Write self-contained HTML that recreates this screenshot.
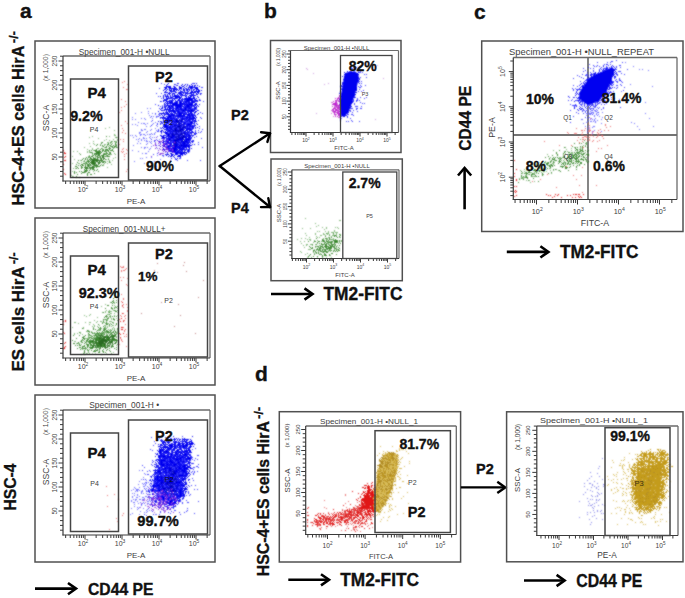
<!DOCTYPE html>
<html><head><meta charset="utf-8"><style>
html,body{margin:0;padding:0;background:#fff;width:685px;height:598px;overflow:hidden}
svg{display:block}
</style></head><body>
<svg width="685" height="598" viewBox="0 0 685 598" font-family='"Liberation Sans", sans-serif'>
<rect width="685" height="598" fill="#fff"/>
<defs><filter id="bl" x="0" y="0" width="685" height="598" filterUnits="userSpaceOnUse"><feConvolveMatrix order="3" kernelMatrix="1 2 1 2 8 2 1 2 1" divisor="20" edgeMode="none"/></filter></defs>
<line x1="588" y1="57.5" x2="588" y2="199.5" stroke="#444" stroke-width="1.3"/>
<line x1="513.3" y1="135" x2="677" y2="135" stroke="#444" stroke-width="1.3"/>
<g filter="url(#bl)"><path d="M387.6 453.1 L392.9 452.6 L397.2 454.9 L397.8 461.0 L395.5 475.0 L391.0 490.8 L385.8 503.0 L380.6 510.0 L377.0 511.8 L375.3 510.0 L375.3 492.6 L377.0 475.0 L380.6 461.0 L384.0 455.0Z" fill="#c6a024"/>
<path d="M640.0 470.0 L662.0 465.0 L660.0 495.0 L650.0 508.0 L637.0 503.0 L635.0 485.0Z" fill="#c6a024"/>
<path d="M606 64h1m-4 2h1m2 0h1m4 0h1m1 0h1m0 1h1m-9 1h1m0 0h1m2 0h1m0 0h1m-258 1h1m248 0h1m1 0h1m0 0h1m1 0h1m0 0h1m0 0h1m0 0h1m0 0h1m1 0h1m-16 1h1m2 0h1m1 0h1m1 0h1m6 0h1m0 0h1m-268 1h1m2 0h1m0 0h1m1 0h1m249 0h1m1 0h1m2 0h1m0 0h1m2 0h1m2 0h1m-272 1h1m3 0h1m0 0h1m0 0h1m2 0h1m4 0h1m236 0h1m5 0h1m0 0h1m3 0h1m3 0h1m0 0h1m0 0h1m0 0h1m-269 1h1m3 0h1m1 0h1m0 0h1m2 0h1m0 0h1m0 0h1m236 0h1m0 0h1m2 0h1m1 0h1m0 0h1m0 0h1m1 0h1m2 0h1m2 0h1m1 0h1m0 0h1m-270 1h1m2 0h1m0 0h1m0 0h1m0 0h1m1 0h1m2 0h1m0 0h1m1 0h1m232 0h1m2 0h1m1 0h1m0 0h1m0 0h1m0 0h1m0 0h1m2 0h1m0 0h1m0 0h1m0 0h1m0 0h1m0 0h1m0 0h1m0 0h1m1 0h1m0 0h1m-268 1h1m1 0h1m0 0h1m1 0h1m2 0h1m1 0h1m0 0h1m232 0h1m0 0h1m1 0h1m0 0h1m0 0h1m1 0h1m0 0h1m0 0h1m2 0h1m0 0h1m1 0h1m0 0h1m0 0h1m1 0h1m1 0h1m1 0h1m-272 1h1m1 0h1m0 0h1m6 0h1m0 0h1m0 0h1m0 0h1m0 0h1m0 0h1m233 0h1m2 0h1m0 0h1m1 0h1m0 0h1m1 0h1m1 0h1m0 0h1m0 0h1m0 0h1m0 0h1m0 0h1m0 0h1m0 0h1m0 0h1m0 0h1m0 0h1m1 0h1m0 0h1m-272 1h1m3 0h1m0 0h1m0 0h1m0 0h1m1 0h1m2 0h1m1 0h1m229 0h1m2 0h1m0 0h1m2 0h1m0 0h1m0 0h1m0 0h1m1 0h1m0 0h1m0 0h1m0 0h1m0 0h1m0 0h1m1 0h1m0 0h1m0 0h1m-266 1h1m1 0h1m0 0h1m2 0h1m1 0h1m0 0h1m2 0h1m234 0h1m0 0h1m0 0h1m2 0h1m0 0h1m0 0h1m0 0h1m0 0h1m1 0h1m1 0h1m0 0h1m0 0h1m0 0h1m2 0h1m-268 1h1m0 0h1m0 0h1m1 0h1m0 0h1m2 0h1m2 0h1m4 0h1m227 0h1m1 0h1m0 0h1m0 0h1m0 0h1m0 0h1m1 0h1m1 0h1m0 0h1m0 0h1m0 0h1m1 0h1m0 0h1m3 0h1m0 0h1m0 0h1m0 0h1m0 0h1m-267 1h1m1 0h1m0 0h1m0 0h1m5 0h1m0 0h1m0 0h1m0 0h1m229 0h1m4 0h1m0 0h1m0 0h1m0 0h1m0 0h1m0 0h1m1 0h1m0 0h1m1 0h1m1 0h1m1 0h1m0 0h1m1 0h1m0 0h1m8 0h1m-276 1h1m0 0h1m5 0h1m2 0h1m231 0h1m0 0h1m0 0h1m1 0h1m0 0h1m0 0h1m0 0h1m0 0h1m0 0h1m1 0h1m0 0h1m0 0h1m0 0h1m0 0h1m0 0h1m3 0h1m1 0h1m1 0h1m-270 1h1m1 0h1m1 0h1m0 0h1m0 0h1m3 0h1m232 0h1m2 0h1m0 0h1m0 0h1m1 0h1m1 0h1m0 0h1m1 0h1m2 0h1m0 0h1m0 0h1m2 0h1m0 0h1m0 0h1m0 0h1m1 0h1m0 0h1m0 0h1m-445 1h1m8 0h1m16 0h1m1 0h1m145 0h1m0 0h1m2 0h1m3 0h1m0 0h1m1 0h1m0 0h1m4 0h1m221 0h1m2 0h1m1 0h1m0 0h1m1 0h1m1 0h1m1 0h1m1 0h1m0 0h1m0 0h1m1 0h1m0 0h1m0 0h1m0 0h1m0 0h1m0 0h1m0 0h1m1 0h1m0 0h1m0 0h1m0 0h1m-444 1h1m6 0h1m7 0h1m2 0h1m1 0h1m3 0h1m152 0h1m1 0h1m0 0h1m0 0h1m0 0h1m0 0h1m1 0h1m1 0h1m0 0h1m0 0h1m227 0h1m1 0h1m0 0h1m0 0h1m0 0h1m1 0h1m2 0h1m1 0h1m0 0h1m0 0h1m1 0h1m0 0h1m0 0h1m0 0h1m0 0h1m0 0h1m1 0h1m2 0h1m-445 1h1m9 0h1m0 0h1m3 0h1m2 0h1m2 0h1m1 0h1m2 0h1m1 0h1m0 0h1m1 0h1m143 0h1m1 0h1m0 0h1m0 0h1m0 0h1m0 0h1m2 0h1m0 0h1m0 0h1m0 0h1m0 0h1m1 0h1m222 0h1m2 0h1m0 0h1m2 0h1m1 0h1m0 0h1m0 0h1m0 0h1m0 0h1m0 0h1m0 0h1m0 0h1m0 0h1m0 0h1m0 0h1m0 0h1m0 0h1m0 0h1m0 0h1m0 0h1m0 0h1m0 0h1m0 0h1m1 0h1m0 0h1m1 0h1m-446 1h1m0 0h1m0 0h1m0 0h1m0 0h1m3 0h1m4 0h1m2 0h1m0 0h1m2 0h1m2 0h1m0 0h1m0 0h1m0 0h1m1 0h1m4 0h1m141 0h1m3 0h1m1 0h1m0 0h1m0 0h1m0 0h1m2 0h1m0 0h1m0 0h1m226 0h1m0 0h1m0 0h1m0 0h1m0 0h1m0 0h1m0 0h1m0 0h1m0 0h1m0 0h1m0 0h1m0 0h1m0 0h1m0 0h1m0 0h1m0 0h1m1 0h1m0 0h1m0 0h1m0 0h1m1 0h1m1 0h1m0 0h1m-444 1h1m0 0h1m0 0h1m1 0h1m0 0h1m0 0h1m3 0h1m0 0h1m3 0h1m0 0h1m0 0h1m2 0h1m3 0h1m1 0h1m0 0h1m0 0h1m0 0h1m0 0h1m0 0h1m0 0h1m0 0h1m145 0h1m0 0h1m0 0h1m0 0h1m6 0h1m0 0h1m1 0h1m223 0h1m1 0h1m0 0h1m1 0h1m0 0h1m1 0h1m0 0h1m0 0h1m0 0h1m0 0h1m0 0h1m0 0h1m0 0h1m0 0h1m0 0h1m1 0h1m0 0h1m0 0h1m0 0h1m0 0h1m0 0h1m0 0h1m0 0h1m0 0h1m1 0h1m2 0h1m-448 1h1m0 0h1m2 0h1m0 0h1m0 0h1m0 0h1m0 0h1m0 0h1m0 0h1m0 0h1m2 0h1m0 0h1m0 0h1m1 0h1m1 0h1m0 0h1m1 0h1m1 0h1m0 0h1m3 0h1m0 0h1m0 0h1m144 0h1m5 0h1m1 0h1m0 0h1m0 0h1m3 0h1m227 0h1m1 0h1m0 0h1m0 0h1m0 0h1m0 0h1m0 0h1m0 0h1m0 0h1m1 0h1m0 0h1m0 0h1m0 0h1m0 0h1m0 0h1m1 0h1m3 0h1m0 0h1m1 0h1m0 0h1m-447 1h1m0 0h1m1 0h1m1 0h1m1 0h1m1 0h1m0 0h1m0 0h1m0 0h1m0 0h1m1 0h1m1 0h1m1 0h1m0 0h1m1 0h1m0 0h1m1 0h1m1 0h1m1 0h1m0 0h1m1 0h1m0 0h1m0 0h1m142 0h1m0 0h1m0 0h1m0 0h1m0 0h1m0 0h1m0 0h1m2 0h1m0 0h1m1 0h1m2 0h1m222 0h1m2 0h1m1 0h1m0 0h1m0 0h1m0 0h1m0 0h1m2 0h1m1 0h1m0 0h1m0 0h1m0 0h1m0 0h1m0 0h1m0 0h1m0 0h1m0 0h1m0 0h1m0 0h1m1 0h1m2 0h1m0 0h1m-447 1h1m2 0h1m2 0h1m0 0h1m0 0h1m1 0h1m0 0h1m1 0h1m1 0h1m1 0h1m2 0h1m0 0h1m1 0h1m0 0h1m1 0h1m1 0h1m1 0h1m2 0h1m1 0h1m0 0h1m1 0h1m141 0h1m0 0h1m0 0h1m5 0h1m0 0h1m1 0h1m0 0h1m0 0h1m220 0h1m5 0h1m0 0h1m1 0h1m0 0h1m0 0h1m0 0h1m0 0h1m0 0h1m1 0h1m0 0h1m0 0h1m0 0h1m0 0h1m0 0h1m0 0h1m0 0h1m0 0h1m0 0h1m0 0h1m0 0h1m0 0h1m0 0h1m-442 1h1m4 0h1m0 0h1m0 0h1m0 0h1m0 0h1m0 0h1m4 0h1m0 0h1m0 0h1m1 0h1m2 0h1m0 0h1m2 0h1m0 0h1m1 0h1m0 0h1m0 0h1m0 0h1m0 0h1m0 0h1m144 0h1m1 0h1m2 0h1m0 0h1m0 0h1m0 0h1m228 0h1m0 0h1m1 0h1m0 0h1m0 0h1m0 0h1m1 0h1m0 0h1m0 0h1m0 0h1m1 0h1m0 0h1m0 0h1m0 0h1m0 0h1m0 0h1m0 0h1m0 0h1m0 0h1m0 0h1m0 0h1m0 0h1m2 0h1m-445 1h1m0 0h1m0 0h1m0 0h1m1 0h1m1 0h1m3 0h1m0 0h1m1 0h1m0 0h1m0 0h1m0 0h1m0 0h1m0 0h1m1 0h1m1 0h1m2 0h1m0 0h1m0 0h1m0 0h1m0 0h1m0 0h1m1 0h1m0 0h1m141 0h1m1 0h1m0 0h1m1 0h1m0 0h1m0 0h1m0 0h1m2 0h1m1 0h1m1 0h1m0 0h1m219 0h1m3 0h1m0 0h1m0 0h1m0 0h1m0 0h1m0 0h1m0 0h1m0 0h1m0 0h1m1 0h1m0 0h1m0 0h1m0 0h1m0 0h1m0 0h1m0 0h1m0 0h1m0 0h1m0 0h1m1 0h1m0 0h1m0 0h1m0 0h1m0 0h1m0 0h1m0 0h1m2 0h1m-443 1h1m0 0h1m0 0h1m1 0h1m0 0h1m0 0h1m3 0h1m0 0h1m0 0h1m0 0h1m1 0h1m1 0h1m0 0h1m0 0h1m0 0h1m0 0h1m0 0h1m0 0h1m1 0h1m2 0h1m1 0h1m1 0h1m138 0h1m1 0h1m1 0h1m0 0h1m0 0h1m1 0h1m0 0h1m1 0h1m0 0h1m0 0h1m224 0h1m1 0h1m0 0h1m0 0h1m0 0h1m1 0h1m0 0h1m1 0h1m0 0h1m0 0h1m0 0h1m0 0h1m0 0h1m0 0h1m0 0h1m0 0h1m0 0h1m0 0h1m0 0h1m0 0h1m0 0h1m0 0h1m0 0h1m0 0h1m0 0h1m2 0h1m-443 1h1m1 0h1m1 0h1m2 0h1m1 0h1m2 0h1m1 0h1m1 0h1m0 0h1m2 0h1m1 0h1m3 0h1m0 0h1m0 0h1m2 0h1m0 0h1m2 0h1m140 0h1m0 0h1m0 0h1m2 0h1m1 0h1m0 0h1m0 0h1m1 0h1m0 0h1m0 0h1m0 0h1m220 0h1m1 0h1m1 0h1m1 0h1m0 0h1m0 0h1m0 0h1m0 0h1m0 0h1m1 0h1m0 0h1m0 0h1m0 0h1m0 0h1m0 0h1m0 0h1m0 0h1m0 0h1m0 0h1m0 0h1m3 0h1m1 0h1m0 0h1m-444 1h1m1 0h1m1 0h1m2 0h1m1 0h1m1 0h1m0 0h1m0 0h1m0 0h1m0 0h1m1 0h1m1 0h1m0 0h1m0 0h1m0 0h1m0 0h1m2 0h1m0 0h1m0 0h1m0 0h1m0 0h1m0 0h1m0 0h1m147 0h1m0 0h1m0 0h1m2 0h1m1 0h1m0 0h1m0 0h1m1 0h1m220 0h1m4 0h1m0 0h1m0 0h1m0 0h1m0 0h1m0 0h1m0 0h1m0 0h1m0 0h1m1 0h1m0 0h1m0 0h1m2 0h1m0 0h1m0 0h1m0 0h1m0 0h1m0 0h1m0 0h1m0 0h1m1 0h1m-445 1h1m2 0h1m1 0h1m0 0h1m0 0h1m0 0h1m1 0h1m2 0h1m0 0h1m0 0h1m0 0h1m0 0h1m0 0h1m0 0h1m1 0h1m3 0h1m2 0h1m1 0h1m0 0h1m1 0h1m3 0h1m142 0h1m2 0h1m2 0h1m0 0h1m2 0h1m3 0h1m213 0h1m11 0h1m0 0h1m0 0h1m1 0h1m0 0h1m0 0h1m0 0h1m0 0h1m0 0h1m0 0h1m0 0h1m0 0h1m0 0h1m0 0h1m0 0h1m0 0h1m0 0h1m0 0h1m0 0h1m0 0h1m1 0h1m-440 1h1m2 0h1m1 0h1m1 0h1m0 0h1m0 0h1m2 0h1m0 0h1m0 0h1m0 0h1m0 0h1m0 0h1m0 0h1m4 0h1m1 0h1m0 0h1m0 0h1m2 0h1m0 0h1m3 0h1m145 0h1m0 0h1m0 0h1m0 0h1m3 0h1m0 0h1m1 0h1m218 0h1m4 0h1m0 0h1m1 0h1m0 0h1m0 0h1m0 0h1m0 0h1m0 0h1m0 0h1m0 0h1m0 0h1m0 0h1m0 0h1m0 0h1m0 0h1m0 0h1m1 0h1m0 0h1m0 0h1m0 0h1m0 0h1m1 0h1m-440 1h1m2 0h1m0 0h1m0 0h1m0 0h1m0 0h1m2 0h1m0 0h1m0 0h1m0 0h1m0 0h1m1 0h1m0 0h1m1 0h1m1 0h1m0 0h1m0 0h1m0 0h1m0 0h1m0 0h1m0 0h1m0 0h1m0 0h1m0 0h1m0 0h1m1 0h1m142 0h1m3 0h1m0 0h1m0 0h1m0 0h1m0 0h1m0 0h1m0 0h1m0 0h1m226 0h1m2 0h1m0 0h1m0 0h1m0 0h1m0 0h1m0 0h1m0 0h1m0 0h1m0 0h1m0 0h1m0 0h1m1 0h1m0 0h1m0 0h1m0 0h1m0 0h1m1 0h1m0 0h1m0 0h1m1 0h1m2 0h1m-442 1h1m0 0h1m0 0h1m0 0h1m4 0h1m1 0h1m3 0h1m0 0h1m1 0h1m0 0h1m1 0h1m0 0h1m0 0h1m0 0h1m0 0h1m0 0h1m0 0h1m0 0h1m0 0h1m1 0h1m0 0h1m3 0h1m139 0h1m0 0h1m2 0h1m0 0h1m1 0h1m0 0h1m2 0h1m0 0h1m0 0h1m226 0h1m1 0h1m0 0h1m0 0h1m1 0h1m0 0h1m0 0h1m0 0h1m1 0h1m0 0h1m0 0h1m0 0h1m0 0h1m0 0h1m0 0h1m2 0h1m1 0h1m0 0h1m-440 1h1m0 0h1m0 0h1m0 0h1m2 0h1m0 0h1m0 0h1m0 0h1m0 0h1m1 0h1m1 0h1m0 0h1m0 0h1m0 0h1m0 0h1m0 0h1m1 0h1m0 0h1m0 0h1m0 0h1m0 0h1m0 0h1m0 0h1m0 0h1m0 0h1m0 0h1m0 0h1m0 0h1m0 0h1m0 0h1m1 0h1m139 0h1m1 0h1m0 0h1m0 0h1m0 0h1m0 0h1m0 0h1m1 0h1m0 0h1m0 0h1m0 0h1m1 0h1m217 0h1m5 0h1m0 0h1m0 0h1m3 0h1m1 0h1m0 0h1m0 0h1m0 0h1m0 0h1m0 0h1m0 0h1m1 0h1m0 0h1m0 0h1m0 0h1m0 0h1m0 0h1m2 0h1m1 0h1m0 0h1m-445 1h1m0 0h1m1 0h1m2 0h1m0 0h1m0 0h1m0 0h1m0 0h1m0 0h1m0 0h1m2 0h1m0 0h1m0 0h1m1 0h1m0 0h1m0 0h1m0 0h1m1 0h1m0 0h1m0 0h1m0 0h1m0 0h1m0 0h1m1 0h1m0 0h1m0 0h1m0 0h1m0 0h1m1 0h1m140 0h1m0 0h1m0 0h1m3 0h1m2 0h1m0 0h1m1 0h1m0 0h1m0 0h1m0 0h1m220 0h1m3 0h1m1 0h1m0 0h1m0 0h1m2 0h1m0 0h1m0 0h1m0 0h1m0 0h1m0 0h1m0 0h1m1 0h1m0 0h1m0 0h1m0 0h1m0 0h1m0 0h1m3 0h1m-438 1h1m1 0h1m1 0h1m0 0h1m0 0h1m0 0h1m1 0h1m0 0h1m0 0h1m0 0h1m1 0h1m0 0h1m0 0h1m1 0h1m0 0h1m0 0h1m0 0h1m0 0h1m0 0h1m0 0h1m0 0h1m0 0h1m0 0h1m0 0h1m0 0h1m146 0h1m0 0h1m0 0h1m0 0h1m0 0h1m1 0h1m3 0h1m0 0h1m226 0h1m5 0h1m1 0h1m0 0h1m0 0h1m0 0h1m1 0h1m0 0h1m0 0h1m2 0h1m1 0h1m4 0h1m-441 1h1m1 0h1m0 0h1m0 0h1m0 0h1m0 0h1m0 0h1m0 0h1m0 0h1m0 0h1m0 0h1m0 0h1m0 0h1m1 0h1m0 0h1m0 0h1m0 0h1m0 0h1m0 0h1m1 0h1m0 0h1m0 0h1m0 0h1m0 0h1m0 0h1m0 0h1m2 0h1m0 0h1m144 0h1m0 0h1m2 0h1m0 0h1m0 0h1m0 0h1m0 0h1m0 0h1m0 0h1m227 0h1m4 0h1m2 0h1m1 0h1m0 0h1m0 0h1m0 0h1m6 0h1m-436 1h1m0 0h1m1 0h1m2 0h1m1 0h1m0 0h1m0 0h1m0 0h1m0 0h1m0 0h1m0 0h1m0 0h1m0 0h1m0 0h1m0 0h1m0 0h1m0 0h1m0 0h1m0 0h1m0 0h1m0 0h1m0 0h1m0 0h1m0 0h1m0 0h1m1 0h1m0 0h1m0 0h1m2 0h1m140 0h1m1 0h1m0 0h1m0 0h1m1 0h1m234 0h1m2 0h1m3 0h1m3 0h1m4 0h1m-440 1h1m5 0h1m0 0h1m0 0h1m0 0h1m0 0h1m0 0h1m0 0h1m0 0h1m0 0h1m0 0h1m0 0h1m0 0h1m0 0h1m0 0h1m0 0h1m0 0h1m0 0h1m0 0h1m0 0h1m1 0h1m1 0h1m0 0h1m0 0h1m0 0h1m0 0h1m0 0h1m0 0h1m0 0h1m0 0h1m0 0h1m1 0h1m142 0h1m1 0h1m0 0h1m0 0h1m0 0h1m3 0h1m234 0h1m2 0h1m3 0h1m0 0h1m-431 1h1m1 0h1m1 0h1m1 0h1m0 0h1m0 0h1m0 0h1m0 0h1m0 0h1m1 0h1m0 0h1m0 0h1m0 0h1m0 0h1m0 0h1m0 0h1m0 0h1m0 0h1m0 0h1m0 0h1m0 0h1m0 0h1m0 0h1m0 0h1m0 0h1m0 0h1m0 0h1m0 0h1m0 0h1m1 0h1m1 0h1m140 0h1m1 0h1m1 0h1m0 0h1m2 0h1m1 0h1m1 0h1m224 0h1m13 0h1m2 0h1m1 0h1m-434 1h1m1 0h1m0 0h1m1 0h1m0 0h1m0 0h1m0 0h1m0 0h1m0 0h1m0 0h1m1 0h1m0 0h1m0 0h1m0 0h1m0 0h1m0 0h1m0 0h1m1 0h1m0 0h1m0 0h1m0 0h1m0 0h1m0 0h1m0 0h1m0 0h1m0 0h1m2 0h1m0 0h1m0 0h1m146 0h1m0 0h1m0 0h1m0 0h1m0 0h1m2 0h1m223 0h1m5 0h1m4 0h1m3 0h1m-429 1h1m0 0h1m2 0h1m1 0h1m1 0h1m0 0h1m0 0h1m0 0h1m0 0h1m0 0h1m0 0h1m0 0h1m0 0h1m0 0h1m0 0h1m0 0h1m0 0h1m0 0h1m0 0h1m0 0h1m0 0h1m0 0h1m0 0h1m0 0h1m0 0h1m0 0h1m0 0h1m0 0h1m0 0h1m0 0h1m0 0h1m0 0h1m142 0h1m0 0h1m1 0h1m2 0h1m3 0h1m224 0h1m4 0h1m2 0h1m7 0h1m2 0h1m-434 1h1m3 0h1m0 0h1m0 0h1m0 0h1m0 0h1m0 0h1m0 0h1m1 0h1m0 0h1m1 0h1m0 0h1m0 0h1m0 0h1m0 0h1m0 0h1m0 0h1m0 0h1m0 0h1m0 0h1m0 0h1m0 0h1m0 0h1m0 0h1m0 0h1m0 0h1m0 0h1m0 0h1m0 0h1m0 0h1m1 0h1m148 0h1m0 0h1m233 0h1m2 0h1m6 0h1m-430 1h1m0 0h1m0 0h1m0 0h1m1 0h1m1 0h1m1 0h1m0 0h1m0 0h1m0 0h1m0 0h1m0 0h1m0 0h1m0 0h1m0 0h1m0 0h1m0 0h1m0 0h1m0 0h1m0 0h1m0 0h1m0 0h1m0 0h1m0 0h1m0 0h1m0 0h1m0 0h1m0 0h1m0 0h1m0 0h1m0 0h1m2 0h1m143 0h1m1 0h1m1 0h1m232 0h1m7 0h1m0 0h1m-430 1h1m7 0h1m1 0h1m0 0h1m0 0h1m0 0h1m0 0h1m0 0h1m0 0h1m0 0h1m0 0h1m0 0h1m0 0h1m0 0h1m0 0h1m0 0h1m0 0h1m0 0h1m0 0h1m2 0h1m0 0h1m0 0h1m0 0h1m0 0h1m0 0h1m0 0h1m1 0h1m0 0h1m143 0h1m3 0h1m0 0h1m0 0h1m0 0h1m-185 1h1m1 0h1m0 0h1m0 0h1m1 0h1m1 0h1m1 0h1m0 0h1m0 0h1m1 0h1m0 0h1m0 0h1m0 0h1m0 0h1m0 0h1m0 0h1m0 0h1m0 0h1m0 0h1m0 0h1m0 0h1m1 0h1m0 0h1m2 0h1m0 0h1m147 0h1m1 0h1m0 0h1m0 0h1m0 0h1m242 0h1m-433 1h1m0 0h1m0 0h1m0 0h1m0 0h1m0 0h1m0 0h1m0 0h1m0 0h1m0 0h1m1 0h1m0 0h1m0 0h1m1 0h1m0 0h1m1 0h1m0 0h1m0 0h1m0 0h1m0 0h1m0 0h1m0 0h1m0 0h1m0 0h1m0 0h1m1 0h1m0 0h1m0 0h1m0 0h1m0 0h1m1 0h1m3 0h1m141 0h1m4 0h1m-185 1h1m2 0h1m0 0h1m0 0h1m0 0h1m0 0h1m0 0h1m0 0h1m0 0h1m0 0h1m0 0h1m0 0h1m1 0h1m0 0h1m0 0h1m0 0h1m0 0h1m0 0h1m1 0h1m0 0h1m0 0h1m0 0h1m0 0h1m0 0h1m0 0h1m0 0h1m0 0h1m0 0h1m0 0h1m0 0h1m2 0h1m144 0h1m1 0h1m0 0h1m-186 1h1m1 0h1m1 0h1m3 0h1m0 0h1m0 0h1m0 0h1m0 0h1m0 0h1m0 0h1m0 0h1m0 0h1m0 0h1m0 0h1m0 0h1m0 0h1m0 0h1m0 0h1m0 0h1m0 0h1m2 0h1m0 0h1m0 0h1m0 0h1m0 0h1m0 0h1m0 0h1m0 0h1m0 0h1m149 0h1m0 0h1m-184 1h1m2 0h1m1 0h1m0 0h1m0 0h1m0 0h1m0 0h1m0 0h1m0 0h1m0 0h1m0 0h1m0 0h1m0 0h1m0 0h1m0 0h1m0 0h1m0 0h1m0 0h1m0 0h1m0 0h1m0 0h1m0 0h1m0 0h1m0 0h1m0 0h1m0 0h1m0 0h1m0 0h1m1 0h1m143 0h1m1 0h1m1 0h1m0 0h1m2 0h1m-188 1h1m0 0h1m0 0h1m0 0h1m0 0h1m0 0h1m1 0h1m0 0h1m0 0h1m0 0h1m0 0h1m0 0h1m0 0h1m0 0h1m0 0h1m1 0h1m0 0h1m0 0h1m0 0h1m0 0h1m0 0h1m0 0h1m0 0h1m0 0h1m0 0h1m0 0h1m0 0h1m0 0h1m0 0h1m1 0h1m0 0h1m0 0h1m1 0h1m-35 1h1m1 0h1m0 0h1m0 0h1m0 0h1m0 0h1m0 0h1m0 0h1m0 0h1m0 0h1m0 0h1m0 0h1m0 0h1m0 0h1m0 0h1m0 0h1m1 0h1m0 0h1m0 0h1m0 0h1m0 0h1m0 0h1m0 0h1m0 0h1m0 0h1m0 0h1m0 0h1m0 0h1m0 0h1m0 0h1m0 0h1m0 0h1m-33 1h1m1 0h1m0 0h1m0 0h1m0 0h1m0 0h1m0 0h1m0 0h1m0 0h1m1 0h1m0 0h1m0 0h1m0 0h1m1 0h1m0 0h1m0 0h1m0 0h1m0 0h1m0 0h1m0 0h1m0 0h1m0 0h1m0 0h1m0 0h1m0 0h1m0 0h1m0 0h1m0 0h1m1 0h1m-33 1h1m1 0h1m1 0h1m0 0h1m0 0h1m0 0h1m0 0h1m0 0h1m0 0h1m0 0h1m0 0h1m0 0h1m0 0h1m0 0h1m0 0h1m0 0h1m0 0h1m0 0h1m1 0h1m0 0h1m1 0h1m0 0h1m0 0h1m0 0h1m1 0h1m1 0h1m0 0h1m2 0h1m-41 1h1m1 0h1m2 0h1m0 0h1m0 0h1m0 0h1m0 0h1m0 0h1m0 0h1m0 0h1m0 0h1m0 0h1m0 0h1m0 0h1m0 0h1m0 0h1m0 0h1m0 0h1m0 0h1m0 0h1m0 0h1m0 0h1m0 0h1m0 0h1m0 0h1m0 0h1m0 0h1m0 0h1m0 0h1m0 0h1m0 0h1m0 0h1m0 0h1m0 0h1m0 0h1m0 0h1m-36 1h1m1 0h1m0 0h1m0 0h1m0 0h1m0 0h1m0 0h1m0 0h1m1 0h1m0 0h1m0 0h1m0 0h1m0 0h1m0 0h1m0 0h1m0 0h1m1 0h1m0 0h1m0 0h1m0 0h1m0 0h1m0 0h1m0 0h1m0 0h1m0 0h1m0 0h1m0 0h1m0 0h1m0 0h1m1 0h1m-35 1h1m0 0h1m0 0h1m3 0h1m0 0h1m0 0h1m1 0h1m0 0h1m0 0h1m0 0h1m0 0h1m0 0h1m2 0h1m0 0h1m0 0h1m0 0h1m1 0h1m0 0h1m0 0h1m0 0h1m0 0h1m0 0h1m0 0h1m0 0h1m0 0h1m0 0h1m1 0h1m1 0h1m-34 1h1m0 0h1m0 0h1m0 0h1m1 0h1m0 0h1m0 0h1m0 0h1m0 0h1m0 0h1m0 0h1m0 0h1m0 0h1m0 0h1m0 0h1m0 0h1m0 0h1m0 0h1m0 0h1m0 0h1m0 0h1m0 0h1m0 0h1m0 0h1m0 0h1m0 0h1m0 0h1m0 0h1m2 0h1m2 0h1m-35 1h1m0 0h1m0 0h1m0 0h1m0 0h1m0 0h1m1 0h1m0 0h1m0 0h1m0 0h1m0 0h1m0 0h1m0 0h1m0 0h1m0 0h1m0 0h1m0 0h1m0 0h1m0 0h1m0 0h1m0 0h1m1 0h1m0 0h1m0 0h1m0 0h1m0 0h1m0 0h1m0 0h1m0 0h1m0 0h1m0 0h1m-33 1h1m0 0h1m0 0h1m0 0h1m0 0h1m0 0h1m0 0h1m0 0h1m0 0h1m0 0h1m0 0h1m0 0h1m0 0h1m0 0h1m0 0h1m0 0h1m0 0h1m0 0h1m0 0h1m0 0h1m0 0h1m0 0h1m0 0h1m0 0h1m0 0h1m0 0h1m0 0h1m0 0h1m0 0h1m0 0h1m0 0h1m-32 1h1m1 0h1m0 0h1m0 0h1m0 0h1m0 0h1m0 0h1m0 0h1m0 0h1m0 0h1m0 0h1m0 0h1m0 0h1m0 0h1m0 0h1m0 0h1m1 0h1m0 0h1m0 0h1m0 0h1m0 0h1m0 0h1m0 0h1m0 0h1m0 0h1m0 0h1m0 0h1m0 0h1m0 0h1m0 0h1m1 0h1m1 0h1m-38 1h1m0 0h1m1 0h1m2 0h1m0 0h1m0 0h1m0 0h1m0 0h1m0 0h1m0 0h1m0 0h1m0 0h1m0 0h1m0 0h1m0 0h1m0 0h1m0 0h1m0 0h1m0 0h1m0 0h1m0 0h1m0 0h1m0 0h1m0 0h1m0 0h1m0 0h1m0 0h1m0 0h1m0 0h1m0 0h1m0 0h1m-30 1h1m0 0h1m0 0h1m0 0h1m0 0h1m0 0h1m0 0h1m1 0h1m0 0h1m0 0h1m0 0h1m0 0h1m0 0h1m0 0h1m0 0h1m0 0h1m0 0h1m0 0h1m0 0h1m0 0h1m1 0h1m0 0h1m0 0h1m0 0h1m0 0h1m0 0h1m0 0h1m-32 1h1m0 0h1m3 0h1m0 0h1m0 0h1m0 0h1m0 0h1m0 0h1m0 0h1m0 0h1m0 0h1m0 0h1m0 0h1m0 0h1m0 0h1m0 0h1m0 0h1m0 0h1m0 0h1m2 0h1m0 0h1m0 0h1m1 0h1m0 0h1m0 0h1m3 0h1m-36 1h1m0 0h1m1 0h1m1 0h1m1 0h1m0 0h1m0 0h1m0 0h1m0 0h1m0 0h1m0 0h1m0 0h1m1 0h1m0 0h1m0 0h1m0 0h1m0 0h1m0 0h1m0 0h1m0 0h1m0 0h1m0 0h1m1 0h1m0 0h1m0 0h1m1 0h1m0 0h1m-32 1h1m1 0h1m0 0h1m0 0h1m0 0h1m0 0h1m0 0h1m0 0h1m0 0h1m0 0h1m0 0h1m0 0h1m0 0h1m0 0h1m0 0h1m0 0h1m0 0h1m0 0h1m0 0h1m0 0h1m0 0h1m0 0h1m0 0h1m0 0h1m0 0h1m0 0h1m0 0h1m0 0h1m0 0h1m0 0h1m0 0h1m0 0h1m1 0h1m-35 1h1m3 0h1m0 0h1m0 0h1m0 0h1m0 0h1m0 0h1m0 0h1m0 0h1m0 0h1m0 0h1m0 0h1m0 0h1m0 0h1m0 0h1m0 0h1m1 0h1m0 0h1m0 0h1m0 0h1m0 0h1m0 0h1m0 0h1m0 0h1m0 0h1m0 0h1m0 0h1m2 0h1m1 0h1m-31 1h1m0 0h1m0 0h1m0 0h1m0 0h1m0 0h1m0 0h1m0 0h1m0 0h1m0 0h1m0 0h1m0 0h1m0 0h1m0 0h1m1 0h1m0 0h1m1 0h1m0 0h1m0 0h1m0 0h1m0 0h1m0 0h1m4 0h1m0 0h1m-36 1h1m0 0h1m1 0h1m0 0h1m0 0h1m0 0h1m0 0h1m0 0h1m0 0h1m0 0h1m0 0h1m0 0h1m0 0h1m0 0h1m0 0h1m0 0h1m0 0h1m0 0h1m0 0h1m0 0h1m0 0h1m0 0h1m0 0h1m0 0h1m0 0h1m0 0h1m0 0h1m0 0h1m0 0h1m0 0h1m0 0h1m0 0h1m0 0h1m-33 1h1m0 0h1m0 0h1m2 0h1m0 0h1m0 0h1m0 0h1m0 0h1m0 0h1m0 0h1m0 0h1m0 0h1m0 0h1m1 0h1m1 0h1m0 0h1m0 0h1m0 0h1m0 0h1m1 0h1m0 0h1m0 0h1m0 0h1m0 0h1m0 0h1m-29 1h1m0 0h1m0 0h1m0 0h1m2 0h1m0 0h1m0 0h1m0 0h1m0 0h1m0 0h1m0 0h1m0 0h1m0 0h1m0 0h1m0 0h1m0 0h1m0 0h1m0 0h1m0 0h1m0 0h1m0 0h1m0 0h1m0 0h1m1 0h1m0 0h1m0 0h1m0 0h1m-31 1h1m0 0h1m0 0h1m0 0h1m1 0h1m0 0h1m0 0h1m0 0h1m0 0h1m0 0h1m0 0h1m0 0h1m0 0h1m1 0h1m0 0h1m0 0h1m0 0h1m1 0h1m0 0h1m0 0h1m1 0h1m0 0h1m0 0h1m0 0h1m0 0h1m0 0h1m-27 1h1m1 0h1m0 0h1m0 0h1m0 0h1m0 0h1m0 0h1m0 0h1m0 0h1m0 0h1m0 0h1m0 0h1m0 0h1m0 0h1m0 0h1m0 0h1m0 0h1m0 0h1m0 0h1m0 0h1m0 0h1m0 0h1m0 0h1m0 0h1m0 0h1m0 0h1m-28 1h1m2 0h1m0 0h1m0 0h1m0 0h1m0 0h1m0 0h1m0 0h1m0 0h1m0 0h1m0 0h1m0 0h1m0 0h1m0 0h1m0 0h1m0 0h1m0 0h1m0 0h1m1 0h1m0 0h1m0 0h1m0 0h1m0 0h1m0 0h1m0 0h1m1 0h1m0 0h1m-35 1h1m3 0h1m0 0h1m0 0h1m0 0h1m0 0h1m0 0h1m1 0h1m0 0h1m0 0h1m0 0h1m0 0h1m0 0h1m0 0h1m0 0h1m0 0h1m0 0h1m0 0h1m1 0h1m0 0h1m0 0h1m0 0h1m0 0h1m0 0h1m0 0h1m0 0h1m1 0h1m0 0h1m0 0h1m-32 1h1m0 0h1m1 0h1m0 0h1m0 0h1m0 0h1m1 0h1m0 0h1m0 0h1m0 0h1m0 0h1m0 0h1m0 0h1m0 0h1m0 0h1m0 0h1m0 0h1m0 0h1m0 0h1m0 0h1m0 0h1m0 0h1m0 0h1m0 0h1m0 0h1m0 0h1m2 0h1m-30 1h1m1 0h1m0 0h1m0 0h1m0 0h1m0 0h1m0 0h1m0 0h1m1 0h1m1 0h1m0 0h1m0 0h1m0 0h1m0 0h1m0 0h1m0 0h1m0 0h1m0 0h1m0 0h1m0 0h1m0 0h1m0 0h1m0 0h1m1 0h1m-28 1h1m1 0h1m0 0h1m0 0h1m1 0h1m0 0h1m0 0h1m1 0h1m0 0h1m0 0h1m0 0h1m0 0h1m0 0h1m0 0h1m0 0h1m0 0h1m0 0h1m0 0h1m0 0h1m0 0h1m0 0h1m0 0h1m0 0h1m0 0h1m4 0h1m-33 1h1m0 0h1m0 0h1m1 0h1m0 0h1m0 0h1m0 0h1m0 0h1m0 0h1m0 0h1m0 0h1m0 0h1m0 0h1m0 0h1m0 0h1m0 0h1m0 0h1m0 0h1m0 0h1m0 0h1m0 0h1m0 0h1m0 0h1m0 0h1m0 0h1m0 0h1m0 0h1m0 0h1m0 0h1m-32 1h1m2 0h1m0 0h1m0 0h1m0 0h1m0 0h1m0 0h1m0 0h1m0 0h1m0 0h1m0 0h1m0 0h1m0 0h1m0 0h1m0 0h1m0 0h1m0 0h1m0 0h1m0 0h1m0 0h1m0 0h1m0 0h1m0 0h1m0 0h1m0 0h1m0 0h1m0 0h1m0 0h1m-28 1h1m2 0h1m0 0h1m0 0h1m0 0h1m3 0h1m0 0h1m0 0h1m0 0h1m0 0h1m0 0h1m0 0h1m0 0h1m0 0h1m0 0h1m0 0h1m0 0h1m0 0h1m0 0h1m0 0h1m1 0h1m0 0h1m-27 1h1m2 0h1m0 0h1m0 0h1m0 0h1m0 0h1m0 0h1m0 0h1m0 0h1m0 0h1m0 0h1m0 0h1m0 0h1m0 0h1m0 0h1m0 0h1m0 0h1m0 0h1m0 0h1m0 0h1m1 0h1m2 0h1m1 0h1m-29 1h1m0 0h1m0 0h1m0 0h1m0 0h1m0 0h1m0 0h1m0 0h1m0 0h1m0 0h1m0 0h1m0 0h1m0 0h1m0 0h1m0 0h1m1 0h1m0 0h1m0 0h1m0 0h1m0 0h1m0 0h1m0 0h1m0 0h1m0 0h1m0 0h1m0 0h1m-26 1h1m4 0h1m0 0h1m0 0h1m0 0h1m0 0h1m0 0h1m0 0h1m0 0h1m1 0h1m0 0h1m0 0h1m0 0h1m0 0h1m1 0h1m0 0h1m1 0h1m0 0h1m-24 1h1m0 0h1m2 0h1m0 0h1m0 0h1m0 0h1m0 0h1m0 0h1m0 0h1m0 0h1m0 0h1m0 0h1m0 0h1m0 0h1m1 0h1m1 0h1m2 0h1m0 0h1m-24 1h1m1 0h1m4 0h1m0 0h1m0 0h1m0 0h1m0 0h1m0 0h1m0 0h1m0 0h1m0 0h1m0 0h1m0 0h1m0 0h1m0 0h1m0 0h1m0 0h1m1 0h1m-19 1h1m0 0h1m3 0h1m0 0h1m0 0h1m0 0h1m0 0h1m0 0h1m0 0h1m0 0h1m0 0h1m0 0h1m1 0h1m-22 1h1m2 0h1m2 0h1m0 0h1m2 0h1m0 0h1m0 0h1m2 0h1m0 0h1m0 0h1m2 0h1m-20 1h1m2 0h1m1 0h1m0 0h1m1 0h1m3 0h1m0 0h1m0 0h1m1 0h1m-15 1h1m1 0h1m0 0h1m1 0h1m3 0h1m0 0h1m0 0h1m0 0h1m-7 1h1m5 0h1m-10 1h1m5 0h1m-2 1h1m-4 277h1m18 0h1m-28 1h1m-7 1h1m7 0h1m2 0h1m0 0h1m2 0h1m1 0h1m7 0h1m-19 1h1m2 0h1m3 0h1m0 0h1m0 0h1m1 0h1m1 0h1m0 0h1m1 0h1m0 0h1m0 0h1m0 0h1m0 0h1m0 0h1m0 0h1m1 0h1m-31 1h1m0 0h1m0 0h1m1 0h1m6 0h1m2 0h1m2 0h1m1 0h1m2 0h1m1 0h1m1 0h1m0 0h1m3 0h1m-31 1h1m0 0h1m0 0h1m0 0h1m1 0h1m0 0h1m0 0h1m0 0h1m0 0h1m2 0h1m0 0h1m0 0h1m0 0h1m1 0h1m1 0h1m1 0h1m0 0h1m0 0h1m0 0h1m0 0h1m2 0h1m0 0h1m0 0h1m-30 1h1m0 0h1m0 0h1m0 0h1m1 0h1m0 0h1m0 0h1m3 0h1m0 0h1m0 0h1m0 0h1m0 0h1m0 0h1m0 0h1m2 0h1m2 0h1m0 0h1m0 0h1m0 0h1m0 0h1m1 0h1m0 0h1m-31 1h1m0 0h1m1 0h1m2 0h1m2 0h1m0 0h1m1 0h1m0 0h1m2 0h1m0 0h1m0 0h1m0 0h1m0 0h1m0 0h1m0 0h1m1 0h1m0 0h1m1 0h1m0 0h1m0 0h1m0 0h1m0 0h1m-36 1h1m1 0h1m0 0h1m1 0h1m0 0h1m1 0h1m0 0h1m1 0h1m0 0h1m0 0h1m0 0h1m0 0h1m0 0h1m0 0h1m1 0h1m0 0h1m0 0h1m0 0h1m1 0h1m0 0h1m1 0h1m0 0h1m0 0h1m0 0h1m0 0h1m0 0h1m0 0h1m0 0h1m-33 1h1m0 0h1m0 0h1m1 0h1m0 0h1m2 0h1m0 0h1m0 0h1m0 0h1m0 0h1m1 0h1m0 0h1m1 0h1m0 0h1m0 0h1m0 0h1m0 0h1m0 0h1m0 0h1m0 0h1m0 0h1m0 0h1m0 0h1m2 0h1m-33 1h1m0 0h1m0 0h1m2 0h1m0 0h1m0 0h1m0 0h1m0 0h1m1 0h1m0 0h1m0 0h1m0 0h1m0 0h1m0 0h1m0 0h1m0 0h1m0 0h1m1 0h1m0 0h1m0 0h1m0 0h1m0 0h1m0 0h1m0 0h1m0 0h1m0 0h1m1 0h1m0 0h1m0 0h1m1 0h1m-34 1h1m0 0h1m0 0h1m0 0h1m0 0h1m0 0h1m0 0h1m0 0h1m0 0h1m1 0h1m0 0h1m0 0h1m1 0h1m0 0h1m0 0h1m0 0h1m0 0h1m0 0h1m0 0h1m1 0h1m0 0h1m0 0h1m1 0h1m1 0h1m0 0h1m0 0h1m-32 1h1m1 0h1m1 0h1m1 0h1m1 0h1m0 0h1m0 0h1m0 0h1m0 0h1m1 0h1m0 0h1m0 0h1m0 0h1m2 0h1m0 0h1m0 0h1m1 0h1m0 0h1m0 0h1m0 0h1m0 0h1m0 0h1m0 0h1m-31 1h1m0 0h1m0 0h1m0 0h1m0 0h1m0 0h1m2 0h1m0 0h1m0 0h1m0 0h1m0 0h1m0 0h1m0 0h1m0 0h1m2 0h1m0 0h1m0 0h1m0 0h1m0 0h1m2 0h1m1 0h1m1 0h1m0 0h1m-33 1h1m1 0h1m0 0h1m0 0h1m0 0h1m0 0h1m1 0h1m0 0h1m0 0h1m0 0h1m0 0h1m1 0h1m0 0h1m0 0h1m0 0h1m1 0h1m0 0h1m0 0h1m2 0h1m0 0h1m1 0h1m0 0h1m0 0h1m0 0h1m0 0h1m0 0h1m0 0h1m-33 1h1m0 0h1m0 0h1m0 0h1m0 0h1m0 0h1m0 0h1m0 0h1m0 0h1m0 0h1m0 0h1m2 0h1m0 0h1m2 0h1m0 0h1m0 0h1m0 0h1m0 0h1m0 0h1m0 0h1m0 0h1m0 0h1m0 0h1m0 0h1m0 0h1m0 0h1m1 0h1m0 0h1m-32 1h1m0 0h1m0 0h1m1 0h1m0 0h1m0 0h1m0 0h1m0 0h1m0 0h1m0 0h1m1 0h1m0 0h1m0 0h1m0 0h1m0 0h1m0 0h1m1 0h1m0 0h1m0 0h1m0 0h1m0 0h1m0 0h1m0 0h1m0 0h1m0 0h1m0 0h1m0 0h1m0 0h1m0 0h1m0 0h1m-35 1h1m1 0h1m0 0h1m0 0h1m0 0h1m0 0h1m1 0h1m0 0h1m0 0h1m0 0h1m1 0h1m0 0h1m0 0h1m2 0h1m0 0h1m0 0h1m0 0h1m1 0h1m0 0h1m0 0h1m1 0h1m0 0h1m0 0h1m0 0h1m0 0h1m-33 1h1m0 0h1m2 0h1m0 0h1m0 0h1m0 0h1m0 0h1m2 0h1m0 0h1m0 0h1m0 0h1m0 0h1m0 0h1m0 0h1m0 0h1m0 0h1m0 0h1m0 0h1m0 0h1m0 0h1m0 0h1m1 0h1m0 0h1m0 0h1m0 0h1m0 0h1m0 0h1m0 0h1m0 0h1m-32 1h1m0 0h1m0 0h1m0 0h1m0 0h1m0 0h1m0 0h1m0 0h1m0 0h1m0 0h1m0 0h1m1 0h1m0 0h1m0 0h1m0 0h1m0 0h1m0 0h1m0 0h1m0 0h1m0 0h1m0 0h1m0 0h1m0 0h1m0 0h1m0 0h1m0 0h1m0 0h1m0 0h1m0 0h1m1 0h1m0 0h1m-36 1h1m2 0h1m0 0h1m0 0h1m0 0h1m0 0h1m0 0h1m0 0h1m0 0h1m0 0h1m0 0h1m0 0h1m0 0h1m0 0h1m0 0h1m0 0h1m0 0h1m0 0h1m0 0h1m0 0h1m0 0h1m0 0h1m0 0h1m0 0h1m0 0h1m0 0h1m0 0h1m0 0h1m0 0h1m0 0h1m0 0h1m0 0h1m1 0h1m-33 1h1m0 0h1m0 0h1m0 0h1m0 0h1m0 0h1m0 0h1m0 0h1m0 0h1m0 0h1m0 0h1m0 0h1m0 0h1m0 0h1m0 0h1m0 0h1m0 0h1m1 0h1m0 0h1m0 0h1m0 0h1m0 0h1m0 0h1m0 0h1m0 0h1m0 0h1m0 0h1m1 0h1m0 0h1m0 0h1m0 0h1m-32 1h1m0 0h1m1 0h1m0 0h1m0 0h1m0 0h1m0 0h1m0 0h1m0 0h1m0 0h1m0 0h1m0 0h1m0 0h1m0 0h1m0 0h1m0 0h1m0 0h1m0 0h1m0 0h1m0 0h1m0 0h1m0 0h1m0 0h1m0 0h1m0 0h1m0 0h1m0 0h1m0 0h1m0 0h1m0 0h1m0 0h1m0 0h1m-35 1h1m0 0h1m0 0h1m0 0h1m0 0h1m0 0h1m0 0h1m0 0h1m0 0h1m0 0h1m0 0h1m0 0h1m0 0h1m0 0h1m0 0h1m0 0h1m0 0h1m0 0h1m0 0h1m0 0h1m0 0h1m0 0h1m0 0h1m0 0h1m0 0h1m0 0h1m0 0h1m0 0h1m0 0h1m0 0h1m0 0h1m0 0h1m0 0h1m0 0h1m-36 1h1m0 0h1m1 0h1m0 0h1m0 0h1m0 0h1m0 0h1m0 0h1m0 0h1m0 0h1m0 0h1m0 0h1m0 0h1m0 0h1m0 0h1m0 0h1m0 0h1m0 0h1m0 0h1m0 0h1m0 0h1m0 0h1m0 0h1m0 0h1m0 0h1m0 0h1m0 0h1m0 0h1m0 0h1m0 0h1m0 0h1m0 0h1m1 0h1m0 0h1m-34 1h1m1 0h1m0 0h1m0 0h1m0 0h1m0 0h1m0 0h1m0 0h1m0 0h1m0 0h1m0 0h1m0 0h1m0 0h1m0 0h1m0 0h1m0 0h1m0 0h1m0 0h1m0 0h1m0 0h1m0 0h1m0 0h1m0 0h1m0 0h1m0 0h1m0 0h1m0 0h1m0 0h1m0 0h1m0 0h1m0 0h1m0 0h1m-35 1h1m2 0h1m0 0h1m0 0h1m0 0h1m0 0h1m0 0h1m0 0h1m0 0h1m0 0h1m0 0h1m0 0h1m0 0h1m0 0h1m0 0h1m0 0h1m0 0h1m0 0h1m0 0h1m0 0h1m0 0h1m0 0h1m0 0h1m0 0h1m0 0h1m0 0h1m0 0h1m0 0h1m0 0h1m2 0h1m0 0h1m0 0h1m-35 1h1m1 0h1m0 0h1m0 0h1m0 0h1m0 0h1m0 0h1m0 0h1m0 0h1m0 0h1m0 0h1m0 0h1m0 0h1m0 0h1m0 0h1m0 0h1m0 0h1m0 0h1m0 0h1m0 0h1m0 0h1m0 0h1m0 0h1m0 0h1m0 0h1m0 0h1m0 0h1m0 0h1m2 0h1m0 0h1m0 0h1m2 0h1m-39 1h1m1 0h1m2 0h1m0 0h1m0 0h1m0 0h1m0 0h1m0 0h1m0 0h1m0 0h1m0 0h1m0 0h1m0 0h1m0 0h1m0 0h1m0 0h1m0 0h1m0 0h1m0 0h1m0 0h1m0 0h1m0 0h1m0 0h1m0 0h1m0 0h1m0 0h1m0 0h1m0 0h1m0 0h1m0 0h1m0 0h1m1 0h1m-34 1h1m0 0h1m0 0h1m1 0h1m0 0h1m0 0h1m0 0h1m0 0h1m0 0h1m0 0h1m0 0h1m0 0h1m0 0h1m0 0h1m0 0h1m0 0h1m0 0h1m0 0h1m0 0h1m0 0h1m0 0h1m0 0h1m0 0h1m0 0h1m0 0h1m0 0h1m0 0h1m0 0h1m0 0h1m0 0h1m0 0h1m1 0h1m0 0h1m-37 1h1m1 0h1m0 0h1m0 0h1m1 0h1m0 0h1m0 0h1m0 0h1m0 0h1m0 0h1m0 0h1m0 0h1m0 0h1m0 0h1m0 0h1m0 0h1m0 0h1m0 0h1m0 0h1m0 0h1m0 0h1m0 0h1m0 0h1m0 0h1m0 0h1m0 0h1m0 0h1m0 0h1m0 0h1m0 0h1m1 0h1m0 0h1m0 0h1m-35 1h1m0 0h1m0 0h1m0 0h1m0 0h1m0 0h1m0 0h1m0 0h1m1 0h1m0 0h1m0 0h1m0 0h1m0 0h1m0 0h1m0 0h1m0 0h1m0 0h1m0 0h1m0 0h1m0 0h1m0 0h1m0 0h1m0 0h1m0 0h1m0 0h1m0 0h1m0 0h1m0 0h1m0 0h1m0 0h1m0 0h1m0 0h1m0 0h1m0 0h1m0 0h1m-33 1h1m0 0h1m0 0h1m0 0h1m0 0h1m0 0h1m0 0h1m0 0h1m0 0h1m0 0h1m0 0h1m0 0h1m0 0h1m0 0h1m0 0h1m0 0h1m0 0h1m0 0h1m0 0h1m0 0h1m0 0h1m0 0h1m0 0h1m0 0h1m0 0h1m0 0h1m0 0h1m0 0h1m0 0h1m0 0h1m2 0h1m0 0h1m-37 1h1m1 0h1m0 0h1m0 0h1m0 0h1m0 0h1m0 0h1m0 0h1m0 0h1m0 0h1m0 0h1m0 0h1m0 0h1m0 0h1m0 0h1m0 0h1m0 0h1m0 0h1m0 0h1m0 0h1m0 0h1m0 0h1m0 0h1m0 0h1m0 0h1m0 0h1m0 0h1m0 0h1m0 0h1m0 0h1m0 0h1m0 0h1m0 0h1m-36 1h1m0 0h1m0 0h1m0 0h1m0 0h1m0 0h1m0 0h1m0 0h1m0 0h1m0 0h1m0 0h1m0 0h1m0 0h1m0 0h1m0 0h1m0 0h1m0 0h1m0 0h1m0 0h1m0 0h1m0 0h1m0 0h1m0 0h1m0 0h1m0 0h1m0 0h1m0 0h1m0 0h1m0 0h1m0 0h1m0 0h1m0 0h1m0 0h1m0 0h1m2 0h1m-35 1h1m1 0h1m0 0h1m0 0h1m0 0h1m1 0h1m0 0h1m0 0h1m0 0h1m0 0h1m0 0h1m0 0h1m0 0h1m0 0h1m0 0h1m0 0h1m0 0h1m0 0h1m0 0h1m0 0h1m0 0h1m0 0h1m0 0h1m0 0h1m0 0h1m0 0h1m0 0h1m0 0h1m0 0h1m0 0h1m0 0h1m1 0h1m-36 1h1m0 0h1m0 0h1m0 0h1m0 0h1m0 0h1m0 0h1m0 0h1m0 0h1m0 0h1m0 0h1m0 0h1m0 0h1m0 0h1m0 0h1m0 0h1m0 0h1m0 0h1m0 0h1m0 0h1m0 0h1m0 0h1m0 0h1m0 0h1m0 0h1m0 0h1m0 0h1m0 0h1m0 0h1m0 0h1m0 0h1m0 0h1m0 0h1m1 0h1m-34 1h1m0 0h1m0 0h1m0 0h1m0 0h1m0 0h1m0 0h1m0 0h1m0 0h1m0 0h1m0 0h1m0 0h1m0 0h1m0 0h1m0 0h1m0 0h1m0 0h1m0 0h1m0 0h1m0 0h1m0 0h1m0 0h1m0 0h1m0 0h1m0 0h1m0 0h1m1 0h1m0 0h1m1 0h1m0 0h1m0 0h1m0 0h1m0 0h1m-37 1h1m1 0h1m0 0h1m0 0h1m0 0h1m0 0h1m0 0h1m0 0h1m0 0h1m0 0h1m1 0h1m0 0h1m0 0h1m0 0h1m0 0h1m0 0h1m0 0h1m1 0h1m0 0h1m0 0h1m0 0h1m0 0h1m0 0h1m0 0h1m0 0h1m0 0h1m0 0h1m0 0h1m0 0h1m0 0h1m0 0h1m0 0h1m-36 1h1m1 0h1m1 0h1m0 0h1m0 0h1m1 0h1m0 0h1m0 0h1m0 0h1m0 0h1m0 0h1m0 0h1m0 0h1m0 0h1m0 0h1m0 0h1m0 0h1m0 0h1m0 0h1m0 0h1m0 0h1m0 0h1m0 0h1m0 0h1m0 0h1m0 0h1m0 0h1m0 0h1m0 0h1m0 0h1m0 0h1m0 0h1m2 0h1m-39 1h1m1 0h1m0 0h1m0 0h1m0 0h1m0 0h1m0 0h1m0 0h1m0 0h1m0 0h1m0 0h1m0 0h1m0 0h1m0 0h1m0 0h1m0 0h1m0 0h1m0 0h1m0 0h1m0 0h1m0 0h1m0 0h1m0 0h1m0 0h1m0 0h1m0 0h1m0 0h1m0 0h1m0 0h1m0 0h1m0 0h1m0 0h1m0 0h1m0 0h1m0 0h1m1 0h1m-38 1h1m2 0h1m1 0h1m0 0h1m0 0h1m0 0h1m0 0h1m0 0h1m0 0h1m0 0h1m0 0h1m0 0h1m0 0h1m0 0h1m0 0h1m0 0h1m0 0h1m0 0h1m0 0h1m0 0h1m0 0h1m0 0h1m0 0h1m0 0h1m0 0h1m0 0h1m0 0h1m0 0h1m0 0h1m1 0h1m0 0h1m1 0h1m-34 1h1m0 0h1m0 0h1m0 0h1m0 0h1m0 0h1m0 0h1m0 0h1m0 0h1m0 0h1m0 0h1m0 0h1m1 0h1m0 0h1m0 0h1m0 0h1m0 0h1m0 0h1m0 0h1m0 0h1m0 0h1m0 0h1m0 0h1m0 0h1m1 0h1m0 0h1m0 0h1m0 0h1m0 0h1m0 0h1m0 0h1m-35 1h1m1 0h1m0 0h1m0 0h1m0 0h1m0 0h1m0 0h1m0 0h1m0 0h1m0 0h1m0 0h1m0 0h1m0 0h1m0 0h1m0 0h1m0 0h1m0 0h1m0 0h1m0 0h1m0 0h1m0 0h1m0 0h1m0 0h1m0 0h1m0 0h1m0 0h1m0 0h1m0 0h1m0 0h1m0 0h1m0 0h1m0 0h1m0 0h1m3 0h1m-41 1h1m0 0h1m2 0h1m0 0h1m0 0h1m0 0h1m0 0h1m0 0h1m0 0h1m0 0h1m0 0h1m0 0h1m0 0h1m0 0h1m1 0h1m0 0h1m0 0h1m0 0h1m0 0h1m0 0h1m0 0h1m0 0h1m0 0h1m0 0h1m0 0h1m0 0h1m0 0h1m0 0h1m0 0h1m0 0h1m0 0h1m0 0h1m1 0h1m2 0h1m-38 1h1m2 0h1m0 0h1m0 0h1m0 0h1m0 0h1m0 0h1m0 0h1m0 0h1m0 0h1m0 0h1m0 0h1m0 0h1m0 0h1m0 0h1m0 0h1m0 0h1m0 0h1m0 0h1m0 0h1m0 0h1m0 0h1m0 0h1m0 0h1m0 0h1m0 0h1m0 0h1m0 0h1m0 0h1m1 0h1m1 0h1m-32 1h1m0 0h1m0 0h1m0 0h1m0 0h1m0 0h1m0 0h1m0 0h1m0 0h1m0 0h1m0 0h1m0 0h1m0 0h1m0 0h1m0 0h1m0 0h1m0 0h1m0 0h1m0 0h1m0 0h1m0 0h1m0 0h1m0 0h1m0 0h1m0 0h1m0 0h1m0 0h1m0 0h1m0 0h1m1 0h1m0 0h1m-36 1h1m0 0h1m1 0h1m0 0h1m0 0h1m0 0h1m0 0h1m0 0h1m0 0h1m0 0h1m0 0h1m0 0h1m0 0h1m0 0h1m0 0h1m0 0h1m0 0h1m0 0h1m0 0h1m0 0h1m0 0h1m0 0h1m0 0h1m0 0h1m0 0h1m0 0h1m0 0h1m0 0h1m0 0h1m0 0h1m0 0h1m0 0h1m0 0h1m1 0h1m0 0h1m-36 1h1m1 0h1m0 0h1m0 0h1m0 0h1m0 0h1m0 0h1m0 0h1m0 0h1m0 0h1m0 0h1m0 0h1m0 0h1m0 0h1m0 0h1m0 0h1m0 0h1m0 0h1m0 0h1m0 0h1m0 0h1m0 0h1m0 0h1m0 0h1m0 0h1m0 0h1m0 0h1m0 0h1m0 0h1m0 0h1m0 0h1m0 0h1m0 0h1m0 0h1m0 0h1m-35 1h1m0 0h1m0 0h1m0 0h1m0 0h1m0 0h1m0 0h1m0 0h1m0 0h1m0 0h1m0 0h1m0 0h1m0 0h1m0 0h1m0 0h1m0 0h1m0 0h1m0 0h1m0 0h1m0 0h1m0 0h1m0 0h1m0 0h1m0 0h1m0 0h1m0 0h1m0 0h1m0 0h1m0 0h1m0 0h1m0 0h1m0 0h1m0 0h1m3 0h1m-38 1h1m0 0h1m0 0h1m0 0h1m0 0h1m0 0h1m0 0h1m0 0h1m0 0h1m0 0h1m0 0h1m0 0h1m0 0h1m0 0h1m0 0h1m0 0h1m0 0h1m0 0h1m0 0h1m0 0h1m0 0h1m0 0h1m0 0h1m0 0h1m0 0h1m0 0h1m0 0h1m0 0h1m0 0h1m0 0h1m0 0h1m0 0h1m0 0h1m0 0h1m1 0h1m-36 1h1m1 0h1m0 0h1m0 0h1m0 0h1m0 0h1m0 0h1m0 0h1m0 0h1m0 0h1m0 0h1m0 0h1m0 0h1m0 0h1m0 0h1m0 0h1m0 0h1m0 0h1m0 0h1m0 0h1m0 0h1m0 0h1m0 0h1m0 0h1m0 0h1m0 0h1m0 0h1m0 0h1m0 0h1m0 0h1m0 0h1m2 0h1m1 0h1m-36 1h1m0 0h1m1 0h1m0 0h1m0 0h1m0 0h1m0 0h1m0 0h1m0 0h1m0 0h1m0 0h1m0 0h1m0 0h1m0 0h1m0 0h1m0 0h1m0 0h1m0 0h1m0 0h1m0 0h1m0 0h1m0 0h1m0 0h1m0 0h1m0 0h1m0 0h1m0 0h1m0 0h1m0 0h1m0 0h1m0 0h1m0 0h1m0 0h1m0 0h1m-37 1h1m0 0h1m0 0h1m0 0h1m0 0h1m0 0h1m0 0h1m0 0h1m0 0h1m0 0h1m0 0h1m0 0h1m0 0h1m0 0h1m0 0h1m0 0h1m0 0h1m0 0h1m0 0h1m0 0h1m0 0h1m0 0h1m0 0h1m0 0h1m0 0h1m1 0h1m0 0h1m0 0h1m0 0h1m0 0h1m0 0h1m0 0h1m1 0h1m0 0h1m0 0h1m-39 1h1m2 0h1m0 0h1m0 0h1m0 0h1m0 0h1m0 0h1m0 0h1m0 0h1m0 0h1m0 0h1m0 0h1m0 0h1m0 0h1m0 0h1m0 0h1m0 0h1m0 0h1m0 0h1m0 0h1m0 0h1m0 0h1m0 0h1m0 0h1m0 0h1m0 0h1m0 0h1m0 0h1m0 0h1m0 0h1m0 0h1m0 0h1m0 0h1m0 0h1m0 0h1m-37 1h1m0 0h1m1 0h1m0 0h1m0 0h1m0 0h1m0 0h1m0 0h1m0 0h1m0 0h1m0 0h1m0 0h1m0 0h1m0 0h1m0 0h1m0 0h1m0 0h1m0 0h1m1 0h1m0 0h1m0 0h1m0 0h1m0 0h1m0 0h1m0 0h1m0 0h1m0 0h1m0 0h1m0 0h1m0 0h1m0 0h1m0 0h1m0 0h1m0 0h1m1 0h1m0 0h1m-38 1h1m4 0h1m0 0h1m1 0h1m0 0h1m0 0h1m0 0h1m0 0h1m0 0h1m0 0h1m0 0h1m0 0h1m0 0h1m0 0h1m0 0h1m0 0h1m1 0h1m0 0h1m1 0h1m0 0h1m0 0h1m1 0h1m0 0h1m0 0h1m0 0h1m1 0h1m1 0h1m-34 1h1m2 0h1m0 0h1m0 0h1m0 0h1m0 0h1m0 0h1m0 0h1m0 0h1m0 0h1m0 0h1m0 0h1m0 0h1m0 0h1m0 0h1m0 0h1m0 0h1m0 0h1m0 0h1m0 0h1m0 0h1m0 0h1m0 0h1m0 0h1m0 0h1m0 0h1m0 0h1m0 0h1m0 0h1m0 0h1m1 0h1m-37 1h1m0 0h1m1 0h1m0 0h1m0 0h1m1 0h1m0 0h1m0 0h1m0 0h1m0 0h1m0 0h1m1 0h1m0 0h1m0 0h1m0 0h1m0 0h1m0 0h1m0 0h1m0 0h1m0 0h1m0 0h1m0 0h1m0 0h1m0 0h1m0 0h1m0 0h1m0 0h1m0 0h1m0 0h1m0 0h1m0 0h1m0 0h1m0 0h1m-30 1h1m1 0h1m0 0h1m0 0h1m0 0h1m0 0h1m0 0h1m0 0h1m0 0h1m0 0h1m0 0h1m0 0h1m0 0h1m0 0h1m0 0h1m1 0h1m0 0h1m0 0h1m0 0h1m0 0h1m0 0h1m0 0h1m0 0h1m0 0h1m0 0h1m0 0h1m0 0h1m0 0h1m-37 1h1m5 0h1m1 0h1m0 0h1m0 0h1m0 0h1m0 0h1m0 0h1m0 0h1m0 0h1m0 0h1m0 0h1m0 0h1m0 0h1m0 0h1m0 0h1m0 0h1m0 0h1m0 0h1m0 0h1m0 0h1m1 0h1m0 0h1m0 0h1m0 0h1m0 0h1m0 0h1m1 0h1m0 0h1m-35 1h1m1 0h1m0 0h1m1 0h1m0 0h1m0 0h1m0 0h1m0 0h1m0 0h1m0 0h1m0 0h1m0 0h1m0 0h1m0 0h1m0 0h1m0 0h1m0 0h1m0 0h1m0 0h1m0 0h1m0 0h1m0 0h1m0 0h1m0 0h1m0 0h1m0 0h1m0 0h1m0 0h1m0 0h1m2 0h1m-33 1h1m0 0h1m1 0h1m1 0h1m0 0h1m0 0h1m0 0h1m0 0h1m0 0h1m0 0h1m0 0h1m0 0h1m1 0h1m0 0h1m0 0h1m0 0h1m0 0h1m0 0h1m0 0h1m0 0h1m0 0h1m0 0h1m0 0h1m0 0h1m0 0h1m0 0h1m2 0h1m0 0h1m-33 1h1m0 0h1m0 0h1m1 0h1m0 0h1m0 0h1m0 0h1m0 0h1m0 0h1m0 0h1m0 0h1m0 0h1m0 0h1m0 0h1m0 0h1m0 0h1m0 0h1m0 0h1m0 0h1m0 0h1m0 0h1m0 0h1m0 0h1m0 0h1m0 0h1m0 0h1m1 0h1m-29 1h1m2 0h1m0 0h1m0 0h1m1 0h1m0 0h1m0 0h1m1 0h1m0 0h1m0 0h1m0 0h1m0 0h1m0 0h1m0 0h1m0 0h1m0 0h1m0 0h1m0 0h1m0 0h1m0 0h1m0 0h1m0 0h1m0 0h1m0 0h1m0 0h1m-26 1h1m0 0h1m0 0h1m2 0h1m0 0h1m0 0h1m0 0h1m0 0h1m0 0h1m0 0h1m0 0h1m0 0h1m0 0h1m0 0h1m0 0h1m0 0h1m0 0h1m1 0h1m0 0h1m0 0h1m1 0h1m0 0h1m-29 1h1m0 0h1m0 0h1m1 0h1m0 0h1m1 0h1m0 0h1m0 0h1m1 0h1m0 0h1m1 0h1m0 0h1m1 0h1m0 0h1m0 0h1m0 0h1m0 0h1m0 0h1m0 0h1m0 0h1m2 0h1m-25 1h1m3 0h1m0 0h1m0 0h1m1 0h1m0 0h1m0 0h1m0 0h1m0 0h1m0 0h1m0 0h1m0 0h1m0 0h1m0 0h1m0 0h1m0 0h1m0 0h1m0 0h1m0 0h1m1 0h1m-28 1h1m3 0h1m1 0h1m0 0h1m0 0h1m2 0h1m1 0h1m0 0h1m0 0h1m2 0h1m0 0h1m0 0h1m0 0h1m0 0h1m3 0h1m-26 1h1m1 0h1m1 0h1m1 0h1m8 0h1m0 0h1m0 0h1m1 0h1m0 0h1m0 0h1m1 0h1m-24 1h1m7 0h1m4 0h1m0 0h1m6 0h1m0 0h1m0 0h1m-18 1h1m1 0h1m1 0h1m0 0h1m3 0h1m0 0h1m2 0h1m0 0h1m0 0h1m-10 1h1m2 0h1m0 0h1m-3 1h1m0 0h1m2 0h1" stroke="#0000f0" stroke-width="1" transform="translate(0,0.5)" fill="none"/>
<path d="M176 113h1m-3 2h1m3 0h1m-5 2h1m9 0h1m-9 1h1m0 0h1m2 0h1m0 1h1m1 0h1m-8 1h1m0 0h1m0 0h1m0 0h1m1 0h1m-6 1h1m1 0h1m0 0h1m1 0h1m1 0h1m-10 1h1m2 0h1m0 0h1m0 0h1m2 0h1m-11 1h1m2 0h1m0 0h1m1 0h1m-11 1h1m3 0h1m4 0h1m0 0h1m0 0h1m0 0h1m0 0h1m1 0h1m-10 1h1m0 0h1m0 0h1m2 0h1m0 0h1m1 0h1m-10 1h1m3 0h1m0 0h1m0 0h1m2 0h1m0 0h1m0 0h1m0 0h1m-12 1h1m1 0h1m1 0h1m0 0h1m0 0h1m0 0h1m0 0h1m0 0h1m4 0h1m-15 1h1m0 0h1m0 0h1m0 0h1m1 0h1m0 0h1m1 0h1m2 0h1m-15 1h1m1 0h1m0 0h1m0 0h1m0 0h1m1 0h1m0 0h1m1 0h1m1 0h1m-9 1h1m1 0h1m0 0h1m0 0h1m0 0h1m1 0h1m0 0h1m-11 1h1m0 0h1m0 0h1m0 0h1m1 0h1m0 0h1m0 0h1m0 0h1m5 0h1m-19 1h1m1 0h1m1 0h1m0 0h1m1 0h1m0 0h1m0 0h1m1 0h1m0 0h1m1 0h1m-16 1h1m3 0h1m0 0h1m2 0h1m2 0h1m0 0h1m0 0h1m1 0h1m0 0h1m-16 1h1m1 0h1m1 0h1m0 0h1m0 0h1m0 0h1m0 0h1m0 0h1m1 0h1m0 0h1m0 0h1m-11 1h1m1 0h1m0 0h1m0 0h1m1 0h1m0 0h1m1 0h1m0 0h1m1 0h1m5 0h1m-22 1h1m0 0h1m0 0h1m4 0h1m0 0h1m0 0h1m1 0h1m0 0h1m1 0h1m0 0h1m-14 1h1m3 0h1m0 0h1m0 0h1m0 0h1m0 0h1m0 0h1m0 0h1m0 0h1m0 0h1m0 0h1m3 0h1m-15 1h1m0 0h1m0 0h1m0 0h1m0 0h1m1 0h1m1 0h1m-12 1h1m2 0h1m0 0h1m0 0h1m1 0h1m4 0h1m-13 1h1m3 0h1m0 0h1m1 0h1m3 0h1m1 0h1m-15 1h1m0 0h1m3 0h1m2 0h1m2 0h1m1 0h1m-18 1h1m8 0h1m0 0h1m0 0h1m1 0h1m-7 1h1m0 0h1m0 0h1m0 0h1m3 0h1m0 0h1m2 0h1m-7 1h1m-12 1h1m1 0h1m2 0h1m0 0h1m0 0h1m1 0h1m2 0h1m1 0h1m2 0h1m-13 1h1m1 0h1m-8 2h1m6 1h1m2 0h1m-2 2h1m7 0h1m-1 1h1m-14 1h1m6 0h1m-12 1h1m7 5h1m1 304h1m-4 3h1m-6 1h1m1 0h1m-1 1h1m4 0h1m-5 1h1m-8 1h1m4 0h1m2 0h1m1 0h1m-9 1h1m0 0h1m2 0h1m0 0h1m0 0h1m-8 1h1m2 0h1m3 0h1m0 0h1m-15 1h1m8 0h1m1 0h1m0 0h1m0 0h1m0 0h1m0 0h1m-15 1h1m10 0h1m0 0h1m-6 1h1m2 0h1m4 0h1m0 0h1m0 0h1m-18 1h1m4 0h1m1 0h1m2 0h1m4 0h1m-14 1h1m5 0h1m0 0h1m3 0h1m0 0h1m1 0h1m-16 1h1m6 0h1m0 0h1m0 0h1m0 0h1m0 0h1m0 0h1m0 0h1m-13 1h1m0 0h1m0 0h1m1 0h1m0 0h1m0 0h1m1 0h1m1 0h1m0 0h1m0 0h1m0 0h1m-11 1h1m0 0h1m2 0h1m0 0h1m0 0h1m0 0h1m0 0h1m0 0h1m0 0h1m-11 1h1m0 0h1m0 0h1m1 0h1m0 0h1m2 0h1m0 0h1m0 0h1m-16 1h1m1 0h1m1 0h1m0 0h1m0 0h1m1 0h1m0 0h1m0 0h1m1 0h1m2 0h1m2 0h1m-19 1h1m1 0h1m0 0h1m2 0h1m0 0h1m0 0h1m1 0h1m0 0h1m1 0h1m-12 1h1m2 0h1m0 0h1m0 0h1m0 0h1m0 0h1m0 0h1m1 0h1m0 0h1m4 0h1m-21 1h1m8 0h1m0 0h1m0 0h1m0 0h1m0 0h1m0 0h1m0 0h1m4 0h1m-21 1h1m2 0h1m0 0h1m1 0h1m2 0h1m1 0h1m0 0h1m0 0h1m0 0h1m0 0h1m0 0h1m1 0h1m-16 1h1m3 0h1m2 0h1m1 0h1m0 0h1m1 0h1m0 0h1m0 0h1m-14 1h1m0 0h1m0 0h1m1 0h1m0 0h1m0 0h1m1 0h1m1 0h1m2 0h1m-13 1h1m1 0h1m0 0h1m0 0h1m0 0h1m0 0h1m0 0h1m1 0h1m0 0h1m0 0h1m-15 1h1m4 0h1m0 0h1m0 0h1m0 0h1m0 0h1m1 0h1m2 0h1m2 0h1m-16 1h1m1 0h1m3 0h1m0 0h1m0 0h1m0 0h1m0 0h1m0 0h1m0 0h1m-10 1h1m1 0h1m3 0h1m-11 1h1m1 0h1m0 0h1m4 0h1m1 0h1m4 0h1m-14 1h1m1 0h1m2 0h1m0 0h1m0 0h1m1 0h1m1 0h1m-10 1h1m0 0h1m0 0h1m1 0h1m0 0h1m2 0h1m-5 1h1m-1 1h1m-6 1h1m0 0h1m3 0h1m0 0h1m5 0h1m-9 1h1m1 0h1m2 0h1m-8 3h1m3 0h1" stroke="#0000c0" stroke-width="1" transform="translate(0,0.5)" fill="none"/>
<path d="M616 60h1m-6 1h1m0 0h1m-16 1h1m9 0h1m2 0h1m11 0h1m-34 2h1m14 0h1m2 0h1m2 0h1m-18 1h1m3 0h1m5 0h1m4 0h1m3 0h1m6 0h1m0 0h1m-267 1h1m4 0h1m234 0h1m1 0h1m2 0h1m6 0h1m9 0h1m-264 1h1m0 0h1m1 0h1m1 0h1m229 0h1m12 0h1m4 0h1m0 0h1m1 0h1m1 0h1m2 0h1m1 0h1m3 0h1m-270 1h1m0 0h1m5 0h1m224 0h1m6 0h1m2 0h1m6 0h1m2 0h1m0 0h1m0 0h1m5 0h1m3 0h1m-264 1h1m4 0h1m241 0h1m1 0h1m3 0h1m3 0h1m2 0h1m2 0h1m0 0h1m10 0h1m-272 1h1m3 0h1m224 0h1m7 0h1m8 0h1m0 0h1m1 0h1m4 0h1m0 0h1m0 0h1m-264 1h1m3 0h1m0 0h1m3 0h1m1 0h1m222 0h1m9 0h1m5 0h1m3 0h1m0 0h1m2 0h1m1 0h1m0 0h1m0 0h1m1 0h1m4 0h1m0 0h1m0 0h1m-262 1h1m0 0h1m1 0h1m224 0h1m2 0h1m7 0h1m1 0h1m2 0h1m0 0h1m0 0h1m2 0h1m2 0h1m0 0h1m0 0h1m0 0h1m1 0h1m-269 1h1m1 0h1m1 0h1m238 0h1m1 0h1m3 0h1m0 0h1m1 0h1m2 0h1m0 0h1m2 0h1m0 0h1m1 0h1m4 0h1m0 0h1m4 0h1m-272 1h1m0 0h1m4 0h1m7 0h1m1 0h1m215 0h1m3 0h1m0 0h1m2 0h1m1 0h1m0 0h1m1 0h1m1 0h1m0 0h1m1 0h1m0 0h1m5 0h1m1 0h1m4 0h1m1 0h1m0 0h1m6 0h1m-274 1h1m3 0h1m0 0h1m0 0h1m219 0h1m7 0h1m0 0h1m1 0h1m2 0h1m2 0h1m2 0h1m0 0h1m0 0h1m1 0h1m3 0h1m2 0h1m0 0h1m7 0h1m-273 1h1m9 0h1m0 0h1m222 0h1m7 0h1m5 0h1m2 0h1m3 0h1m0 0h1m0 0h1m3 0h1m-259 1h1m3 0h1m0 0h1m0 0h1m5 0h1m5 0h1m214 0h1m9 0h1m6 0h1m1 0h1m0 0h1m1 0h1m2 0h1m1 0h1m0 0h1m4 0h1m0 0h1m-268 1h1m4 0h1m2 0h1m1 0h1m0 0h1m213 0h1m9 0h1m3 0h1m1 0h1m1 0h1m1 0h1m0 0h1m0 0h1m2 0h1m1 0h1m0 0h1m0 0h1m0 0h1m1 0h1m3 0h1m1 0h1m2 0h1m4 0h1m-277 1h1m2 0h1m0 0h1m2 0h1m0 0h1m234 0h1m1 0h1m0 0h1m1 0h1m1 0h1m1 0h1m1 0h1m0 0h1m1 0h1m0 0h1m0 0h1m0 0h1m0 0h1m1 0h1m1 0h1m2 0h1m4 0h1m2 0h1m-265 1h1m0 0h1m228 0h1m0 0h1m0 0h1m0 0h1m0 0h1m1 0h1m0 0h1m3 0h1m0 0h1m0 0h1m2 0h1m2 0h1m0 0h1m1 0h1m0 0h1m1 0h1m4 0h1m3 0h1m-275 1h1m2 0h1m1 0h1m0 0h1m0 0h1m1 0h1m3 0h1m0 0h1m1 0h1m218 0h1m3 0h1m6 0h1m4 0h1m1 0h1m0 0h1m0 0h1m1 0h1m0 0h1m1 0h1m0 0h1m0 0h1m2 0h1m1 0h1m0 0h1m2 0h1m0 0h1m3 0h1m-280 1h1m0 0h1m2 0h1m0 0h1m0 0h1m3 0h1m0 0h1m4 0h1m224 0h1m1 0h1m2 0h1m1 0h1m1 0h1m0 0h1m0 0h1m1 0h1m1 0h1m0 0h1m0 0h1m0 0h1m0 0h1m0 0h1m3 0h1m1 0h1m0 0h1m2 0h1m3 0h1m4 0h1m-462 1h1m16 0h1m13 0h1m0 0h1m149 0h1m0 0h1m9 0h1m6 0h1m221 0h1m0 0h1m1 0h1m2 0h1m0 0h1m2 0h1m0 0h1m1 0h1m1 0h1m0 0h1m0 0h1m0 0h1m2 0h1m0 0h1m0 0h1m1 0h1m2 0h1m0 0h1m-449 1h1m10 0h1m166 0h1m3 0h1m1 0h1m3 0h1m227 0h1m6 0h1m0 0h1m0 0h1m1 0h1m1 0h1m0 0h1m0 0h1m0 0h1m3 0h1m1 0h1m0 0h1m0 0h1m0 0h1m1 0h1m3 0h1m1 0h1m6 0h1m-445 1h1m10 0h1m157 0h1m6 0h1m0 0h1m6 0h1m4 0h1m207 0h1m5 0h1m3 0h1m4 0h1m1 0h1m0 0h1m1 0h1m0 0h1m0 0h1m0 0h1m0 0h1m0 0h1m1 0h1m0 0h1m0 0h1m3 0h1m4 0h1m0 0h1m3 0h1m0 0h1m3 0h1m-449 1h1m166 0h1m1 0h1m7 0h1m3 0h1m3 0h1m2 0h1m215 0h1m3 0h1m1 0h1m0 0h1m0 0h1m0 0h1m0 0h1m0 0h1m0 0h1m0 0h1m1 0h1m0 0h1m0 0h1m0 0h1m0 0h1m0 0h1m0 0h1m0 0h1m1 0h1m0 0h1m0 0h1m0 0h1m1 0h1m0 0h1m0 0h1m0 0h1m-421 1h1m11 0h1m0 0h1m141 0h1m1 0h1m4 0h1m0 0h1m1 0h1m4 0h1m0 0h1m226 0h1m0 0h1m3 0h1m1 0h1m0 0h1m0 0h1m0 0h1m1 0h1m2 0h1m0 0h1m0 0h1m2 0h1m2 0h1m3 0h1m2 0h1m6 0h1m-466 1h1m15 0h1m9 0h1m6 0h1m148 0h1m0 0h1m0 0h1m2 0h1m3 0h1m2 0h1m218 0h1m6 0h1m3 0h1m0 0h1m0 0h1m0 0h1m0 0h1m3 0h1m0 0h1m1 0h1m0 0h1m0 0h1m1 0h1m0 0h1m1 0h1m1 0h1m0 0h1m0 0h1m4 0h1m0 0h1m4 0h1m-452 1h1m15 0h1m6 0h1m164 0h1m0 0h1m4 0h1m213 0h1m2 0h1m0 0h1m0 0h1m1 0h1m0 0h1m1 0h1m4 0h1m3 0h1m0 0h1m0 0h1m1 0h1m0 0h1m0 0h1m0 0h1m0 0h1m0 0h1m0 0h1m1 0h1m0 0h1m0 0h1m2 0h1m-430 1h1m162 0h1m0 0h1m1 0h1m7 0h1m8 0h1m209 0h1m7 0h1m2 0h1m0 0h1m1 0h1m1 0h1m0 0h1m0 0h1m4 0h1m0 0h1m2 0h1m0 0h1m0 0h1m0 0h1m19 0h1m-449 1h1m6 0h1m4 0h1m152 0h1m1 0h1m6 0h1m2 0h1m5 0h1m2 0h1m214 0h1m4 0h1m0 0h1m0 0h1m1 0h1m1 0h1m2 0h1m4 0h1m0 0h1m0 0h1m2 0h1m1 0h1m0 0h1m1 0h1m0 0h1m1 0h1m1 0h1m2 0h1m-443 1h1m6 0h1m2 0h1m2 0h1m1 0h1m157 0h1m5 0h1m0 0h1m1 0h1m0 0h1m227 0h1m4 0h1m0 0h1m0 0h1m2 0h1m0 0h1m0 0h1m0 0h1m2 0h1m0 0h1m3 0h1m3 0h1m1 0h1m1 0h1m-456 1h1m4 0h1m39 0h1m144 0h1m2 0h1m0 0h1m1 0h1m0 0h1m221 0h1m4 0h1m3 0h1m0 0h1m1 0h1m0 0h1m0 0h1m0 0h1m0 0h1m1 0h1m1 0h1m0 0h1m0 0h1m0 0h1m1 0h1m1 0h1m1 0h1m0 0h1m0 0h1m0 0h1m0 0h1m0 0h1m2 0h1m-449 1h1m14 0h1m0 0h1m6 0h1m4 0h1m149 0h1m0 0h1m232 0h1m1 0h1m4 0h1m1 0h1m1 0h1m0 0h1m1 0h1m2 0h1m1 0h1m1 0h1m0 0h1m7 0h1m0 0h1m5 0h1m-437 1h1m3 0h1m3 0h1m154 0h1m4 0h1m1 0h1m1 0h1m0 0h1m232 0h1m4 0h1m0 0h1m0 0h1m1 0h1m2 0h1m0 0h1m0 0h1m0 0h1m1 0h1m0 0h1m2 0h1m0 0h1m-448 1h1m13 0h1m13 0h1m154 0h1m2 0h1m5 0h1m3 0h1m228 0h1m3 0h1m2 0h1m0 0h1m0 0h1m0 0h1m0 0h1m0 0h1m1 0h1m0 0h1m0 0h1m0 0h1m0 0h1m0 0h1m1 0h1m-424 1h1m160 0h1m5 0h1m0 0h1m3 0h1m1 0h1m4 0h1m5 0h1m202 0h1m4 0h1m1 0h1m2 0h1m0 0h1m4 0h1m0 0h1m7 0h1m0 0h1m0 0h1m1 0h1m12 0h1m-451 1h1m9 0h1m0 0h1m4 0h1m166 0h1m3 0h1m0 0h1m0 0h1m6 0h1m6 0h1m213 0h1m0 0h1m0 0h1m0 0h1m3 0h1m2 0h1m1 0h1m0 0h1m1 0h1m0 0h1m1 0h1m0 0h1m0 0h1m1 0h1m1 0h1m11 0h1m-450 1h1m17 0h1m164 0h1m4 0h1m3 0h1m214 0h1m9 0h1m1 0h1m0 0h1m0 0h1m0 0h1m0 0h1m2 0h1m2 0h1m2 0h1m0 0h1m12 0h1m7 0h1m-447 1h1m3 0h1m2 0h1m0 0h1m2 0h1m0 0h1m7 0h1m0 0h1m5 0h1m142 0h1m9 0h1m2 0h1m0 0h1m1 0h1m208 0h1m2 0h1m3 0h1m0 0h1m4 0h1m0 0h1m2 0h1m2 0h1m8 0h1m1 0h1m4 0h1m0 0h1m-445 1h1m8 0h1m4 0h1m6 0h1m0 0h1m12 0h1m6 0h1m136 0h1m1 0h1m2 0h1m5 0h1m1 0h1m2 0h1m221 0h1m2 0h1m9 0h1m1 0h1m0 0h1m8 0h1m0 0h1m10 0h1m-432 1h1m2 0h1m2 0h1m152 0h1m3 0h1m0 0h1m11 0h1m219 0h1m1 0h1m1 0h1m0 0h1m0 0h1m1 0h1m0 0h1m1 0h1m2 0h1m0 0h1m3 0h1m0 0h1m1 0h1m1 0h1m1 0h1m-422 1h1m1 0h1m154 0h1m5 0h1m0 0h1m1 0h1m2 0h1m7 0h1m1 0h1m217 0h1m6 0h1m5 0h1m2 0h1m7 0h1m-452 1h1m9 0h1m4 0h1m169 0h1m0 0h1m0 0h1m5 0h1m5 0h1m215 0h1m4 0h1m4 0h1m0 0h1m2 0h1m2 0h1m0 0h1m0 0h1m0 0h1m4 0h1m5 0h1m2 0h1m-423 1h1m2 0h1m8 0h1m146 0h1m6 0h1m223 0h1m0 0h1m0 0h1m0 0h1m0 0h1m4 0h1m5 0h1m0 0h1m0 0h1m5 0h1m0 0h1m-437 1h1m4 0h1m4 0h1m2 0h1m10 0h1m5 0h1m1 0h1m0 0h1m148 0h1m1 0h1m1 0h1m1 0h1m1 0h1m4 0h1m0 0h1m0 0h1m3 0h1m212 0h1m7 0h1m10 0h1m-427 1h1m3 0h1m3 0h1m7 0h1m164 0h1m1 0h1m252 0h1m16 0h1m-462 1h1m12 0h1m1 0h1m4 0h1m2 0h1m0 0h1m3 0h1m3 0h1m0 0h1m0 0h1m2 0h1m143 0h1m5 0h1m1 0h1m1 0h1m0 0h1m0 0h1m3 0h1m0 0h1m2 0h1m0 0h1m219 0h1m4 0h1m4 0h1m6 0h1m4 0h1m-427 1h1m9 0h1m1 0h1m3 0h1m1 0h1m0 0h1m146 0h1m1 0h1m0 0h1m0 0h1m8 0h1m220 0h1m3 0h1m19 0h1m-439 1h1m5 0h1m5 0h1m3 0h1m0 0h1m17 0h1m141 0h1m6 0h1m0 0h1m0 0h1m0 0h1m2 0h1m216 0h1m15 0h1m5 0h1m-417 1h1m3 0h1m0 0h1m3 0h1m156 0h1m1 0h1m3 0h1m1 0h1m6 0h1m224 0h1m2 0h1m-415 1h1m11 0h1m0 0h1m1 0h1m0 0h1m12 0h1m140 0h1m5 0h1m4 0h1m223 0h1m21 0h1m-444 1h1m18 0h1m2 0h1m7 0h1m16 0h1m141 0h1m2 0h1m230 0h1m4 0h1m5 0h1m-424 1h1m3 0h1m5 0h1m0 0h1m12 0h1m2 0h1m0 0h1m146 0h1m5 0h1m0 0h1m2 0h1m0 0h1m239 0h1m-434 1h1m15 0h1m165 0h1m1 0h1m2 0h1m6 0h1m-203 1h1m4 0h1m1 0h1m8 0h1m4 0h1m1 0h1m13 0h1m2 0h1m148 0h1m0 0h1m231 0h1m-418 1h1m8 0h1m6 0h1m1 0h1m0 0h1m1 0h1m1 0h1m1 0h1m1 0h1m0 0h1m0 0h1m5 0h1m8 0h1m146 0h1m237 0h1m2 0h1m-429 1h1m2 0h1m5 0h1m5 0h1m1 0h1m0 0h1m1 0h1m7 0h1m12 0h1m138 0h1m0 0h1m8 0h1m-178 1h1m6 0h1m4 0h1m1 0h1m393 0h1m-430 1h1m13 0h1m3 0h1m1 0h1m1 0h1m9 0h1m1 0h1m3 0h1m2 0h1m4 0h1m141 0h1m10 0h1m-191 1h1m9 0h1m7 0h1m3 0h1m0 0h1m0 0h1m2 0h1m4 0h1m152 0h1m1 0h1m3 0h1m6 0h1m-197 1h1m4 0h1m0 0h1m1 0h1m1 0h1m6 0h1m1 0h1m3 0h1m0 0h1m0 0h1m0 0h1m380 0h1m-414 1h1m14 0h1m1 0h1m0 0h1m10 0h1m6 0h1m-37 1h1m2 0h1m7 0h1m3 0h1m4 0h1m2 0h1m4 0h1m8 0h1m-44 1h1m11 0h1m9 0h1m8 0h1m1 0h1m6 0h1m1 0h1m-26 1h1m2 0h1m4 0h1m5 0h1m5 0h1m5 0h1m4 0h1m-27 1h1m0 0h1m6 0h1m4 0h1m1 0h1m1 0h1m0 0h1m-24 1h1m3 0h1m0 0h1m3 0h1m0 0h1m5 0h1m6 0h1m3 0h1m3 0h1m-42 1h1m10 0h1m3 0h1m4 0h1m5 0h1m7 0h1m9 0h1m-45 1h1m8 0h1m3 0h1m23 0h1m2 0h1m-42 1h1m0 0h1m23 0h1m0 0h1m4 0h1m2 0h1m3 0h1m5 0h1m-33 1h1m1 0h1m1 0h1m0 0h1m2 0h1m1 0h1m0 0h1m1 0h1m6 0h1m8 0h1m1 0h1m-40 1h1m12 0h1m3 0h1m0 0h1m6 0h1m1 0h1m0 0h1m0 0h1m4 0h1m-26 1h1m20 0h1m-31 1h1m8 0h1m4 0h1m0 0h1m0 0h1m3 0h1m3 0h1m1 0h1m3 0h1m-12 1h1m11 0h1m3 0h1m-31 1h1m2 0h1m7 0h1m12 0h1m3 0h1m-34 1h1m12 0h1m0 0h1m15 0h1m9 0h1m-51 1h1m15 0h1m3 0h1m0 0h1m11 0h1m-31 1h1m2 0h1m32 0h1m1 0h1m-39 1h1m16 0h1m0 0h1m6 0h1m0 0h1m7 0h1m4 0h1m-25 1h1m1 0h1m5 0h1m12 0h1m7 0h1m-39 1h1m6 0h1m10 0h1m0 0h1m1 0h1m4 0h1m3 0h1m-36 1h1m17 0h1m5 0h1m8 0h1m3 0h1m5 0h1m-43 1h1m10 0h1m3 0h1m6 0h1m-7 1h1m-4 1h1m11 0h1m20 0h1m-26 1h1m6 0h1m-16 1h1m0 0h1m14 0h1m1 0h1m-11 1h1m2 0h1m3 0h1m2 0h1m1 0h1m-25 1h1m0 0h1m1 0h1m0 0h1m6 0h1m2 0h1m1 0h1m7 0h1m-33 2h1m5 0h1m3 0h1m10 0h1m-26 1h1m12 0h1m6 0h1m10 0h1m-23 1h1m0 0h1m5 0h1m5 3h1m3 0h1m0 0h1m-6 1h1m-6 1h1m6 0h1m9 0h1m12 0h1m-47 1h1m27 275h1m-32 1h1m16 0h1m9 1h1m3 0h1m-22 1h1m6 1h1m8 0h1m9 0h1m-34 1h1m7 0h1m6 0h1m4 0h1m3 0h1m2 0h1m-9 1h1m3 0h1m-23 1h1m16 0h1m-8 1h1m14 0h1m13 0h1m-42 1h1m11 0h1m10 0h1m-17 1h1m15 0h1m4 0h1m-13 1h1m6 0h1m4 0h1m3 0h1m2 0h1m-10 1h1m1 0h1m13 0h1m-46 1h1m15 0h1m4 0h1m0 0h1m11 0h1m7 0h1m-41 1h1m15 0h1m2 0h1m-10 1h1m18 0h1m-11 1h1m5 0h1m4 0h1m2 0h1m-31 1h1m8 0h1m2 0h1m1 0h1m17 0h1m-26 1h1m6 0h1m3 0h1m4 0h1m11 0h1m-18 1h1m2 0h1m1 0h1m3 0h1m4 0h1m9 0h1m0 0h1m-33 1h1m5 0h1m7 0h1m3 0h1m5 0h1m0 0h1m-31 1h1m16 0h1m12 0h1m0 0h1m-30 1h1m4 0h1m2 0h1m10 0h1m1 0h1m6 0h1m3 0h1m-40 1h1m2 0h1m6 0h1m1 0h1m3 0h1m9 0h1m1 0h1m7 0h1m4 0h1m-46 1h1m2 0h1m10 0h1m1 0h1m4 0h1m0 0h1m4 0h1m2 0h1m1 0h1m0 0h1m1 0h1m2 0h1m3 0h1m-42 1h1m20 0h1m1 0h1m8 0h1m3 0h1m-38 1h1m6 0h1m3 0h1m0 0h1m0 0h1m2 0h1m6 0h1m0 0h1m3 0h1m0 0h1m4 0h1m-18 1h1m11 0h1m1 0h1m0 0h1m6 0h1m1 0h1m-43 1h1m3 0h1m0 0h1m8 0h1m6 0h1m4 0h1m4 0h1m4 0h1m10 0h1m-57 1h1m9 0h1m25 0h1m10 0h1m-33 1h1m2 0h1m4 0h1m2 0h1m1 0h1m0 0h1m4 0h1m4 0h1m14 0h1m0 0h1m-54 1h1m12 0h1m4 0h1m9 0h1m0 0h1m0 0h1m18 0h1m0 0h1m3 0h1m-39 1h1m0 0h1m10 0h1m1 0h1m2 0h1m4 0h1m9 0h1m-35 1h1m1 0h1m6 0h1m6 0h1m18 0h1m-52 1h1m6 0h1m12 0h1m1 0h1m2 0h1m4 0h1m7 0h1m5 0h1m-40 1h1m14 0h1m4 0h1m10 0h1m13 0h1m1 0h1m2 0h1m-28 1h1m1 0h1m7 0h1m0 0h1m9 0h1m2 0h1m-41 1h1m3 0h1m3 0h1m0 0h1m0 0h1m2 0h1m0 0h1m8 0h1m1 0h1m0 0h1m0 0h1m2 0h1m8 0h1m-47 1h1m0 0h1m5 0h1m2 0h1m3 0h1m0 0h1m4 0h1m1 0h1m7 0h1m6 0h1m5 0h1m2 0h1m-32 1h1m12 0h1m1 0h1m9 0h1m-38 1h1m3 0h1m8 0h1m2 0h1m0 0h1m2 0h1m0 0h1m-17 1h1m9 0h1m8 0h1m1 0h1m1 0h1m1 0h1m0 0h1m3 0h1m-27 1h1m3 0h1m1 0h1m0 0h1m6 0h1m3 0h1m8 0h1m5 0h1m-50 1h1m1 0h1m4 0h1m15 0h1m0 0h1m12 0h1m0 0h1m6 0h1m-40 1h1m2 0h1m2 0h1m8 0h1m0 0h1m1 0h1m4 0h1m2 0h1m1 0h1m1 0h1m5 0h1m7 0h1m-38 1h1m8 0h1m8 0h1m-29 1h1m8 0h1m3 0h1m14 0h1m11 0h1m2 0h1m-32 1h1m5 0h1m16 0h1m-27 1h1m7 0h1m5 0h1m1 0h1m4 0h1m2 0h1m3 0h1m-34 1h1m9 0h1m3 0h1m2 0h1m5 0h1m0 0h1m16 0h1m3 0h1m-45 1h1m12 0h1m0 0h1m2 0h1m5 0h1m4 0h1m1 0h1m7 0h1m-39 1h1m3 0h1m1 0h1m3 0h1m12 0h1m0 0h1m2 0h1m0 0h1m1 0h1m5 0h1m-44 1h1m4 0h1m10 0h1m5 0h1m5 0h1m6 0h1m-32 1h1m7 0h1m0 0h1m9 0h1m1 0h1m5 0h1m11 0h1m6 0h1m2 0h1m-44 1h1m10 0h1m3 0h1m7 0h1m0 0h1m3 0h1m-37 1h1m8 0h1m8 0h1m3 0h1m19 0h1m-35 1h1m4 0h1m1 0h1m6 0h1m0 0h1m5 0h1m6 0h1m5 0h1m-31 1h1m4 0h1m2 0h1m1 0h1m6 0h1m2 0h1m6 0h1m2 0h1m-32 1h1m12 0h1m1 0h1m5 0h1m3 0h1m7 0h1m-33 1h1m0 0h1m3 0h1m4 0h1m0 0h1m1 0h1m0 0h1m2 0h1m10 0h1m2 0h1m-31 1h1m8 0h1m0 0h1m1 0h1m10 0h1m0 0h1m-33 1h1m19 0h1m0 0h1m5 0h1m-7 1h1m3 0h1m2 0h1m-28 1h1m2 0h1m1 0h1m2 0h1m8 0h1m10 0h1m1 0h1m-34 1h1m12 0h1m4 0h1m5 0h1m3 0h1m2 0h1m5 0h1m-35 1h1m11 0h1m15 0h1m17 0h1m-44 1h1m26 0h1m4 0h1m0 0h1m-38 1h1m6 0h1m19 0h1m3 0h1m-42 1h1m35 0h1m-14 1h1m2 0h1m2 0h1m-13 1h1m15 0h1m-3 1h1m-25 1h1m14 0h1m9 0h1m13 0h1m-25 2h1m1 0h1m8 0h1m0 0h1m11 0h1m-36 1h1m7 0h1m10 0h1m14 0h1m-33 1h1m5 0h1m7 0h1m10 0h1m4 0h1m-15 1h1m23 0h1m-51 1h1m8 0h1m5 0h1m20 0h1m-35 1h1" stroke="#3a3aff" stroke-width="1" transform="translate(0,0.5)" fill="none"/>
<path d="M625 62h1m7 4h1m5 3h1m2 0h1m5 1h1m-47 1h1m0 5h1m2 2h1m-12 1h1m-3 2h1m36 3h1m-36 1h1m56 1h1m-54 1h1m-25 1h1m45 3h1m-30 2h1m-7 1h1m0 1h1m4 0h1m32 1h1m-43 1h1m10 0h1m1 0h1m-18 1h1m15 0h1m0 0h1m-25 1h1m18 0h1m0 0h1m0 0h1m-14 1h1m19 0h1m-5 1h1m-3 1h1m1 0h1m6 0h1m41 0h1m-49 1h1m1 0h1m-18 1h1m8 0h1m1 0h1m-432 1h1m2 0h1m422 0h1m3 0h1m0 0h1m-15 1h1m2 0h1m1 0h1m1 0h1m0 0h1m6 0h1m-1 1h1m0 0h1m1 0h1m1 0h1m-453 1h1m2 0h1m437 0h1m0 0h1m0 0h1m1 0h1m-5 1h1m4 0h1m2 0h1m-15 1h1m0 0h1m0 0h1m2 0h1m3 0h1m2 0h1m0 0h1m1 0h1m-450 1h1m439 0h1m1 0h1m4 0h1m0 0h1m-456 1h1m443 0h1m2 0h1m2 0h1m0 0h1m0 0h1m3 0h1m4 0h1m-468 1h1m12 0h1m3 0h1m12 0h1m420 0h1m0 0h1m2 0h1m0 0h1m1 0h1m2 0h1m48 0h1m-491 1h1m2 0h1m0 0h1m427 0h1m1 0h1m0 0h1m5 0h1m1 0h1m-450 1h1m10 0h1m425 0h1m7 0h1m2 0h1m-445 1h1m3 0h1m436 0h1m4 0h1m-468 1h1m17 0h1m5 0h1m432 0h1m12 0h1m-462 1h1m2 0h1m7 0h1m434 0h1m3 0h1m3 0h1m53 0h1m-518 1h1m2 0h1m9 0h1m435 0h1m0 0h1m7 0h1m1 0h1m1 0h1m6 0h1m-14 1h1m5 0h1m2 0h1m-447 1h1m435 0h1m2 0h1m0 0h1m1 0h1m1 0h1m-458 1h1m16 0h1m6 0h1m423 0h1m8 0h1m35 0h1m-491 1h1m1 0h1m0 0h1m2 0h1m5 0h1m7 0h1m421 0h1m17 0h1m32 0h1m-503 1h1m2 0h1m9 0h1m6 0h1m-16 1h1m18 0h1m-11 1h1m3 0h1m6 0h1m427 0h1m2 0h1m4 0h1m0 0h1m42 0h1m15 0h1m-494 1h1m431 0h1m-438 1h1m4 0h1m426 0h1m1 0h1m-449 1h1m2 0h1m0 0h1m5 0h1m487 0h1m-499 1h1m0 0h1m7 0h1m5 0h1m430 0h1m6 0h1m-448 1h1m444 0h1m8 0h1m-463 1h1m0 0h1m5 0h1m8 0h1m7 0h1m4 0h1m418 0h1m-449 1h1m11 0h1m2 0h1m437 0h1m-453 1h1m0 0h1m1 0h1m0 0h1m2 0h1m1 0h1m0 0h1m1 0h1m1 0h1m-25 1h1m1 0h1m2 0h1m4 0h1m4 0h1m20 0h1m-31 1h1m13 0h1m6 0h1m-25 1h1m9 0h1m5 0h1m2 0h1m1 0h1m-16 1h1m3 0h1m0 0h1m1 0h1m3 0h1m-15 1h1m1 0h1m2 0h1m14 0h1m2 0h1m4 0h1m-24 1h1m2 0h1m1 0h1m18 0h1m-28 1h1m7 0h1m0 0h1m1 0h1m1 0h1m-2 1h1m4 0h1m4 0h1m4 0h1m-29 1h1m2 0h1m6 0h1m3 0h1m3 0h1m-10 1h1m16 0h1m-31 1h1m24 0h1m7 0h1m-16 1h1m-11 1h1m2 0h1m0 0h1m1 0h1m-4 1h1m5 0h1m6 0h1m-9 1h1m-18 1h1m5 1h1m9 0h1m16 1h1m-24 1h1m2 0h1m0 0h1m10 2h1m5 1h1m-18 1h1m4 0h1m-12 1h1m1 0h1m17 1h1m-27 2h1m13 0h1m-5 2h1m6 0h1m14 1h1m-11 2h1m-18 304h1m10 1h1m-7 2h1m0 1h1m10 0h1m-4 2h1m-11 1h1m-3 2h1m4 1h1m-8 1h1m13 0h1m-9 1h1m2 0h1m4 0h1m-12 1h1m1 0h1m1 0h1m6 0h1m-16 1h1m4 0h1m1 0h1m3 0h1m1 0h1m-7 1h1m-3 1h1m0 0h1m2 0h1m2 0h1m-17 1h1m4 0h1m8 0h1m2 0h1m-17 1h1m10 0h1m2 0h1m1 0h1m-19 1h1m2 0h1m0 0h1m0 0h1m6 0h1m10 0h1m-26 1h1m4 0h1m0 0h1m1 0h1m2 0h1m3 0h1m2 0h1m0 0h1m-16 1h1m1 0h1m3 0h1m0 0h1m4 0h1m-7 1h1m-10 1h1m1 0h1m6 0h1m1 0h1m2 0h1m8 0h1m3 0h1m-23 1h1m10 0h1m1 0h1m5 0h1m2 0h1m-26 1h1m2 0h1m-6 1h1m6 0h1m5 0h1m0 0h1m9 0h1m-25 1h1m3 0h1m0 0h1m4 0h1m0 0h1m3 0h1m1 0h1m1 0h1m0 0h1m3 0h1m-13 1h1m-12 1h1m1 0h1m0 0h1m2 0h1m0 0h1m1 0h1m0 0h1m0 0h1m4 0h1m2 0h1m-22 1h1m3 0h1m7 0h1m5 0h1m2 0h1m1 0h1m-24 1h1m5 0h1m9 0h1m0 0h1m1 0h1m8 0h1m-27 1h1m0 0h1m5 0h1m2 0h1m-6 1h1m3 0h1m1 0h1m2 0h1m0 0h1m-15 1h1m12 0h1m1 0h1m-9 1h1m3 0h1m12 0h1m-25 1h1m2 1h1m1 0h1m9 0h1m-19 1h1m6 0h1m4 0h1m-7 1h1m9 0h1m-2 1h1m2 0h1m1 0h1m-12 1h1m6 0h1m-4 1h1m1 0h1m-15 1h1m-3 1h1m8 0h1m15 0h1m0 0h1" stroke="#7070ff" stroke-width="1" transform="translate(0,0.5)" fill="none"/>
<path d="M156 137h1m6 2h1m-9 1h1m6 0h1m4 0h1m-10 1h1m1 0h1m0 0h1m-3 1h1m6 0h1m7 0h1m-20 1h1m2 0h1m5 0h1m-10 1h1m4 0h1m2 0h1m0 0h1m2 0h1m1 0h1m-17 1h1m1 0h1m3 0h1m3 0h1m1 1h1m0 0h1m6 0h1m-18 1h1m5 0h1m2 0h1m4 0h1m-16 1h1m3 0h1m6 0h1m0 0h1m-8 1h1m1 0h1m2 0h1m1 0h1m2 0h1m1 0h1m-15 1h1m3 0h1m5 0h1m3 0h1m-10 1h1m1 0h1m0 0h1m1 0h1m-11 1h1m14 0h1m-14 1h1m0 0h1m0 0h1m0 0h1m-5 1h1m0 0h1m-10 2h1" stroke="#8030e0" stroke-width="1" transform="translate(0,0.5)" fill="none"/>
<path d="M124 81h1m-3 1h1m4 2h1m-5 3h1m2 2h1m0 0h1m-7 10h1m3 2h1m0 3h1m-3 2h1m-4 1h1m-1 3h1m-3 2h1m470 6h1m-466 3h1m1 2h1m460 0h1m16 1h1m-485 1h1m467 0h1m15 0h1m4 1h1m-22 1h1m16 0h1m-485 1h1m453 0h1m8 0h1m3 1h1m10 0h1m-478 1h1m457 0h1m0 0h1m1 0h1m4 0h1m0 0h1m7 0h1m5 0h1m3 0h1m-21 1h1m0 0h1m3 0h1m-472 1h1m444 0h1m14 0h1m9 0h1m4 0h1m2 0h1m-476 1h1m442 0h1m5 0h1m0 0h1m0 0h1m21 0h1m-18 1h1m0 0h1m4 0h1m3 0h1m5 0h1m1 0h1m-11 1h1m1 0h1m6 0h1m2 0h1m0 0h1m-19 1h1m0 0h1m0 0h1m6 0h1m3 0h1m4 0h1m-25 1h1m3 0h1m0 0h1m2 0h1m1 0h1m0 0h1m6 0h1m6 1h1m-484 1h1m2 0h1m458 0h1m0 0h1m1 0h1m3 0h1m-13 1h1m9 0h1m1 0h1m3 0h1m5 0h1m-477 1h1m420 0h1m37 0h1m9 0h1m4 0h1m-19 1h1m-461 2h1m466 0h1m-28 1h1m11 0h1m35 0h1m-25 2h1m-461 1h1m474 0h1m2 0h1m-480 1h1m3 0h1m0 1h1m-7 1h1m1 0h1m472 0h1m-475 1h1m3 1h1m-3 1h1m-1 2h1m-1 3h1m443 4h1m-6 3h1m2 0h1m15 1h1m12 1h1m-469 1h1m440 1h1m-443 1h1m420 3h1m25 1h1m7 0h1m-42 4h1m35 0h1m-45 2h1m46 4h1m16 0h1m-41 2h1m25 5h1m-463 74h1m2 0h1m-3 1h1m0 0h1m0 0h1m2 1h1m-2 1h1m-5 1h1m1 0h1m0 0h1m-4 1h1m-2 6h1m2 0h1m3 1h1m-7 2h1m4 4h1m0 1h1m-7 9h1m1 4h1m-1 1h1m-3 2h1m1 3h1m2 0h1m-5 2h1m0 1h1m3 0h1m-1 3h1m-1 1h1m-5 2h1m-4 2h1m4 0h1m-5 1h1m2 0h1m0 2h1m-3 2h1m0 0h1m0 4h1m-3 3h1m1 2h1m-2 1h1m-1 1h1m1 3h1m-3 2h1m1 0h1m-7 2h1m0 1h1m-1 1h1m0 1h1m-4 3h1m6 2h1m-21 140h1m266 7h1m-260 1h1m230 0h1m24 0h1m-264 1h1m237 0h1m25 0h1m-4 1h1m4 0h1m0 0h1m-10 1h1m2 0h1m1 0h1m0 0h1m0 0h1m0 0h1m-5 1h1m0 0h1m1 0h1m0 0h1m0 0h1m-257 1h1m248 0h1m3 0h1m1 0h1m0 0h1m-51 1h1m42 0h1m0 0h1m1 0h1m0 0h1m1 0h1m-26 1h1m19 0h1m1 0h1m0 0h1m0 0h1m0 0h1m0 0h1m-18 1h1m4 0h1m2 0h1m0 0h1m1 0h1m0 0h1m1 0h1m0 0h1m0 0h1m-29 1h1m16 0h1m2 0h1m0 0h1m0 0h1m0 0h1m0 0h1m0 0h1m2 0h1m-15 1h1m2 0h1m1 0h1m4 0h1m0 0h1m1 0h1m-18 1h1m4 0h1m0 0h1m0 0h1m0 0h1m1 0h1m1 0h1m1 0h1m0 0h1m1 0h1m0 0h1m-267 1h1m248 0h1m0 0h1m0 0h1m5 0h1m2 0h1m0 0h1m0 0h1m1 0h1m-48 1h1m21 0h1m7 0h1m2 0h1m0 0h1m1 0h1m1 0h1m0 0h1m0 0h1m0 0h1m0 0h1m1 0h1m0 0h1m-44 1h1m22 0h1m3 0h1m0 0h1m0 0h1m0 0h1m0 0h1m0 0h1m2 0h1m0 0h1m0 0h1m1 0h1m0 0h1m-25 1h1m6 0h1m4 0h1m2 0h1m0 0h1m0 0h1m0 0h1m0 0h1m0 0h1m2 0h1m1 0h1m-24 1h1m0 0h1m0 0h1m0 0h1m5 0h1m2 0h1m0 0h1m0 0h1m0 0h1m0 0h1m0 0h1m0 0h1m1 0h1m4 0h1m-25 1h1m6 0h1m0 0h1m2 0h1m0 0h1m0 0h1m0 0h1m1 0h1m-34 1h1m11 0h1m1 0h1m1 0h1m3 0h1m1 0h1m1 0h1m0 0h1m0 0h1m1 0h1m0 0h1m3 0h1m1 0h1m0 0h1m-242 1h1m207 0h1m1 0h1m2 0h1m3 0h1m2 0h1m0 0h1m1 0h1m0 0h1m1 0h1m0 0h1m0 0h1m1 0h1m0 0h1m0 0h1m2 0h1m0 0h1m0 0h1m1 0h1m2 0h1m-41 1h1m3 0h1m5 0h1m2 0h1m5 0h1m0 0h1m0 0h1m2 0h1m1 0h1m0 0h1m3 0h1m0 0h1m1 0h1m2 0h1m2 0h1m6 0h1m-251 1h1m195 0h1m2 0h1m1 0h1m14 0h1m0 0h1m3 0h1m0 0h1m1 0h1m0 0h1m0 0h1m1 0h1m1 0h1m0 0h1m0 0h1m0 0h1m0 0h1m0 0h1m0 0h1m3 0h1m1 0h1m2 0h1m3 0h1m0 0h1m-49 1h1m1 0h1m3 0h1m3 0h1m3 0h1m3 0h1m0 0h1m0 0h1m0 0h1m1 0h1m0 0h1m1 0h1m0 0h1m5 0h1m0 0h1m3 0h1m2 0h1m0 0h1m0 0h1m-50 1h1m6 0h1m0 0h1m0 0h1m2 0h1m0 0h1m3 0h1m4 0h1m0 0h1m1 0h1m0 0h1m0 0h1m0 0h1m0 0h1m1 0h1m0 0h1m0 0h1m2 0h1m1 0h1m2 0h1m0 0h1m7 0h1m2 0h1m-256 1h1m197 0h1m9 0h1m1 0h1m1 0h1m1 0h1m1 0h1m4 0h1m2 0h1m1 0h1m0 0h1m4 0h1m0 0h1m0 0h1m0 0h1m1 0h1m0 0h1m8 0h1m5 0h1m-50 1h1m2 0h1m2 0h1m0 0h1m0 0h1m2 0h1m0 0h1m0 0h1m0 0h1m1 0h1m0 0h1m0 0h1m2 0h1m0 0h1m2 0h1m1 0h1m0 0h1m0 0h1m2 0h1m0 0h1m4 0h1m5 0h1m3 0h1m-55 1h1m1 0h1m0 0h1m0 0h1m1 0h1m0 0h1m4 0h1m4 0h1m1 0h1m0 0h1m2 0h1m0 0h1m0 0h1m2 0h1m0 0h1m0 0h1m1 0h1m0 0h1m0 0h1m3 0h1m4 0h1m1 0h1m0 0h1m1 0h1m3 0h1m-250 1h1m197 0h1m0 0h1m0 0h1m0 0h1m0 0h1m2 0h1m2 0h1m0 0h1m1 0h1m0 0h1m1 0h1m7 0h1m7 0h1m2 0h1m1 0h1m2 0h1m2 0h1m-49 1h1m6 0h1m2 0h1m2 0h1m0 0h1m4 0h1m0 0h1m3 0h1m6 0h1m2 0h1m1 0h1m7 0h1m0 0h1m3 0h1m1 0h1m-44 1h1m0 0h1m6 0h1m10 0h1m1 0h1m10 0h1m1 0h1m1 0h1m0 0h1m2 0h1m1 0h1m2 0h1m0 0h1m0 0h1m1 0h1m4 0h1m-58 1h1m1 0h1m0 0h1m1 0h1m8 0h1m4 0h1m10 0h1m0 0h1m4 0h1m18 0h1m-53 1h1m0 0h1m10 0h1m6 0h1m15 0h1m5 0h1m8 0h1m-43 1h1m4 0h1m3 0h1m11 0h1m10 0h1m2 0h1m5 0h1m-47 1h1m31 0h1m0 0h1m1 0h1m2 0h1m12 0h1m-54 1h1m0 0h1m5 0h1m19 0h1m6 0h1m-245 1h1m243 0h1m2 0h1m-16 1h1m9 0h1m2 0h1m2 0h1m2 1h1" stroke="#e87070" stroke-width="1" transform="translate(0,0.5)" fill="none"/>
<path d="M63 150h1m0 2h1m-1 1h1m0 0h1m-1 3h1m-2 1h1m-1 3h1m0 0h1m448 0h1m-452 4h1m-1 5h1m452 0h1m-453 4h1m449 0h1m-450 1h1m448 2h1m1 3h1m-1 1h1m-3 6h1m1 0h1m-2 4h1m-2 1h1m1 0h1m-2 1h1m30 2h1m8 0h1m2 0h1m14 0h1m1 0h1m0 0h1m1 0h1m0 0h1m3 0h1m-68 1h1m31 0h1m1 0h1m6 0h1m9 0h1m2 0h1m-57 1h1m39 0h1m23 0h1m1 0h1m-29 1h1m8 0h1m10 0h1m2 0h1m3 0h1m1 0h1m-460 105h1m-1 3h1m-1 8h1m-2 5h1m-3 1h1m-55 1h1m-3 1h1m1 0h1m54 0h1m2 0h1m-61 3h1m57 3h1m0 0h1m-2 2h1m0 0h1m-60 3h1m0 1h1m54 0h1m3 0h1m-4 1h1m-1 3h1m-56 5h1m-2 1h1m0 3h1m-2 1h1m-2 1h1m0 0h1m307 134h1m-6 1h1m3 0h1m-8 2h1m0 0h1m0 0h1m1 0h1m2 0h1m0 0h1m1 0h1m-8 1h1m0 0h1m0 0h1m1 0h1m-10 1h1m0 0h1m1 0h1m1 0h1m0 0h1m0 0h1m1 0h1m2 0h1m-11 1h1m0 0h1m1 0h1m0 0h1m0 0h1m3 0h1m-6 1h1m0 0h1m0 0h1m0 0h1m2 0h1m0 0h1m-9 1h1m0 0h1m0 0h1m0 0h1m1 0h1m1 0h1m-23 1h1m10 0h1m1 0h1m1 0h1m0 0h1m0 0h1m1 0h1m0 0h1m0 0h1m0 0h1m-12 1h1m0 0h1m2 0h1m0 0h1m0 0h1m0 0h1m0 0h1m0 0h1m0 0h1m-16 1h1m3 0h1m2 0h1m0 0h1m0 0h1m0 0h1m0 0h1m0 0h1m0 0h1m0 0h1m0 0h1m1 0h1m-15 1h1m2 0h1m1 0h1m0 0h1m0 0h1m1 0h1m0 0h1m0 0h1m0 0h1m0 0h1m-12 1h1m0 0h1m0 0h1m0 0h1m0 0h1m0 0h1m0 0h1m0 0h1m0 0h1m0 0h1m0 0h1m0 0h1m0 0h1m-16 1h1m3 0h1m0 0h1m0 0h1m0 0h1m0 0h1m0 0h1m1 0h1m0 0h1m0 0h1m0 0h1m0 0h1m-16 1h1m3 0h1m0 0h1m0 0h1m0 0h1m0 0h1m0 0h1m0 0h1m0 0h1m0 0h1m0 0h1m0 0h1m0 0h1m-18 1h1m3 0h1m0 0h1m0 0h1m0 0h1m0 0h1m0 0h1m0 0h1m0 0h1m0 0h1m0 0h1m0 0h1m0 0h1m0 0h1m0 0h1m-20 1h1m4 0h1m0 0h1m0 0h1m0 0h1m0 0h1m0 0h1m0 0h1m0 0h1m0 0h1m0 0h1m0 0h1m0 0h1m0 0h1m0 0h1m0 0h1m-19 1h1m3 0h1m0 0h1m0 0h1m0 0h1m0 0h1m0 0h1m0 0h1m0 0h1m0 0h1m0 0h1m0 0h1m0 0h1m0 0h1m0 0h1m0 0h1m-17 1h1m1 0h1m1 0h1m0 0h1m0 0h1m0 0h1m0 0h1m0 0h1m0 0h1m0 0h1m0 0h1m0 0h1m0 0h1m0 0h1m0 0h1m-15 1h1m0 0h1m1 0h1m0 0h1m0 0h1m0 0h1m0 0h1m0 0h1m0 0h1m0 0h1m0 0h1m0 0h1m1 0h1m-15 1h1m0 0h1m0 0h1m0 0h1m0 0h1m0 0h1m0 0h1m0 0h1m0 0h1m0 0h1m0 0h1m0 0h1m0 0h1m0 0h1m0 0h1m-26 1h1m8 0h1m1 0h1m0 0h1m0 0h1m1 0h1m0 0h1m0 0h1m0 0h1m0 0h1m0 0h1m0 0h1m0 0h1m0 0h1m-31 1h1m15 0h1m0 0h1m1 0h1m0 0h1m0 0h1m0 0h1m0 0h1m0 0h1m0 0h1m0 0h1m0 0h1m0 0h1m0 0h1m0 0h1m0 0h1m0 0h1m-19 1h1m3 0h1m0 0h1m0 0h1m0 0h1m0 0h1m0 0h1m0 0h1m0 0h1m0 0h1m1 0h1m0 0h1m0 0h1m-66 1h1m44 0h1m5 0h1m0 0h1m0 0h1m0 0h1m0 0h1m0 0h1m0 0h1m0 0h1m0 0h1m0 0h1m0 0h1m0 0h1m0 0h1m0 0h1m0 0h1m-67 1h1m46 0h1m1 0h1m1 0h1m0 0h1m0 0h1m0 0h1m0 0h1m0 0h1m0 0h1m0 0h1m0 0h1m0 0h1m0 0h1m0 0h1m0 0h1m0 0h1m0 0h1m0 0h1m0 0h1m0 0h1m-43 1h1m13 0h1m1 0h1m1 0h1m0 0h1m0 0h1m1 0h1m1 0h1m1 0h1m1 0h1m0 0h1m1 0h1m1 0h1m0 0h1m1 0h1m1 0h1m0 0h1m0 0h1m-32 1h1m3 0h1m0 0h1m1 0h1m1 0h1m2 0h1m0 0h1m0 0h1m0 0h1m1 0h1m0 0h1m0 0h1m1 0h1m0 0h1m2 0h1m0 0h1m0 0h1m0 0h1m1 0h1m0 0h1m0 0h1m-31 1h1m0 0h1m1 0h1m0 0h1m0 0h1m0 0h1m0 0h1m2 0h1m2 0h1m0 0h1m1 0h1m0 0h1m0 0h1m2 0h1m1 0h1m0 0h1m0 0h1m0 0h1m0 0h1m0 0h1m0 0h1m0 0h1m0 0h1m-69 1h1m26 0h1m2 0h1m1 0h1m0 0h1m1 0h1m2 0h1m3 0h1m0 0h1m0 0h1m2 0h1m1 0h1m0 0h1m0 0h1m0 0h1m0 0h1m3 0h1m0 0h1m1 0h1m0 0h1m1 0h1m2 0h1m-56 1h1m1 0h1m2 0h1m4 0h1m9 0h1m2 0h1m3 0h1m2 0h1m0 0h1m1 0h1m1 0h1m0 0h1m2 0h1m0 0h1m1 0h1m0 0h1m3 0h1m0 0h1m1 0h1m0 0h1m1 0h1m-55 1h1m2 0h1m8 0h1m2 0h1m1 0h1m1 0h1m1 0h1m1 0h1m0 0h1m0 0h1m0 0h1m1 0h1m0 0h1m0 0h1m0 0h1m0 0h1m0 0h1m0 0h1m1 0h1m1 0h1m0 0h1m0 0h1m1 0h1m0 0h1m0 0h1m2 0h1m0 0h1m0 0h1m0 0h1m0 0h1m0 0h1m0 0h1m1 0h1m0 0h1m-67 1h1m0 0h1m6 0h1m0 0h1m5 0h1m2 0h1m7 0h1m1 0h1m0 0h1m1 0h1m6 0h1m0 0h1m1 0h1m1 0h1m0 0h1m0 0h1m0 0h1m0 0h1m1 0h1m0 0h1m0 0h1m2 0h1m0 0h1m3 0h1m0 0h1m1 0h1m0 0h1m-53 1h1m2 0h1m0 0h1m0 0h1m0 0h1m2 0h1m0 0h1m1 0h1m1 0h1m1 0h1m0 0h1m0 0h1m1 0h1m1 0h1m0 0h1m2 0h1m0 0h1m0 0h1m0 0h1m0 0h1m0 0h1m1 0h1m3 0h1m1 0h1m0 0h1m3 0h1m0 0h1m6 0h1m2 0h1m-56 1h1m0 0h1m0 0h1m2 0h1m0 0h1m4 0h1m1 0h1m1 0h1m0 0h1m3 0h1m0 0h1m0 0h1m0 0h1m0 0h1m0 0h1m1 0h1m1 0h1m1 0h1m0 0h1m0 0h1m1 0h1m0 0h1m0 0h1m0 0h1m3 0h1m1 0h1m0 0h1m0 0h1m1 0h1m1 0h1m1 0h1m-57 1h1m4 0h1m0 0h1m0 0h1m1 0h1m1 0h1m0 0h1m0 0h1m0 0h1m0 0h1m2 0h1m0 0h1m7 0h1m0 0h1m1 0h1m3 0h1m0 0h1m1 0h1m1 0h1m0 0h1m2 0h1m2 0h1m1 0h1m0 0h1m3 0h1m-61 1h1m7 0h1m0 0h1m3 0h1m1 0h1m0 0h1m1 0h1m0 0h1m1 0h1m0 0h1m0 0h1m1 0h1m1 0h1m2 0h1m1 0h1m0 0h1m0 0h1m0 0h1m3 0h1m0 0h1m1 0h1m1 0h1m1 0h1m4 0h1m0 0h1m2 0h1m1 0h1m1 0h1m3 0h1m0 0h1m-65 1h1m6 0h1m1 0h1m0 0h1m1 0h1m3 0h1m1 0h1m0 0h1m1 0h1m1 0h1m0 0h1m0 0h1m1 0h1m1 0h1m1 0h1m2 0h1m2 0h1m0 0h1m0 0h1m0 0h1m3 0h1m0 0h1m2 0h1m0 0h1m2 0h1m1 0h1m4 0h1m-53 1h1m1 0h1m2 0h1m0 0h1m0 0h1m0 0h1m1 0h1m1 0h1m1 0h1m1 0h1m2 0h1m5 0h1m0 0h1m3 0h1m0 0h1m1 0h1m6 0h1m1 0h1m1 0h1m1 0h1m4 0h1m0 0h1m-60 1h1m3 0h1m0 0h1m2 0h1m0 0h1m0 0h1m0 0h1m1 0h1m0 0h1m1 0h1m0 0h1m1 0h1m0 0h1m2 0h1m1 0h1m3 0h1m0 0h1m0 0h1m1 0h1m0 0h1m2 0h1m0 0h1m1 0h1m0 0h1m4 0h1m4 0h1m3 0h1m1 0h1m6 0h1m-59 1h1m3 0h1m5 0h1m2 0h1m0 0h1m1 0h1m0 0h1m0 0h1m0 0h1m0 0h1m12 0h1m8 0h1m1 0h1m0 0h1m2 0h1m0 0h1m8 0h1m0 0h1m-58 1h1m0 0h1m0 0h1m1 0h1m0 0h1m2 0h1m0 0h1m3 0h1m1 0h1m1 0h1m0 0h1m0 0h1m4 0h1m0 0h1m7 0h1m11 0h1m4 0h1m-59 1h1m4 0h1m4 0h1m2 0h1m11 0h1m8 0h1m17 0h1m-53 1h1m9 0h1m8 0h1m0 0h1m27 0h1m0 0h1m4 0h1m0 0h1m-10 1h1m1 0h1m-8 1h1m15 0h1m4 0h1m-50 1h1m33 0h1m-10 1h1m9 1h1" stroke="#e01818" stroke-width="1" transform="translate(0,0.5)" fill="none"/>
<path d="M106 136h1m9 1h1m-8 3h1m474 0h1m-474 1h1m2 0h1m-13 1h1m7 0h1m5 0h1m469 0h1m-486 1h1m6 0h1m1 0h1m1 0h1m2 0h1m458 0h1m4 0h1m1 0h1m4 0h1m-490 1h1m2 0h1m6 0h1m0 0h1m2 0h1m3 0h1m0 0h1m469 0h1m-491 1h1m3 0h1m1 0h1m6 0h1m0 0h1m2 0h1m2 0h1m466 0h1m1 0h1m-483 1h1m2 0h1m4 0h1m0 0h1m1 0h1m0 0h1m0 0h1m455 0h1m7 0h1m1 0h1m2 0h1m-481 1h1m0 0h1m2 0h1m2 0h1m1 0h1m1 0h1m0 0h1m446 0h1m10 0h1m1 0h1m4 0h1m4 0h1m-487 1h1m7 0h1m0 0h1m464 0h1m6 0h1m-487 1h1m3 0h1m1 0h1m0 0h1m1 0h1m1 0h1m1 0h1m2 0h1m463 0h1m0 0h1m1 0h1m0 0h1m1 0h1m-494 1h1m1 0h1m1 0h1m0 0h1m0 0h1m0 0h1m1 0h1m0 0h1m2 0h1m0 0h1m1 0h1m0 0h1m0 0h1m0 0h1m1 0h1m0 0h1m0 0h1m446 0h1m15 0h1m1 0h1m2 0h1m0 0h1m0 0h1m2 0h1m2 0h1m-494 1h1m0 0h1m0 0h1m0 0h1m0 0h1m2 0h1m1 0h1m0 0h1m0 0h1m6 0h1m451 0h1m13 0h1m0 0h1m1 0h1m0 0h1m3 0h1m-498 1h1m0 0h1m4 0h1m0 0h1m1 0h1m0 0h1m0 0h1m4 0h1m2 0h1m0 0h1m445 0h1m7 0h1m3 0h1m0 0h1m1 0h1m2 0h1m1 0h1m0 0h1m0 0h1m0 0h1m1 0h1m-490 1h1m1 0h1m0 0h1m1 0h1m0 0h1m0 0h1m0 0h1m2 0h1m0 0h1m0 0h1m0 0h1m0 0h1m1 0h1m0 0h1m445 0h1m6 0h1m7 0h1m3 0h1m1 0h1m0 0h1m0 0h1m3 0h1m0 0h1m-505 1h1m11 0h1m1 0h1m2 0h1m0 0h1m0 0h1m3 0h1m0 0h1m0 0h1m0 0h1m1 0h1m0 0h1m447 0h1m10 0h1m0 0h1m0 0h1m1 0h1m1 0h1m0 0h1m0 0h1m1 0h1m2 0h1m0 0h1m0 0h1m2 0h1m0 0h1m0 0h1m-497 1h1m0 0h1m1 0h1m1 0h1m0 0h1m2 0h1m0 0h1m0 0h1m2 0h1m0 0h1m444 0h1m4 0h1m11 0h1m1 0h1m0 0h1m0 0h1m0 0h1m1 0h1m2 0h1m2 0h1m2 0h1m2 0h1m-500 1h1m2 0h1m2 0h1m0 0h1m0 0h1m2 0h1m1 0h1m0 0h1m0 0h1m0 0h1m0 0h1m1 0h1m0 0h1m438 0h1m15 0h1m3 0h1m0 0h1m2 0h1m0 0h1m1 0h1m0 0h1m1 0h1m0 0h1m1 0h1m1 0h1m-498 1h1m1 0h1m1 0h1m2 0h1m3 0h1m0 0h1m3 0h1m0 0h1m441 0h1m7 0h1m1 0h1m1 0h1m5 0h1m0 0h1m2 0h1m0 0h1m0 0h1m1 0h1m0 0h1m0 0h1m0 0h1m1 0h1m0 0h1m0 0h1m4 0h1m0 0h1m1 0h1m-504 1h1m1 0h1m1 0h1m3 0h1m1 0h1m0 0h1m0 0h1m4 0h1m2 0h1m4 0h1m440 0h1m2 0h1m1 0h1m3 0h1m2 0h1m4 0h1m3 0h1m1 0h1m1 0h1m0 0h1m0 0h1m0 0h1m3 0h1m-500 1h1m4 0h1m2 0h1m1 0h1m0 0h1m0 0h1m0 0h1m0 0h1m4 0h1m3 0h1m2 0h1m443 0h1m0 0h1m0 0h1m4 0h1m0 0h1m5 0h1m3 0h1m0 0h1m3 0h1m0 0h1m1 0h1m1 0h1m0 0h1m0 0h1m0 0h1m1 0h1m0 0h1m-509 1h1m2 0h1m6 0h1m1 0h1m0 0h1m0 0h1m0 0h1m1 0h1m0 0h1m1 0h1m2 0h1m449 0h1m2 0h1m0 0h1m0 0h1m2 0h1m1 0h1m1 0h1m3 0h1m1 0h1m1 0h1m1 0h1m2 0h1m1 0h1m4 0h1m2 0h1m-503 1h1m2 0h1m0 0h1m0 0h1m3 0h1m0 0h1m0 0h1m1 0h1m1 0h1m1 0h1m1 0h1m0 0h1m4 0h1m419 0h1m15 0h1m4 0h1m2 0h1m5 0h1m0 0h1m6 0h1m0 0h1m0 0h1m0 0h1m0 0h1m3 0h1m0 0h1m0 0h1m0 0h1m0 0h1m6 0h1m1 0h1m-512 1h1m8 0h1m1 0h1m1 0h1m0 0h1m0 0h1m0 0h1m0 0h1m0 0h1m1 0h1m1 0h1m0 0h1m1 0h1m0 0h1m1 0h1m3 0h1m432 0h1m1 0h1m3 0h1m1 0h1m2 0h1m0 0h1m4 0h1m1 0h1m2 0h1m0 0h1m2 0h1m2 0h1m1 0h1m4 0h1m1 0h1m0 0h1m5 0h1m-505 1h1m0 0h1m1 0h1m0 0h1m3 0h1m0 0h1m453 0h1m0 0h1m0 0h1m9 0h1m3 0h1m0 0h1m1 0h1m1 0h1m0 0h1m1 0h1m1 0h1m0 0h1m1 0h1m1 0h1m2 0h1m0 0h1m-506 1h1m4 0h1m0 0h1m2 0h1m1 0h1m0 0h1m0 0h1m0 0h1m1 0h1m0 0h1m1 0h1m0 0h1m1 0h1m437 0h1m3 0h1m2 0h1m2 0h1m0 0h1m3 0h1m9 0h1m1 0h1m1 0h1m1 0h1m1 0h1m0 0h1m8 0h1m4 0h1m-507 1h1m1 0h1m1 0h1m0 0h1m1 0h1m1 0h1m5 0h1m0 0h1m0 0h1m1 0h1m4 0h1m425 0h1m9 0h1m1 0h1m2 0h1m4 0h1m0 0h1m1 0h1m0 0h1m1 0h1m9 0h1m8 0h1m3 0h1m1 0h1m-505 1h1m0 0h1m11 0h1m0 0h1m2 0h1m0 0h1m0 0h1m1 0h1m0 0h1m0 0h1m0 0h1m436 0h1m1 0h1m5 0h1m4 0h1m0 0h1m1 0h1m7 0h1m0 0h1m0 0h1m0 0h1m1 0h1m4 0h1m5 0h1m-500 1h1m3 0h1m0 0h1m1 0h1m0 0h1m0 0h1m2 0h1m0 0h1m0 0h1m0 0h1m0 0h1m0 0h1m1 0h1m441 0h1m0 0h1m10 0h1m11 0h1m2 0h1m0 0h1m0 0h1m1 0h1m6 0h1m-501 1h1m1 0h1m2 0h1m4 0h1m0 0h1m0 0h1m3 0h1m0 0h1m445 0h1m2 0h1m0 0h1m3 0h1m17 0h1m0 0h1m-481 1h1m3 0h1m1 0h1m0 0h1m3 0h1m436 0h1m0 0h1m2 0h1m4 0h1m0 0h1m8 0h1m1 0h1m20 0h1m-492 1h1m0 0h1m0 0h1m1 0h1m4 0h1m1 0h1m431 0h1m4 0h1m0 0h1m0 0h1m2 0h1m0 0h1m0 0h1m0 0h1m0 0h1m16 0h1m8 0h1m-495 1h1m4 0h1m1 0h1m2 0h1m0 0h1m12 0h1m422 0h1m7 0h1m5 0h1m0 0h1m0 0h1m1 0h1m3 0h1m0 0h1m15 0h1m-487 1h1m1 0h1m5 0h1m1 0h1m4 0h1m436 0h1m1 0h1m0 0h1m6 0h1m4 0h1m9 0h1m-478 1h1m6 0h1m5 0h1m6 0h1m426 0h1m2 0h1m1 0h1m0 0h1m4 0h1m3 0h1m1 0h1m3 0h1m5 0h1m-472 1h1m9 0h1m2 0h1m0 0h1m434 0h1m2 0h1m1 0h1m0 0h1m1 0h1m7 0h1m-456 1h1m433 0h1m9 0h1m3 0h1m6 0h1m-471 1h1m3 0h1m444 0h1m1 0h1m2 0h1m4 0h1m4 0h1m1 0h1m-463 1h1m2 0h1m445 0h1m0 0h1m0 0h1m-9 1h1m1 0h1m5 0h1m5 0h1m-15 1h1m3 0h1m4 1h1m9 1h1m-21 1h1m-184 50h1m-10 1h1m6 0h1m5 1h1m-15 1h1m3 0h1m4 0h1m0 0h1m4 0h1m-16 1h1m5 0h1m2 0h1m1 0h1m2 0h1m-12 1h1m0 0h1m1 0h1m5 0h1m-22 1h1m8 0h1m0 0h1m2 0h1m3 0h1m-12 1h1m3 0h1m2 0h1m1 0h1m1 0h1m1 0h1m-14 1h1m0 0h1m2 0h1m1 0h1m4 0h1m0 0h1m0 0h1m0 0h1m0 0h1m1 0h1m1 0h1m-34 1h1m5 0h1m0 0h1m2 0h1m0 0h1m2 0h1m0 0h1m0 0h1m1 0h1m0 0h1m0 0h1m2 0h1m0 0h1m1 0h1m0 0h1m0 0h1m0 0h1m1 0h1m1 0h1m-25 1h1m6 0h1m0 0h1m1 0h1m0 0h1m0 0h1m0 0h1m0 0h1m2 0h1m0 0h1m0 0h1m0 0h1m-19 1h1m1 0h1m2 0h1m1 0h1m0 0h1m0 0h1m1 0h1m0 0h1m2 0h1m5 0h1m-29 1h1m2 0h1m0 0h1m4 0h1m0 0h1m0 0h1m1 0h1m0 0h1m1 0h1m0 0h1m1 0h1m0 0h1m0 0h1m1 0h1m-24 1h1m6 0h1m2 0h1m2 0h1m0 0h1m2 0h1m0 0h1m0 0h1m0 0h1m4 0h1m1 0h1m-31 1h1m5 0h1m1 0h1m0 0h1m1 0h1m0 0h1m0 0h1m1 0h1m0 0h1m0 0h1m0 0h1m0 0h1m1 0h1m0 0h1m0 0h1m0 0h1m0 0h1m1 0h1m-27 1h1m1 0h1m6 0h1m0 0h1m1 0h1m0 0h1m1 0h1m0 0h1m1 0h1m0 0h1m0 0h1m0 0h1m2 0h1m1 0h1m1 0h1m-28 1h1m0 0h1m4 0h1m1 0h1m0 0h1m0 0h1m4 0h1m0 0h1m0 0h1m0 0h1m0 0h1m0 0h1m2 0h1m0 0h1m3 0h1m-31 1h1m0 0h1m3 0h1m1 0h1m0 0h1m0 0h1m0 0h1m0 0h1m1 0h1m0 0h1m0 0h1m0 0h1m0 0h1m0 0h1m1 0h1m4 0h1m1 0h1m1 0h1m-26 1h1m0 0h1m3 0h1m0 0h1m0 0h1m1 0h1m2 0h1m3 0h1m0 0h1m0 0h1m2 0h1m1 0h1m1 0h1m0 0h1m-27 1h1m1 0h1m4 0h1m0 0h1m1 0h1m0 0h1m0 0h1m0 0h1m0 0h1m0 0h1m1 0h1m2 0h1m1 0h1m1 0h1m-22 1h1m1 0h1m4 0h1m2 0h1m0 0h1m-12 1h1m1 0h1m5 0h1m6 0h1m0 0h1m-23 1h1m3 0h1m4 0h1m1 0h1m2 0h1m0 0h1m3 0h1m6 0h1m-28 1h1m12 0h1m1 0h1m0 0h1m0 0h1m2 0h1m-22 1h1m4 0h1m3 0h1m4 0h1m-12 1h1m10 0h1m1 1h1m-211 35h1m-1 2h1m0 1h1m-3 2h1m-1 2h1m2 0h1m-5 1h1m-2 1h1m1 0h1m0 0h1m1 0h1m-5 1h1m-6 2h1m0 0h1m3 0h1m4 1h1m-7 1h1m2 0h1m1 0h1m-12 1h1m5 0h1m0 0h1m1 0h1m-6 2h1m3 0h1m0 0h1m0 0h1m1 0h1m-8 1h1m4 0h1m0 0h1m-14 1h1m5 0h1m0 1h1m0 0h1m-3 1h1m-4 1h1m-2 1h1m0 0h1m3 0h1m1 0h1m1 0h1m1 0h1m-13 1h1m3 0h1m-2 1h1m0 0h1m4 0h1m-11 1h1m1 0h1m7 0h1m0 0h1m-9 1h1m10 0h1m-15 1h1m6 0h1m-5 1h1m5 0h1m-11 1h1m3 0h1m9 0h1m-19 1h1m7 0h1m0 0h1m1 0h1m1 0h1m4 0h1m-13 1h1m4 0h1m2 0h1m-10 1h1m1 0h1m1 0h1m1 0h1m1 0h1m-14 1h1m1 0h1m3 0h1m2 0h1m5 0h1m-32 1h1m10 0h1m6 0h1m3 0h1m1 0h1m5 0h1m1 0h1m2 0h1m-25 1h1m1 0h1m4 0h1m2 0h1m0 0h1m0 0h1m4 0h1m1 0h1m4 0h1m-31 1h1m9 0h1m1 0h1m0 0h1m2 0h1m0 0h1m1 0h1m0 0h1m1 0h1m1 0h1m2 0h1m-27 1h1m0 0h1m1 0h1m10 0h1m1 0h1m1 0h1m0 0h1m0 0h1m1 0h1m2 0h1m1 0h1m1 0h1m0 0h1m-40 1h1m9 0h1m1 0h1m0 0h1m4 0h1m1 0h1m1 0h1m1 0h1m0 0h1m0 0h1m0 0h1m0 0h1m0 0h1m0 0h1m0 0h1m0 0h1m0 0h1m0 0h1m1 0h1m0 0h1m-29 1h1m3 0h1m0 0h1m0 0h1m0 0h1m0 0h1m0 0h1m0 0h1m0 0h1m0 0h1m0 0h1m0 0h1m0 0h1m0 0h1m3 0h1m2 0h1m2 0h1m1 0h1m0 0h1m-29 1h1m5 0h1m2 0h1m0 0h1m0 0h1m0 0h1m4 0h1m0 0h1m1 0h1m0 0h1m1 0h1m1 0h1m0 0h1m-43 1h1m5 0h1m5 0h1m4 0h1m2 0h1m0 0h1m0 0h1m0 0h1m0 0h1m0 0h1m0 0h1m0 0h1m1 0h1m0 0h1m2 0h1m0 0h1m1 0h1m1 0h1m0 0h1m0 0h1m0 0h1m0 0h1m-32 1h1m7 0h1m1 0h1m1 0h1m0 0h1m0 0h1m0 0h1m0 0h1m0 0h1m0 0h1m0 0h1m0 0h1m0 0h1m0 0h1m0 0h1m2 0h1m0 0h1m0 0h1m1 0h1m0 0h1m2 0h1m-37 1h1m0 0h1m4 0h1m0 0h1m0 0h1m0 0h1m2 0h1m0 0h1m0 0h1m0 0h1m0 0h1m1 0h1m0 0h1m0 0h1m0 0h1m0 0h1m0 0h1m0 0h1m0 0h1m0 0h1m0 0h1m0 0h1m0 0h1m1 0h1m2 0h1m-41 1h1m6 0h1m0 0h1m1 0h1m0 0h1m3 0h1m0 0h1m0 0h1m0 0h1m0 0h1m0 0h1m0 0h1m0 0h1m0 0h1m0 0h1m0 0h1m0 0h1m0 0h1m0 0h1m2 0h1m0 0h1m0 0h1m3 0h1m0 0h1m-33 1h1m1 0h1m2 0h1m0 0h1m1 0h1m2 0h1m0 0h1m0 0h1m0 0h1m0 0h1m0 0h1m1 0h1m0 0h1m0 0h1m0 0h1m0 0h1m0 0h1m0 0h1m0 0h1m1 0h1m0 0h1m0 0h1m0 0h1m0 0h1m1 0h1m0 0h1m-45 1h1m8 0h1m4 0h1m0 0h1m1 0h1m0 0h1m0 0h1m0 0h1m0 0h1m1 0h1m0 0h1m0 0h1m0 0h1m0 0h1m0 0h1m0 0h1m0 0h1m0 0h1m0 0h1m0 0h1m0 0h1m0 0h1m0 0h1m0 0h1m1 0h1m0 0h1m0 0h1m0 0h1m0 0h1m1 0h1m-37 1h1m2 0h1m1 0h1m0 0h1m0 0h1m0 0h1m0 0h1m0 0h1m1 0h1m0 0h1m0 0h1m0 0h1m1 0h1m0 0h1m0 0h1m0 0h1m1 0h1m0 0h1m0 0h1m0 0h1m2 0h1m0 0h1m0 0h1m0 0h1m3 0h1m-39 1h1m3 0h1m2 0h1m0 0h1m1 0h1m0 0h1m0 0h1m0 0h1m0 0h1m0 0h1m0 0h1m2 0h1m0 0h1m0 0h1m1 0h1m0 0h1m0 0h1m0 0h1m0 0h1m0 0h1m1 0h1m0 0h1m1 0h1m0 0h1m2 0h1m0 0h1m1 0h1m-46 1h1m0 0h1m2 0h1m6 0h1m4 0h1m0 0h1m1 0h1m0 0h1m0 0h1m0 0h1m1 0h1m0 0h1m0 0h1m0 0h1m0 0h1m0 0h1m0 0h1m0 0h1m0 0h1m1 0h1m0 0h1m0 0h1m4 0h1m-36 1h1m1 0h1m4 0h1m0 0h1m0 0h1m1 0h1m0 0h1m1 0h1m0 0h1m1 0h1m0 0h1m0 0h1m0 0h1m0 0h1m0 0h1m0 0h1m0 0h1m0 0h1m0 0h1m1 0h1m1 0h1m0 0h1m1 0h1m0 0h1m3 0h1m-43 1h1m1 0h1m1 0h1m0 0h1m3 0h1m2 0h1m0 0h1m1 0h1m0 0h1m0 0h1m0 0h1m0 0h1m0 0h1m0 0h1m0 0h1m0 0h1m0 0h1m1 0h1m0 0h1m0 0h1m0 0h1m0 0h1m1 0h1m0 0h1m0 0h1m1 0h1m0 0h1m-31 1h1m0 0h1m0 0h1m2 0h1m0 0h1m3 0h1m0 0h1m1 0h1m0 0h1m0 0h1m0 0h1m0 0h1m0 0h1m1 0h1m0 0h1m0 0h1m4 0h1m2 0h1m0 0h1m-35 1h1m0 0h1m1 0h1m2 0h1m1 0h1m1 0h1m0 0h1m0 0h1m1 0h1m0 0h1m0 0h1m0 0h1m0 0h1m0 0h1m0 0h1m2 0h1m1 0h1m1 0h1m0 0h1m3 0h1m4 0h1m-40 1h1m4 0h1m0 0h1m0 0h1m0 0h1m0 0h1m3 0h1m0 0h1m0 0h1m3 0h1m2 0h1m0 0h1m8 0h1m4 0h1m-35 1h1m4 0h1m1 0h1m9 0h1m1 0h1m3 0h1m12 0h1m-33 1h1m2 0h1m0 0h1m2 0h1m2 0h1m0 0h1m1 0h1m1 0h1m2 0h1m3 0h1m2 0h1m-26 1h1m8 0h1m0 0h1m0 0h1m3 0h1m3 0h1m6 0h1m-27 1h1m13 0h1m0 0h1m3 0h1m1 0h1m-23 1h1m2 0h1m0 0h1m1 0h1m21 0h1m-31 1h1m2 0h1m16 0h1" stroke="#3d8a30" stroke-width="1" transform="translate(0,0.5)" fill="none"/>
<path d="M102 149h1m3 0h1m-14 1h1m6 1h1m7 0h1m-11 1h1m-3 1h1m1 0h1m-4 1h1m0 0h1m6 0h1m5 0h1m-18 1h1m2 0h1m2 0h1m0 0h1m3 0h1m-13 1h1m0 0h1m4 0h1m7 0h1m1 0h1m-10 1h1m1 0h1m1 0h1m0 0h1m-17 1h1m2 0h1m4 0h1m1 0h1m3 0h1m2 0h1m-20 1h1m3 0h1m0 0h1m0 0h1m0 0h1m4 0h1m0 0h1m2 0h1m1 0h1m-13 1h1m0 0h1m0 0h1m0 0h1m0 0h1m0 0h1m0 0h1m0 0h1m0 0h1m0 0h1m1 0h1m-15 1h1m2 0h1m0 0h1m0 0h1m2 0h1m0 0h1m1 0h1m-15 1h1m4 0h1m1 0h1m0 0h1m4 0h1m4 0h1m-19 1h1m3 0h1m1 0h1m0 0h1m0 0h1m0 0h1m0 0h1m2 0h1m0 0h1m-11 1h1m4 0h1m0 0h1m-14 1h1m5 0h1m1 0h1m3 0h1m0 0h1m0 0h1m3 0h1m-20 1h1m3 0h1m2 0h1m0 0h1m2 0h1m0 0h1m1 0h1m-9 1h1m1 0h1m1 0h1m0 0h1m-8 1h1m1 0h1m0 0h1m1 0h1m0 0h1m-8 1h1m1 2h1m-4 1h1m4 0h1" stroke="#2f7424" stroke-width="1" transform="translate(0,0.5)" fill="none"/>
<path d="M109 127h1m-5 1h1m-16 2h1m23 0h1m-1 4h1m-1 1h1m0 0h1m-24 1h1m16 0h1m-21 1h1m25 0h1m1 0h1m-20 1h1m7 1h1m6 0h1m3 0h1m462 0h1m-477 1h1m4 0h1m7 0h1m-25 1h1m18 0h1m2 0h1m0 0h1m-16 1h1m5 0h1m0 0h1m2 0h1m3 0h1m467 0h1m-495 1h1m3 0h1m16 0h1m1 0h1m472 0h1m-492 1h1m5 0h1m3 0h1m0 0h1m10 0h1m-13 1h1m2 0h1m1 0h1m5 0h1m467 0h1m1 0h1m-496 1h1m11 0h1m5 0h1m1 0h1m5 0h1m-33 1h1m19 0h1m8 0h1m451 0h1m8 0h1m5 0h1m-489 1h1m4 0h1m0 0h1m3 0h1m5 0h1m4 0h1m457 0h1m8 0h1m-494 1h1m4 0h1m9 0h1m463 0h1m12 0h1m-487 1h1m4 0h1m7 0h1m446 0h1m17 0h1m-499 1h1m3 0h1m9 0h1m1 0h1m16 0h1m457 0h1m2 0h1m9 0h1m-491 1h1m1 0h1m2 0h1m7 0h1m470 0h1m0 0h1m6 0h1m1 0h1m3 0h1m-507 1h1m23 0h1m1 0h1m3 0h1m4 0h1m450 0h1m4 0h1m0 0h1m0 0h1m5 0h1m1 0h1m0 0h1m5 0h1m-496 1h1m2 0h1m1 0h1m8 0h1m3 0h1m0 0h1m3 0h1m431 0h1m15 0h1m1 0h1m-477 1h1m2 0h1m4 0h1m8 0h1m456 0h1m7 0h1m5 0h1m4 0h1m2 0h1m-514 1h1m15 0h1m6 0h1m0 0h1m2 0h1m4 0h1m1 0h1m456 0h1m6 0h1m1 0h1m-484 1h1m5 0h1m3 0h1m15 0h1m434 0h1m8 0h1m0 0h1m1 0h1m14 0h1m-491 1h1m20 0h1m4 0h1m445 0h1m0 0h1m6 0h1m1 0h1m15 0h1m-512 1h1m15 0h1m7 0h1m1 0h1m5 0h1m442 0h1m9 0h1m4 0h1m3 0h1m0 0h1m-490 1h1m3 0h1m2 0h1m3 0h1m17 0h1m2 0h1m441 0h1m6 0h1m1 0h1m-481 1h1m2 0h1m8 0h1m6 0h1m2 0h1m1 0h1m437 0h1m5 0h1m6 0h1m5 0h1m3 0h1m-488 1h1m3 0h1m11 0h1m12 0h1m428 0h1m2 0h1m2 0h1m1 0h1m6 0h1m6 0h1m1 0h1m0 0h1m11 0h1m-505 1h1m5 0h1m0 0h1m5 0h1m1 0h1m16 0h1m2 0h1m423 0h1m4 0h1m7 0h1m7 0h1m0 0h1m16 0h1m-482 1h1m5 0h1m5 0h1m1 0h1m7 0h1m420 0h1m8 0h1m8 0h1m2 0h1m-465 1h1m1 0h1m1 0h1m9 0h1m428 0h1m3 0h1m10 0h1m0 0h1m1 0h1m-464 1h1m1 0h1m4 0h1m0 0h1m433 0h1m6 0h1m4 0h1m-435 1h1m423 0h1m0 0h1m7 0h1m5 0h1m-474 1h1m1 0h1m12 0h1m0 0h1m1 0h1m441 0h1m8 0h1m1 0h1m4 0h1m0 0h1m-457 1h1m429 0h1m1 0h1m11 0h1m7 0h1m9 0h1m-473 1h1m435 0h1m5 0h1m2 0h1m20 0h1m2 0h1m4 0h1m-487 1h1m20 0h1m430 0h1m3 0h1m7 0h1m0 0h1m8 0h1m-462 1h1m436 0h1m2 0h1m4 0h1m0 0h1m2 0h1m6 0h1m-20 1h1m2 0h1m7 0h1m0 0h1m1 0h1m14 0h1m-24 1h1m4 0h1m9 0h1m-473 1h1m453 0h1m0 0h1m-454 1h1m451 0h1m6 0h1m0 0h1m0 0h1m0 0h1m-15 1h1m0 0h1m0 0h1m0 0h1m-6 1h1m2 0h1m0 0h1m2 2h1m2 0h1m4 1h1m-5 1h1m-226 36h1m33 2h1m0 0h1m-26 3h1m2 2h1m-3 1h1m5 1h1m3 0h1m8 0h1m1 0h1m-36 1h1m7 0h1m15 0h1m11 0h1m-15 1h1m9 1h1m-18 1h1m1 0h1m5 0h1m2 0h1m5 0h1m-7 1h1m2 0h1m0 0h1m0 0h1m1 0h1m0 0h1m0 0h1m-33 1h1m9 0h1m7 0h1m3 0h1m0 0h1m7 0h1m-22 1h1m7 0h1m0 0h1m2 0h1m1 0h1m3 0h1m2 0h1m3 0h1m-35 1h1m13 0h1m0 0h1m3 0h1m6 0h1m0 0h1m2 0h1m-21 1h1m14 0h1m-23 1h1m7 0h1m1 0h1m8 0h1m10 0h1m0 0h1m-40 1h1m3 0h1m17 0h1m3 0h1m5 0h1m-37 1h1m9 0h1m1 0h1m0 0h1m12 0h1m2 0h1m0 0h1m2 0h1m1 0h1m0 0h1m-24 1h1m3 0h1m2 0h1m6 0h1m-25 1h1m3 0h1m16 0h1m0 0h1m5 0h1m0 0h1m0 0h1m-18 1h1m10 0h1m2 0h1m4 0h1m6 0h1m-39 1h1m15 0h1m9 0h1m0 0h1m1 0h1m7 0h1m-33 1h1m0 0h1m2 0h1m0 0h1m3 0h1m8 0h1m4 0h1m4 0h1m-32 1h1m2 0h1m5 0h1m6 0h1m0 0h1m1 0h1m8 0h1m2 0h1m0 0h1m1 0h1m-22 1h1m-13 1h1m10 0h1m2 0h1m0 0h1m13 0h1m2 0h1m-16 1h1m1 0h1m12 0h1m-29 1h1m0 0h1m0 0h1m3 0h1m3 0h1m1 0h1m2 0h1m2 0h1m3 0h1m3 0h1m2 0h1m-22 1h1m2 0h1m4 0h1m3 0h1m1 0h1m2 0h1m-34 1h1m17 0h1m3 0h1m4 0h1m0 0h1m1 0h1m-30 1h1m11 0h1m1 0h1m6 0h1m-16 1h1m6 0h1m5 0h1m-16 1h1m14 0h1m9 1h1m-24 2h1m0 0h1m8 0h1m8 0h1m4 0h1m-2 1h1m-225 38h1m7 1h1m-2 4h1m-4 1h1m3 0h1m-1 1h1m-10 1h1m8 1h1m-14 1h1m13 0h1m-2 1h1m0 0h1m1 1h1m-6 1h1m-7 1h1m2 0h1m3 0h1m1 0h1m-11 1h1m2 0h1m0 0h1m0 0h1m0 0h1m-10 1h1m2 0h1m2 0h1m8 0h1m-8 1h1m0 0h1m2 0h1m-25 1h1m16 0h1m0 0h1m-25 1h1m4 0h1m20 0h1m3 0h1m2 0h1m-32 1h1m20 0h1m1 0h1m-13 1h1m8 0h1m1 0h1m1 0h1m0 1h1m4 0h1m-13 1h1m1 0h1m0 0h1m3 0h1m-18 1h1m8 0h1m3 0h1m6 0h1m-18 1h1m2 0h1m0 0h1m4 0h1m2 0h1m0 0h1m0 0h1m-38 1h1m0 0h1m9 0h1m3 0h1m0 0h1m5 0h1m5 0h1m0 0h1m0 0h1m8 0h1m-36 1h1m26 0h1m1 0h1m0 0h1m1 0h1m2 0h1m-25 1h1m3 0h1m0 1h1m4 0h1m4 0h1m0 0h1m6 0h1m0 0h1m1 0h1m-24 1h1m1 0h1m2 0h1m7 0h1m1 0h1m1 0h1m1 0h1m-40 1h1m10 0h1m9 0h1m10 0h1m0 0h1m1 0h1m5 0h1m-31 1h1m15 0h1m1 0h1m1 0h1m1 0h1m0 0h1m5 0h1m1 0h1m3 0h1m-21 1h1m0 0h1m3 0h1m4 0h1m1 0h1m1 0h1m1 0h1m-27 1h1m9 0h1m0 0h1m0 0h1m6 0h1m1 0h1m0 0h1m6 0h1m-32 1h1m0 0h1m3 0h1m4 0h1m7 0h1m0 0h1m11 0h1m-38 1h1m8 0h1m2 0h1m1 0h1m6 0h1m0 0h1m1 0h1m0 0h1m0 0h1m3 0h1m0 0h1m4 0h1m0 0h1m-44 1h1m2 0h1m2 0h1m12 0h1m1 0h1m3 0h1m3 0h1m0 0h1m1 0h1m1 0h1m1 0h1m5 0h1m0 0h1m-44 1h1m7 0h1m5 0h1m7 0h1m0 0h1m1 0h1m0 0h1m1 0h1m0 0h1m0 0h1m1 0h1m0 0h1m1 0h1m1 0h1m2 0h1m1 0h1m-29 1h1m0 0h1m1 0h1m1 0h1m3 0h1m2 0h1m2 0h1m-21 1h1m4 0h1m2 0h1m2 0h1m3 0h1m0 0h1m0 0h1m0 0h1m0 0h1m2 0h1m7 0h1m0 0h1m0 0h1m0 0h1m-29 1h1m2 0h1m1 0h1m0 0h1m0 0h1m6 0h1m2 0h1m4 0h1m0 0h1m0 0h1m-28 1h1m0 0h1m0 0h1m0 0h1m0 0h1m3 0h1m9 0h1m5 0h1m1 0h1m-22 1h1m3 0h1m4 0h1m2 0h1m0 0h1m4 0h1m-27 1h1m0 0h1m17 0h1m0 0h1m0 0h1m6 0h1m-37 1h1m0 0h1m4 0h1m3 0h1m2 0h1m11 0h1m4 0h1m9 0h1m-34 1h1m4 0h1m1 0h1m5 0h1m3 0h1m3 0h1m0 0h1m0 0h1m-29 1h1m1 0h1m0 0h1m6 0h1m5 0h1m7 0h1m8 0h1m-29 1h1m12 0h1m5 0h1m6 0h1m1 0h1m3 0h1m-16 1h1m7 0h1m4 0h1m4 0h1m-29 1h1m1 0h1m2 0h1m2 0h1m11 0h1m-15 1h1m4 0h1m-19 1h1m4 0h1m9 0h1m-15 1h1m2 0h1m3 0h1m5 0h1m-9 1h1m7 0h1m0 0h1m2 0h1m-12 1h1m13 0h1m-15 1h1m24 0h1m-30 1h1m2 0h1m4 0h1m2 0h1m10 0h1" stroke="#80b878" stroke-width="1" transform="translate(0,0.5)" fill="none"/>
<path d="M115 331h1m-5 2h1m2 0h1m3 0h1m-15 1h1m-6 1h1m0 0h1m0 0h1m11 0h1m-14 1h1m1 0h1m1 0h1m0 0h1m2 0h1m1 0h1m0 0h1m1 0h1m0 0h1m-17 1h1m0 0h1m1 0h1m2 0h1m0 0h1m1 0h1m0 0h1m0 0h1m0 0h1m1 0h1m-14 1h1m0 0h1m1 0h1m0 0h1m0 0h1m1 0h1m2 0h1m2 0h1m-18 1h1m3 0h1m1 0h1m0 0h1m0 0h1m0 0h1m0 0h1m1 0h1m0 0h1m1 0h1m1 0h1m1 0h1m-22 1h1m2 0h1m1 0h1m1 0h1m0 0h1m0 0h1m0 0h1m0 0h1m0 0h1m0 0h1m1 0h1m0 0h1m6 0h1m1 0h1m-27 1h1m5 0h1m0 0h1m0 0h1m0 0h1m0 0h1m0 0h1m0 0h1m0 0h1m0 0h1m0 0h1m1 0h1m1 0h1m0 0h1m-18 1h1m0 0h1m1 0h1m0 0h1m0 0h1m0 0h1m0 0h1m0 0h1m1 0h1m0 0h1m1 0h1m1 0h1m0 0h1m-18 1h1m1 0h1m1 0h1m0 0h1m0 0h1m0 0h1m0 0h1m0 0h1m0 0h1m2 0h1m0 0h1m1 0h1m1 0h1m2 0h1m-20 1h1m2 0h1m0 0h1m0 0h1m2 0h1m0 0h1m1 0h1m-15 1h1m0 0h1m2 0h1m0 0h1m1 0h1m0 0h1m2 0h1m4 0h1m-17 1h1m3 0h1m2 0h1m0 0h1m1 0h1m1 0h1m1 0h1m1 0h1m1 0h1m-20 1h1m2 0h1m4 0h1m4 0h1m1 0h1m-3 1h1m1 1h1m8 0h1m-21 1h1m-13 2h1" stroke="#2a6a20" stroke-width="1" transform="translate(0,0.5)" fill="none"/>
<path d="M184 262h1m-28 1h1m25 2h1m-30 5h1m31 1h1m-30 1h1m45 8h1m-6 17h1m-38 5h1m16 2h1m-38 9h1m38 2h1m-7 11h1m20 7h1" stroke="#c08080" stroke-width="1" transform="translate(0,0.5)" fill="none"/>
<path d="M149 488h1m21 1h1m-10 1h1m-10 1h1m8 0h1m5 0h1m3 1h1m-20 1h1m4 0h1m5 0h1m-18 1h1m13 0h1m0 0h1m6 0h1m-14 1h1m1 0h1m1 0h1m3 0h1m1 0h1m2 0h1m3 0h1m-25 1h1m3 0h1m12 0h1m-19 1h1m8 0h1m1 0h1m0 0h1m6 0h1m4 0h1m1 0h1m0 0h1m-27 1h1m2 0h1m0 0h1m1 0h1m2 0h1m0 0h1m0 0h1m0 0h1m4 0h1m3 0h1m3 0h1m-28 1h1m3 0h1m0 0h1m0 0h1m4 0h1m1 0h1m4 0h1m4 0h1m-18 1h1m21 0h1m-15 1h1m2 0h1m3 0h1m-17 1h1m5 0h1m6 0h1m6 0h1m5 0h1m-20 1h1m2 0h1m1 0h1m1 0h1m4 0h1m-22 1h1m1 0h1m1 0h1m6 0h1m12 0h1m-22 1h1m2 0h1m3 0h1m0 0h1m8 0h1m-24 1h1m0 0h1m8 0h1m9 0h1m-19 1h1m5 0h1m3 0h1m-1 1h1m8 0h1m1 0h1m-19 1h1m5 0h1m2 0h1m7 0h1m-17 1h1m10 2h1m8 0h1" stroke="#8a30e0" stroke-width="1" transform="translate(0,0.5)" fill="none"/>
<path d="M155 488h1m5 3h1m-5 1h1m1 0h1m-6 2h1m5 0h1m-9 3h1m12 0h1m-11 1h1m16 0h1m-29 1h1m10 0h1m0 0h1m19 0h1m-35 1h1m1 0h1m1 0h1m6 0h1m7 0h1m3 0h1m0 0h1m-8 1h1m1 0h1m0 0h1m5 0h1m-24 1h1m5 0h1m1 0h1m3 0h1m3 0h1m-21 1h1m23 0h1m-19 1h1m9 0h1m2 0h1m2 0h1m-14 1h1m4 0h1m2 0h1m0 0h1m12 0h1m-26 1h1m13 0h1m2 0h1m-25 1h1m13 0h1m7 0h1m6 0h1m-19 1h1m4 0h1m4 0h1m2 0h1m-12 1h1m8 0h1m0 0h1m2 0h1m-14 1h1m10 0h1m0 0h1m-2 1h1m0 0h1m-12 1h1" stroke="#b070e0" stroke-width="1" transform="translate(0,0.5)" fill="none"/>
<path d="M339 95h1m-1 1h1m-2 1h1m0 0h1m-5 1h1m1 0h1m0 0h1m0 0h1m0 0h1m-4 1h1m-3 1h1m0 0h1m0 0h1m0 0h1m0 0h1m-7 1h1m2 0h1m1 0h1m0 0h1m0 0h1m-6 1h1m0 0h1m3 0h1m-8 1h1m0 0h1m0 0h1m0 0h1m0 0h1m-6 1h1m0 0h1m0 0h1m0 0h1m0 0h1m0 0h1m1 0h1m0 0h1m-7 1h1m0 0h1m0 0h1m0 0h1m0 0h1m0 0h1m-8 1h1m1 0h1m0 0h1m0 0h1m0 0h1m0 0h1m0 0h1m-6 1h1m0 0h1m1 0h1m0 0h1m0 0h1m0 0h1m-8 1h1m0 0h1m0 0h1m1 0h1m0 0h1m0 0h1m0 0h1m-9 1h1m0 0h1m1 0h1m0 0h1m0 0h1m1 0h1m0 0h1m-10 1h1m0 0h1m0 0h1m1 0h1m0 0h1m0 0h1m0 0h1m2 0h1m-9 1h1m0 0h1m0 0h1m1 0h1m0 0h1m0 0h1m-7 1h1m0 0h1m0 0h1m0 0h1m0 0h1m0 0h1m1 0h1m-10 1h1m2 0h1m2 0h1m0 0h1m0 0h1m-6 1h1m0 0h1m2 0h1m0 0h1m-5 1h1m2 0h1m0 0h1m-5 1h1m1 0h1m1 0h1m-1 1h1" stroke="#c020d0" stroke-width="1" transform="translate(0,0.5)" fill="none"/>
<path d="M337 100h1m0 0h1m0 0h1m-5 1h1m-5 1h1m0 0h1m4 1h1m-1 1h1m-4 1h1m-1 1h1m0 0h1m1 0h1m1 0h1m-5 1h1m0 0h1m2 1h1m-3 1h1m0 0h1m-8 1h1m0 0h1m7 0h1m-9 1h1m4 0h1m-5 1h1m1 0h1m-5 1h1m4 1h1m-2 1h1m-3 1h1m5 0h1m-2 1h1" stroke="#d070d8" stroke-width="1" transform="translate(0,0.5)" fill="none"/>
<path d="M377 65h1m-72 3h1m0 1h1m5 4h1m69 5h1m-56 5h1m-5 1h1m14 13h1m-24 16h1m58 6h1" stroke="#d0a0e0" stroke-width="1" transform="translate(0,0.5)" fill="none"/>
<path d="M388 452h1m0 0h1m1 0h1m1 0h1m-6 1h1m0 0h1m0 0h1m1 0h1m0 0h1m0 0h1m-9 1h1m0 0h1m3 0h1m1 0h1m0 0h1m0 0h1m1 0h1m-16 1h1m0 0h1m2 0h1m1 0h1m0 0h1m0 0h1m0 0h1m0 0h1m2 0h1m-13 1h1m0 0h1m0 0h1m0 0h1m0 0h1m1 0h1m2 0h1m0 0h1m3 0h1m-17 1h1m0 0h1m0 0h1m0 0h1m0 0h1m0 0h1m0 0h1m0 0h1m3 0h1m0 0h1m1 0h1m-14 1h1m0 0h1m0 0h1m0 0h1m0 0h1m0 0h1m0 0h1m0 0h1m1 0h1m0 0h1m0 0h1m0 0h1m0 0h1m0 0h1m-18 1h1m1 0h1m0 0h1m2 0h1m0 0h1m0 0h1m1 0h1m1 0h1m1 0h1m0 0h1m0 0h1m0 0h1m1 0h1m-20 1h1m0 0h1m0 0h1m1 0h1m0 0h1m0 0h1m3 0h1m0 0h1m0 0h1m0 0h1m1 0h1m-15 1h1m0 0h1m0 0h1m0 0h1m1 0h1m0 0h1m0 0h1m1 0h1m1 0h1m0 0h1m3 0h1m-16 1h1m0 0h1m2 0h1m1 0h1m0 0h1m0 0h1m0 0h1m4 0h1m0 0h1m1 0h1m-19 1h1m0 0h1m0 0h1m0 0h1m0 0h1m0 0h1m1 0h1m0 0h1m1 0h1m0 0h1m267 0h1m1 0h1m-283 1h1m0 0h1m1 0h1m0 0h1m0 0h1m0 0h1m0 0h1m0 0h1m1 0h1m0 0h1m0 0h1m1 0h1m0 0h1m2 0h1m262 0h1m1 0h1m-286 1h1m0 0h1m0 0h1m0 0h1m0 0h1m1 0h1m0 0h1m0 0h1m1 0h1m0 0h1m1 0h1m2 0h1m0 0h1m256 0h1m2 0h1m4 0h1m-281 1h1m0 0h1m0 0h1m0 0h1m2 0h1m0 0h1m0 0h1m0 0h1m2 0h1m0 0h1m0 0h1m1 0h1m251 0h1m2 0h1m1 0h1m1 0h1m1 0h1m2 0h1m2 0h1m-282 1h1m0 0h1m4 0h1m1 0h1m1 0h1m1 0h1m2 0h1m246 0h1m0 0h1m6 0h1m0 0h1m0 0h1m0 0h1m0 0h1m0 0h1m0 0h1m0 0h1m0 0h1m1 0h1m0 0h1m1 0h1m-287 1h1m0 0h1m0 0h1m1 0h1m0 0h1m0 0h1m2 0h1m0 0h1m1 0h1m0 0h1m0 0h1m1 0h1m1 0h1m242 0h1m3 0h1m0 0h1m3 0h1m1 0h1m0 0h1m0 0h1m0 0h1m1 0h1m0 0h1m0 0h1m0 0h1m0 0h1m0 0h1m-281 1h1m0 0h1m2 0h1m0 0h1m0 0h1m1 0h1m1 0h1m0 0h1m0 0h1m3 0h1m242 0h1m0 0h1m0 0h1m1 0h1m0 0h1m1 0h1m1 0h1m0 0h1m0 0h1m1 0h1m1 0h1m0 0h1m0 0h1m1 0h1m0 0h1m0 0h1m1 0h1m-284 1h1m2 0h1m0 0h1m5 0h1m0 0h1m2 0h1m0 0h1m243 0h1m2 0h1m0 0h1m1 0h1m0 0h1m1 0h1m0 0h1m1 0h1m0 0h1m0 0h1m0 0h1m0 0h1m0 0h1m0 0h1m0 0h1m0 0h1m-282 1h1m1 0h1m0 0h1m1 0h1m2 0h1m2 0h1m0 0h1m1 0h1m1 0h1m1 0h1m0 0h1m243 0h1m1 0h1m0 0h1m0 0h1m0 0h1m0 0h1m0 0h1m0 0h1m0 0h1m0 0h1m0 0h1m0 0h1m0 0h1m0 0h1m1 0h1m3 0h1m1 0h1m-287 1h1m3 0h1m0 0h1m0 0h1m0 0h1m0 0h1m1 0h1m0 0h1m1 0h1m0 0h1m1 0h1m0 0h1m0 0h1m242 0h1m5 0h1m0 0h1m2 0h1m0 0h1m0 0h1m0 0h1m1 0h1m0 0h1m0 0h1m1 0h1m0 0h1m0 0h1m0 0h1m0 0h1m-281 1h1m1 0h1m1 0h1m0 0h1m2 0h1m0 0h1m0 0h1m0 0h1m1 0h1m0 0h1m1 0h1m241 0h1m6 0h1m0 0h1m0 0h1m0 0h1m0 0h1m0 0h1m0 0h1m0 0h1m1 0h1m2 0h1m0 0h1m1 0h1m-283 1h1m1 0h1m0 0h1m0 0h1m1 0h1m2 0h1m1 0h1m0 0h1m0 0h1m0 0h1m0 0h1m0 0h1m0 0h1m241 0h1m0 0h1m0 0h1m0 0h1m0 0h1m4 0h1m1 0h1m1 0h1m0 0h1m0 0h1m0 0h1m0 0h1m1 0h1m0 0h1m0 0h1m2 0h1m-286 1h1m0 0h1m3 0h1m1 0h1m0 0h1m0 0h1m0 0h1m0 0h1m0 0h1m0 0h1m0 0h1m1 0h1m1 0h1m243 0h1m0 0h1m1 0h1m0 0h1m2 0h1m0 0h1m0 0h1m0 0h1m0 0h1m0 0h1m2 0h1m0 0h1m0 0h1m0 0h1m0 0h1m1 0h1m0 0h1m0 0h1m0 0h1m-285 1h1m0 0h1m1 0h1m0 0h1m2 0h1m0 0h1m3 0h1m1 0h1m1 0h1m241 0h1m1 0h1m1 0h1m0 0h1m0 0h1m0 0h1m0 0h1m3 0h1m1 0h1m1 0h1m0 0h1m0 0h1m2 0h1m0 0h1m0 0h1m0 0h1m-285 1h1m0 0h1m1 0h1m0 0h1m0 0h1m0 0h1m1 0h1m0 0h1m2 0h1m0 0h1m0 0h1m1 0h1m245 0h1m0 0h1m0 0h1m0 0h1m1 0h1m2 0h1m0 0h1m0 0h1m2 0h1m0 0h1m0 0h1m0 0h1m0 0h1m0 0h1m1 0h1m0 0h1m3 0h1m-286 1h1m0 0h1m3 0h1m4 0h1m2 0h1m1 0h1m243 0h1m3 0h1m0 0h1m0 0h1m5 0h1m0 0h1m1 0h1m0 0h1m0 0h1m0 0h1m0 0h1m2 0h1m1 0h1m-285 1h1m0 0h1m0 0h1m2 0h1m2 0h1m1 0h1m0 0h1m0 0h1m1 0h1m0 0h1m0 0h1m1 0h1m241 0h1m0 0h1m0 0h1m0 0h1m0 0h1m0 0h1m0 0h1m0 0h1m0 0h1m0 0h1m1 0h1m0 0h1m1 0h1m1 0h1m0 0h1m0 0h1m1 0h1m5 0h1m-287 1h1m2 0h1m0 0h1m0 0h1m0 0h1m1 0h1m1 0h1m0 0h1m0 0h1m0 0h1m0 0h1m0 0h1m242 0h1m1 0h1m1 0h1m0 0h1m1 0h1m0 0h1m1 0h1m0 0h1m0 0h1m0 0h1m0 0h1m0 0h1m0 0h1m0 0h1m1 0h1m0 0h1m0 0h1m0 0h1m1 0h1m-283 1h1m0 0h1m0 0h1m0 0h1m0 0h1m0 0h1m0 0h1m0 0h1m1 0h1m1 0h1m0 0h1m0 0h1m0 0h1m2 0h1m240 0h1m0 0h1m1 0h1m1 0h1m1 0h1m0 0h1m0 0h1m1 0h1m0 0h1m2 0h1m0 0h1m3 0h1m1 0h1m0 0h1m0 0h1m0 0h1m-284 1h1m0 0h1m1 0h1m0 0h1m0 0h1m0 0h1m0 0h1m2 0h1m0 0h1m0 0h1m0 0h1m0 0h1m242 0h1m1 0h1m0 0h1m0 0h1m0 0h1m1 0h1m0 0h1m0 0h1m0 0h1m1 0h1m1 0h1m0 0h1m1 0h1m2 0h1m1 0h1m1 0h1m0 0h1m-283 1h1m0 0h1m1 0h1m1 0h1m0 0h1m2 0h1m1 0h1m1 0h1m1 0h1m242 0h1m0 0h1m0 0h1m1 0h1m0 0h1m0 0h1m1 0h1m0 0h1m1 0h1m0 0h1m0 0h1m0 0h1m0 0h1m1 0h1m0 0h1m0 0h1m0 0h1m0 0h1m0 0h1m3 0h1m-285 1h1m1 0h1m0 0h1m0 0h1m0 0h1m0 0h1m2 0h1m0 0h1m1 0h1m0 0h1m0 0h1m0 0h1m1 0h1m238 0h1m1 0h1m1 0h1m2 0h1m2 0h1m0 0h1m0 0h1m1 0h1m0 0h1m0 0h1m0 0h1m0 0h1m1 0h1m0 0h1m0 0h1m0 0h1m0 0h1m1 0h1m0 0h1m1 0h1m-286 1h1m0 0h1m0 0h1m0 0h1m0 0h1m1 0h1m0 0h1m0 0h1m2 0h1m0 0h1m0 0h1m0 0h1m0 0h1m242 0h1m0 0h1m0 0h1m0 0h1m1 0h1m0 0h1m0 0h1m0 0h1m0 0h1m0 0h1m0 0h1m0 0h1m0 0h1m0 0h1m0 0h1m0 0h1m0 0h1m0 0h1m1 0h1m0 0h1m0 0h1m0 0h1m-283 1h1m0 0h1m0 0h1m0 0h1m0 0h1m1 0h1m1 0h1m0 0h1m0 0h1m0 0h1m0 0h1m0 0h1m0 0h1m0 0h1m245 0h1m1 0h1m0 0h1m0 0h1m0 0h1m0 0h1m0 0h1m1 0h1m0 0h1m3 0h1m0 0h1m0 0h1m0 0h1m1 0h1m0 0h1m0 0h1m1 0h1m0 0h1m-287 1h1m0 0h1m1 0h1m0 0h1m1 0h1m0 0h1m0 0h1m0 0h1m3 0h1m0 0h1m0 0h1m0 0h1m240 0h1m2 0h1m0 0h1m0 0h1m1 0h1m1 0h1m2 0h1m0 0h1m1 0h1m0 0h1m0 0h1m0 0h1m0 0h1m0 0h1m0 0h1m0 0h1m1 0h1m1 0h1m0 0h1m-284 1h1m0 0h1m2 0h1m0 0h1m0 0h1m0 0h1m0 0h1m0 0h1m0 0h1m0 0h1m0 0h1m0 0h1m1 0h1m0 0h1m239 0h1m4 0h1m2 0h1m0 0h1m0 0h1m0 0h1m0 0h1m0 0h1m0 0h1m0 0h1m0 0h1m0 0h1m0 0h1m0 0h1m1 0h1m0 0h1m0 0h1m0 0h1m1 0h1m0 0h1m2 0h1m-290 1h1m2 0h1m2 0h1m0 0h1m0 0h1m2 0h1m0 0h1m0 0h1m0 0h1m0 0h1m1 0h1m0 0h1m0 0h1m241 0h1m0 0h1m0 0h1m0 0h1m4 0h1m0 0h1m0 0h1m1 0h1m0 0h1m0 0h1m0 0h1m1 0h1m2 0h1m1 0h1m0 0h1m0 0h1m0 0h1m0 0h1m0 0h1m-284 1h1m0 0h1m0 0h1m0 0h1m0 0h1m2 0h1m0 0h1m0 0h1m1 0h1m248 0h1m0 0h1m0 0h1m0 0h1m3 0h1m0 0h1m0 0h1m0 0h1m0 0h1m0 0h1m0 0h1m0 0h1m1 0h1m0 0h1m0 0h1m0 0h1m1 0h1m-283 1h1m0 0h1m0 0h1m1 0h1m1 0h1m1 0h1m250 0h1m3 0h1m1 0h1m1 0h1m0 0h1m0 0h1m0 0h1m3 0h1m0 0h1m0 0h1m0 0h1m1 0h1m1 0h1m0 0h1m-286 1h1m0 0h1m1 0h1m0 0h1m1 0h1m0 0h1m0 0h1m3 0h1m0 0h1m1 0h1m0 0h1m0 0h1m242 0h1m3 0h1m0 0h1m0 0h1m0 0h1m0 0h1m1 0h1m2 0h1m0 0h1m0 0h1m0 0h1m0 0h1m1 0h1m1 0h1m0 0h1m0 0h1m4 0h1m-284 1h1m1 0h1m0 0h1m1 0h1m0 0h1m0 0h1m2 0h1m244 0h1m3 0h1m0 0h1m0 0h1m1 0h1m0 0h1m2 0h1m1 0h1m1 0h1m0 0h1m0 0h1m0 0h1m0 0h1m0 0h1m0 0h1m1 0h1m-283 1h1m0 0h1m1 0h1m0 0h1m0 0h1m1 0h1m2 0h1m248 0h1m1 0h1m0 0h1m0 0h1m1 0h1m1 0h1m1 0h1m0 0h1m0 0h1m4 0h1m0 0h1m0 0h1m0 0h1m0 0h1m0 0h1m2 0h1m-284 1h1m0 0h1m2 0h1m0 0h1m0 0h1m2 0h1m0 0h1m0 0h1m246 0h1m1 0h1m0 0h1m0 0h1m2 0h1m2 0h1m0 0h1m1 0h1m0 0h1m0 0h1m1 0h1m1 0h1m1 0h1m0 0h1m0 0h1m-285 1h1m0 0h1m0 0h1m1 0h1m1 0h1m0 0h1m0 0h1m3 0h1m3 0h1m243 0h1m1 0h1m0 0h1m1 0h1m1 0h1m0 0h1m0 0h1m0 0h1m0 0h1m0 0h1m1 0h1m0 0h1m0 0h1m3 0h1m0 0h1m1 0h1m1 0h1m1 0h1m-288 1h1m0 0h1m0 0h1m1 0h1m1 0h1m2 0h1m0 0h1m0 0h1m0 0h1m0 0h1m0 0h1m247 0h1m0 0h1m1 0h1m0 0h1m0 0h1m0 0h1m1 0h1m0 0h1m1 0h1m1 0h1m0 0h1m2 0h1m0 0h1m0 0h1m2 0h1m-285 1h1m1 0h1m0 0h1m0 0h1m0 0h1m0 0h1m0 0h1m0 0h1m0 0h1m1 0h1m1 0h1m0 0h1m246 0h1m3 0h1m0 0h1m0 0h1m1 0h1m0 0h1m0 0h1m0 0h1m1 0h1m0 0h1m0 0h1m3 0h1m0 0h1m0 0h1m0 0h1m-283 1h1m0 0h1m1 0h1m0 0h1m1 0h1m1 0h1m0 0h1m253 0h1m3 0h1m0 0h1m1 0h1m1 0h1m0 0h1m0 0h1m0 0h1m0 0h1m1 0h1m0 0h1m1 0h1m-282 1h1m0 0h1m0 0h1m0 0h1m0 0h1m0 0h1m0 0h1m1 0h1m1 0h1m0 0h1m255 0h1m0 0h1m0 0h1m1 0h1m0 0h1m0 0h1m2 0h1m0 0h1m0 0h1m0 0h1m0 0h1m0 0h1m-282 1h1m0 0h1m0 0h1m0 0h1m1 0h1m3 0h1m0 0h1m248 0h1m3 0h1m1 0h1m0 0h1m0 0h1m0 0h1m0 0h1m0 0h1m0 0h1m0 0h1m1 0h1m0 0h1m0 0h1m0 0h1m1 0h1m0 0h1m0 0h1m-282 1h1m0 0h1m2 0h1m0 0h1m2 0h1m251 0h1m0 0h1m1 0h1m0 0h1m1 0h1m1 0h1m0 0h1m0 0h1m0 0h1m0 0h1m0 0h1m0 0h1m3 0h1m0 0h1m2 0h1m-283 1h1m0 0h1m0 0h1m0 0h1m2 0h1m0 0h1m0 0h1m0 0h1m253 0h1m0 0h1m1 0h1m1 0h1m0 0h1m3 0h1m1 0h1m1 0h1m1 0h1m0 0h1m-282 1h1m1 0h1m2 0h1m0 0h1m0 0h1m1 0h1m0 0h1m255 0h1m2 0h1m0 0h1m0 0h1m0 0h1m0 0h1m0 0h1m0 0h1m0 0h1m1 0h1m1 0h1m-282 1h1m1 0h1m0 0h1m1 0h1m3 0h1m2 0h1m254 0h1m2 0h1m2 0h1m1 0h1m3 0h1m-277 1h1m2 0h1m0 0h1m0 0h1m0 0h1m258 0h1m7 0h1m1 0h1m-278 1h1m0 0h1m1 0h1m0 0h1m2 0h1m259 0h1m4 0h1m0 0h1m0 0h1m-275 1h1m2 0h1m0 0h1m0 0h1m1 0h1m263 0h1m1 0h1m-274 1h1m5 0h1m1 0h1m268 0h1m-275 1h1m-2 1h1m1 0h1m1 0h1" stroke="#b08a20" stroke-width="1" transform="translate(0,0.5)" fill="none"/>
<path d="M403 445h1m-24 1h1m11 0h1m9 1h1m7 0h1m-12 1h1m-1 1h1m1 0h1m0 0h1m0 0h1m1 0h1m-10 1h1m2 0h1m-17 1h1m3 0h1m8 0h1m0 0h1m8 0h1m-22 1h1m-7 1h1m3 0h1m1 0h1m2 0h1m6 0h1m12 0h1m220 0h1m-248 1h1m3 0h1m1 0h1m5 0h1m0 0h1m239 0h1m10 0h1m8 0h1m-279 1h1m4 0h1m5 0h1m1 0h1m4 0h1m1 0h1m0 0h1m256 0h1m7 0h1m5 0h1m-286 1h1m0 0h1m0 0h1m2 0h1m3 0h1m0 0h1m0 0h1m248 0h1m20 0h1m-283 1h1m0 0h1m1 0h1m0 0h1m6 0h1m0 0h1m0 0h1m1 0h1m3 0h1m221 0h1m-245 1h1m6 0h1m1 0h1m5 0h1m1 0h1m3 0h1m233 0h1m24 0h1m-279 1h1m1 0h1m0 0h1m5 0h1m2 0h1m1 0h1m1 0h1m1 0h1m223 0h1m7 0h1m13 0h1m-266 1h1m1 0h1m1 0h1m0 0h1m0 0h1m3 0h1m2 0h1m3 0h1m213 0h1m8 0h1m1 0h1m13 0h1m4 0h1m20 0h1m-285 1h1m4 0h1m1 0h1m1 0h1m0 0h1m1 0h1m0 0h1m0 0h1m1 0h1m3 0h1m9 0h1m241 0h1m11 0h1m-281 1h1m0 0h1m6 0h1m0 0h1m2 0h1m4 0h1m212 0h1m14 0h1m8 0h1m5 0h1m2 0h1m0 0h1m1 0h1m3 0h1m5 0h1m-280 1h1m3 0h1m1 0h1m2 0h1m0 0h1m0 0h1m0 0h1m0 0h1m0 0h1m2 0h1m11 0h1m210 0h1m17 0h1m1 0h1m0 0h1m2 0h1m5 0h1m0 0h1m-271 1h1m1 0h1m0 0h1m3 0h1m5 0h1m0 0h1m2 0h1m0 0h1m223 0h1m5 0h1m3 0h1m36 0h1m-289 1h1m0 0h1m4 0h1m1 0h1m0 0h1m2 0h1m224 0h1m0 0h1m1 0h1m1 0h1m4 0h1m8 0h1m4 0h1m4 0h1m1 0h1m9 0h1m-278 1h1m4 0h1m1 0h1m0 0h1m0 0h1m0 0h1m0 0h1m0 0h1m1 0h1m0 0h1m5 0h1m217 0h1m6 0h1m2 0h1m7 0h1m6 0h1m0 0h1m-272 1h1m5 0h1m0 0h1m0 0h1m3 0h1m0 0h1m0 0h1m2 0h1m0 0h1m0 0h1m0 0h1m213 0h1m10 0h1m6 0h1m6 0h1m7 0h1m-267 1h1m1 0h1m0 0h1m0 0h1m2 0h1m1 0h1m2 0h1m0 0h1m2 0h1m1 0h1m0 0h1m1 0h1m0 0h1m0 0h1m220 0h1m12 0h1m9 0h1m4 0h1m1 0h1m2 0h1m2 0h1m7 0h1m-290 1h1m1 0h1m1 0h1m0 0h1m1 0h1m0 0h1m1 0h1m1 0h1m1 0h1m0 0h1m0 0h1m1 0h1m227 0h1m3 0h1m0 0h1m5 0h1m13 0h1m3 0h1m14 0h1m-291 1h1m1 0h1m2 0h1m1 0h1m1 0h1m0 0h1m0 0h1m0 0h1m0 0h1m1 0h1m3 0h1m0 0h1m235 0h1m1 0h1m1 0h1m-257 1h1m0 0h1m3 0h1m0 0h1m1 0h1m0 0h1m2 0h1m2 0h1m2 0h1m223 0h1m4 0h1m4 0h1m0 0h1m10 0h1m0 0h1m-269 1h1m0 0h1m0 0h1m2 0h1m2 0h1m0 0h1m1 0h1m1 0h1m4 0h1m1 0h1m218 0h1m6 0h1m19 0h1m3 0h1m7 0h1m7 0h1m-289 1h1m9 0h1m1 0h1m0 0h1m1 0h1m1 0h1m231 0h1m13 0h1m2 0h1m1 0h1m0 0h1m12 0h1m5 0h1m0 0h1m-289 1h1m2 0h1m0 0h1m2 0h1m0 0h1m0 0h1m5 0h1m1 0h1m2 0h1m2 0h1m212 0h1m2 0h1m6 0h1m6 0h1m3 0h1m0 0h1m5 0h1m2 0h1m0 0h1m8 0h1m4 0h1m7 0h1m-292 1h1m2 0h1m6 0h1m1 0h1m6 0h1m11 0h1m206 0h1m11 0h1m7 0h1m6 0h1m8 0h1m2 0h1m-274 1h1m0 0h1m4 0h1m10 0h1m0 0h1m208 0h1m8 0h1m13 0h1m6 0h1m3 0h1m1 0h1m3 0h1m0 0h1m11 0h1m4 0h1m2 0h1m-288 1h1m0 0h1m4 0h1m1 0h1m0 0h1m1 0h1m0 0h1m0 0h1m0 0h1m3 0h1m239 0h1m0 0h1m1 0h1m4 0h1m2 0h1m5 0h1m9 0h1m-290 1h1m1 0h1m1 0h1m2 0h1m0 0h1m0 0h1m0 0h1m2 0h1m4 0h1m4 0h1m222 0h1m2 0h1m0 0h1m11 0h1m9 0h1m1 0h1m3 0h1m2 0h1m-279 1h1m0 0h1m1 0h1m1 0h1m2 0h1m6 0h1m3 0h1m208 0h1m4 0h1m3 0h1m3 0h1m13 0h1m6 0h1m0 0h1m2 0h1m7 0h1m1 0h1m1 0h1m2 0h1m1 0h1m-287 1h1m4 0h1m3 0h1m4 0h1m0 0h1m2 0h1m215 0h1m15 0h1m3 0h1m2 0h1m2 0h1m6 0h1m0 0h1m12 0h1m0 0h1m4 0h1m-289 1h1m5 0h1m0 0h1m0 0h1m3 0h1m0 0h1m0 0h1m4 0h1m6 0h1m0 0h1m227 0h1m4 0h1m0 0h1m0 0h1m6 0h1m5 0h1m1 0h1m6 0h1m9 0h1m-294 1h1m3 0h1m0 0h1m1 0h1m0 0h1m0 0h1m1 0h1m0 0h1m0 0h1m222 0h1m2 0h1m14 0h1m16 0h1m3 0h1m0 0h1m8 0h1m1 0h1m-286 1h1m1 0h1m0 0h1m2 0h1m0 0h1m0 0h1m2 0h1m0 0h1m15 0h1m209 0h1m3 0h1m9 0h1m3 0h1m6 0h1m2 0h1m1 0h1m3 0h1m3 0h1m2 0h1m-281 1h1m0 0h1m1 0h1m0 0h1m0 0h1m1 0h1m0 0h1m0 0h1m2 0h1m0 0h1m2 0h1m0 0h1m212 0h1m13 0h1m6 0h1m10 0h1m16 0h1m1 0h1m0 0h1m4 0h1m-287 1h1m1 0h1m1 0h1m0 0h1m1 0h1m0 0h1m1 0h1m3 0h1m1 0h1m211 0h1m18 0h1m4 0h1m3 0h1m10 0h1m4 0h1m3 0h1m1 0h1m-281 1h1m0 0h1m0 0h1m3 0h1m1 0h1m2 0h1m1 0h1m1 0h1m235 0h1m12 0h1m2 0h1m1 0h1m3 0h1m0 0h1m2 0h1m2 0h1m1 0h1m5 0h1m-289 1h1m2 0h1m0 0h1m1 0h1m0 0h1m0 0h1m0 0h1m0 0h1m0 0h1m0 0h1m2 0h1m6 0h1m0 0h1m215 0h1m3 0h1m9 0h1m3 0h1m1 0h1m1 0h1m7 0h1m9 0h1m3 0h1m0 0h1m2 0h1m-288 1h1m0 0h1m1 0h1m1 0h1m0 0h1m0 0h1m2 0h1m8 0h1m217 0h1m7 0h1m0 0h1m2 0h1m1 0h1m1 0h1m2 0h1m0 0h1m0 0h1m1 0h1m5 0h1m0 0h1m9 0h1m1 0h1m-278 1h1m4 0h1m3 0h1m0 0h1m1 0h1m0 0h1m218 0h1m5 0h1m8 0h1m6 0h1m1 0h1m3 0h1m0 0h1m10 0h1m0 0h1m13 0h1m-290 1h1m0 0h1m0 0h1m0 0h1m0 0h1m1 0h1m1 0h1m1 0h1m0 0h1m3 0h1m218 0h1m6 0h1m13 0h1m0 0h1m3 0h1m1 0h1m2 0h1m1 0h1m3 0h1m1 0h1m3 0h1m2 0h1m0 0h1m-285 1h1m4 0h1m0 0h1m2 0h1m1 0h1m0 0h1m0 0h1m229 0h1m5 0h1m10 0h1m7 0h1m2 0h1m5 0h1m0 0h1m4 0h1m10 0h1m-295 1h1m2 0h1m0 0h1m0 0h1m0 0h1m0 0h1m0 0h1m0 0h1m1 0h1m7 0h1m4 0h1m8 0h1m207 0h1m9 0h1m3 0h1m1 0h1m13 0h1m3 0h1m4 0h1m0 0h1m7 0h1m2 0h1m-292 1h1m0 0h1m1 0h1m0 0h1m2 0h1m0 0h1m0 0h1m0 0h1m3 0h1m1 0h1m221 0h1m8 0h1m3 0h1m24 0h1m-274 1h1m0 0h1m0 0h1m0 0h1m0 0h1m1 0h1m0 0h1m1 0h1m0 0h1m2 0h1m231 0h1m9 0h1m1 0h1m1 0h1m11 0h1m3 0h1m11 0h1m-290 1h1m2 0h1m0 0h1m0 0h1m0 0h1m0 0h1m1 0h1m0 0h1m0 0h1m0 0h1m0 0h1m232 0h1m3 0h1m4 0h1m11 0h1m3 0h1m0 0h1m0 0h1m4 0h1m3 0h1m-279 1h1m0 0h1m1 0h1m3 0h1m1 0h1m1 0h1m11 0h1m230 0h1m6 0h1m2 0h1m9 0h1m1 0h1m2 0h1m8 0h1m-290 1h1m2 0h1m2 0h1m2 0h1m242 0h1m4 0h1m0 0h1m7 0h1m5 0h1m3 0h1m0 0h1m0 0h1m4 0h1m-290 1h1m2 0h1m0 0h1m0 0h1m1 0h1m2 0h1m0 0h1m0 0h1m0 0h1m5 0h1m8 0h1m240 0h1m0 0h1m0 0h1m5 0h1m1 0h1m6 0h1m6 0h1m-290 1h1m0 0h1m0 0h1m1 0h1m0 0h1m6 0h1m2 0h1m238 0h1m5 0h1m4 0h1m0 0h1m7 0h1m1 0h1m-278 1h1m1 0h1m1 0h1m0 0h1m1 0h1m3 0h1m225 0h1m9 0h1m4 0h1m1 0h1m13 0h1m1 0h1m1 0h1m9 0h1m-285 1h1m1 0h1m0 0h1m1 0h1m0 0h1m2 0h1m0 0h1m231 0h1m5 0h1m1 0h1m2 0h1m20 0h1m0 0h1m9 0h1m-284 1h1m0 0h1m1 0h1m1 0h1m2 0h1m245 0h1m4 0h1m1 0h1m0 0h1m5 0h1m1 0h1m-268 1h1m4 0h1m0 0h1m0 0h1m1 0h1m19 0h1m216 0h1m17 0h1m1 0h1m10 0h1m-280 1h1m1 0h1m0 0h1m1 0h1m2 0h1m4 0h1m241 0h1m10 0h1m15 0h1m1 0h1m-286 1h1m0 0h1m2 0h1m8 0h1m1 0h1m235 0h1m5 0h1m2 0h1m10 0h1m12 0h1m-284 1h1m2 0h1m0 0h1m1 0h1m5 0h1m5 0h1m244 0h1m8 0h1m-273 1h1m0 0h1m2 0h1m7 0h1m227 0h1m1 0h1m6 0h1m7 0h1m15 0h1m1 0h1m4 0h1m6 0h1m1 0h1m-290 1h1m0 0h1m0 0h1m1 0h1m9 0h1m223 0h1m5 0h1m7 0h1m27 0h1m-279 1h1m2 0h1m6 0h1m2 0h1m231 0h1m0 0h1m17 0h1m0 0h1m14 0h1m-279 1h1m8 0h1m229 0h1m9 0h1m18 0h1m0 0h1m1 0h1m5 0h1m-282 1h1m1 0h1m8 0h1m236 0h1m14 0h1m-263 1h1m0 0h1m0 0h1m3 0h1m240 0h1m3 0h1m1 0h1m15 0h1m2 0h1m4 0h1m13 0h1m-267 1h1m207 0h1m4 0h1m12 0h1m2 0h1m6 0h1m-263 1h1m1 0h1m17 0h1m226 0h1m30 0h1m5 0h1m-286 1h1m265 0h1m-254 1h1m264 0h1m-272 1h1m4 0h1m249 0h1m14 0h1m-33 1h1m6 0h1m10 0h1m1 0h1m9 0h1m2 0h1m-274 1h1m248 0h1m0 0h1m28 0h1m1 0h1m-276 1h1m244 0h1m-253 1h1m260 0h1m13 0h1m1 0h1m2 0h1m5 0h1m-32 1h1m4 0h1m1 0h1m12 0h1m-39 2h1m9 0h1m15 0h1m1 0h1m12 1h1" stroke="#d8bc58" stroke-width="1" transform="translate(0,0.5)" fill="none"/>
<path d="M650 449h1m6 0h1m0 0h1m1 0h1m-13 1h1m9 0h1m1 0h1m1 0h1m0 0h1m0 0h1m-24 1h1m4 0h1m3 0h1m8 0h1m1 0h1m0 0h1m2 0h1m-24 1h1m1 0h1m1 0h1m2 0h1m0 0h1m2 0h1m1 0h1m1 0h1m1 0h1m0 0h1m0 0h1m0 0h1m0 0h1m0 0h1m0 0h1m-25 1h1m0 0h1m0 0h1m0 0h1m0 0h1m0 0h1m1 0h1m0 0h1m0 0h1m0 0h1m0 0h1m0 0h1m3 0h1m0 0h1m1 0h1m0 0h1m0 0h1m0 0h1m0 0h1m2 0h1m-31 1h1m2 0h1m0 0h1m1 0h1m0 0h1m0 0h1m0 0h1m0 0h1m0 0h1m0 0h1m0 0h1m0 0h1m0 0h1m0 0h1m2 0h1m0 0h1m1 0h1m0 0h1m0 0h1m0 0h1m0 0h1m0 0h1m0 0h1m0 0h1m0 0h1m0 0h1m-30 1h1m0 0h1m0 0h1m1 0h1m0 0h1m0 0h1m0 0h1m2 0h1m0 0h1m1 0h1m0 0h1m1 0h1m1 0h1m1 0h1m0 0h1m0 0h1m0 0h1m0 0h1m1 0h1m0 0h1m0 0h1m-31 1h1m0 0h1m2 0h1m0 0h1m0 0h1m0 0h1m0 0h1m0 0h1m0 0h1m1 0h1m0 0h1m0 0h1m0 0h1m0 0h1m0 0h1m0 0h1m2 0h1m0 0h1m1 0h1m1 0h1m0 0h1m-22 1h1m0 0h1m1 0h1m0 0h1m1 0h1m0 0h1m0 0h1m0 0h1m0 0h1m0 0h1m0 0h1m0 0h1m0 0h1m2 0h1m0 0h1m0 0h1m1 0h1m0 0h1m1 0h1m0 0h1m-32 1h1m1 0h1m0 0h1m0 0h1m0 0h1m0 0h1m0 0h1m1 0h1m1 0h1m0 0h1m0 0h1m1 0h1m0 0h1m0 0h1m1 0h1m0 0h1m0 0h1m0 0h1m0 0h1m0 0h1m0 0h1m0 0h1m0 0h1m2 0h1m1 0h1m-34 1h1m0 0h1m2 0h1m0 0h1m1 0h1m0 0h1m1 0h1m1 0h1m0 0h1m0 0h1m1 0h1m0 0h1m0 0h1m0 0h1m0 0h1m0 0h1m2 0h1m0 0h1m0 0h1m0 0h1m0 0h1m2 0h1m0 0h1m-31 1h1m2 0h1m0 0h1m1 0h1m0 0h1m0 0h1m0 0h1m0 0h1m0 0h1m1 0h1m3 0h1m0 0h1m0 0h1m2 0h1m0 0h1m2 0h1m0 0h1m0 0h1m0 0h1m1 0h1m-32 1h1m0 0h1m0 0h1m0 0h1m0 0h1m0 0h1m0 0h1m0 0h1m0 0h1m0 0h1m0 0h1m0 0h1m0 0h1m0 0h1m0 0h1m0 0h1m0 0h1m0 0h1m0 0h1m0 0h1m0 0h1m0 0h1m0 0h1m0 0h1m0 0h1m0 0h1m0 0h1m0 0h1m0 0h1m-31 1h1m1 0h1m0 0h1m0 0h1m0 0h1m0 0h1m1 0h1m1 0h1m1 0h1m0 0h1m0 0h1m0 0h1m0 0h1m0 0h1m1 0h1m0 0h1m0 0h1m0 0h1m0 0h1m0 0h1m1 0h1m0 0h1m0 0h1m0 0h1m0 0h1m0 0h1m0 0h1m-35 1h1m2 0h1m0 0h1m1 0h1m0 0h1m0 0h1m0 0h1m0 0h1m3 0h1m0 0h1m1 0h1m0 0h1m0 0h1m0 0h1m0 0h1m1 0h1m0 0h1m0 0h1m0 0h1m0 0h1m0 0h1m0 0h1m0 0h1m0 0h1m0 0h1m-33 1h1m0 0h1m1 0h1m0 0h1m0 0h1m0 0h1m0 0h1m0 0h1m0 0h1m0 0h1m0 0h1m0 0h1m1 0h1m0 0h1m2 0h1m0 0h1m1 0h1m0 0h1m0 0h1m0 0h1m0 0h1m1 0h1m0 0h1m0 0h1m0 0h1m0 0h1m2 0h1m0 0h1m-37 1h1m0 0h1m1 0h1m0 0h1m0 0h1m0 0h1m0 0h1m0 0h1m0 0h1m0 0h1m1 0h1m1 0h1m0 0h1m0 0h1m0 0h1m0 0h1m0 0h1m0 0h1m0 0h1m0 0h1m0 0h1m0 0h1m0 0h1m0 0h1m0 0h1m1 0h1m0 0h1m2 0h1m0 0h1m-36 1h1m2 0h1m1 0h1m3 0h1m1 0h1m0 0h1m0 0h1m0 0h1m0 0h1m0 0h1m0 0h1m0 0h1m0 0h1m1 0h1m0 0h1m0 0h1m2 0h1m0 0h1m0 0h1m0 0h1m0 0h1m0 0h1m0 0h1m3 0h1m0 0h1m1 0h1m0 0h1m-41 1h1m0 0h1m0 0h1m0 0h1m0 0h1m0 0h1m0 0h1m0 0h1m1 0h1m0 0h1m2 0h1m1 0h1m0 0h1m0 0h1m1 0h1m0 0h1m0 0h1m0 0h1m0 0h1m0 0h1m0 0h1m0 0h1m0 0h1m2 0h1m0 0h1m0 0h1m1 0h1m0 0h1m-38 1h1m0 0h1m2 0h1m2 0h1m0 0h1m0 0h1m0 0h1m0 0h1m0 0h1m0 0h1m0 0h1m0 0h1m0 0h1m0 0h1m0 0h1m0 0h1m0 0h1m0 0h1m0 0h1m1 0h1m0 0h1m0 0h1m1 0h1m0 0h1m1 0h1m1 0h1m0 0h1m1 0h1m0 0h1m-37 1h1m0 0h1m3 0h1m0 0h1m0 0h1m1 0h1m0 0h1m0 0h1m0 0h1m0 0h1m0 0h1m0 0h1m1 0h1m0 0h1m0 0h1m0 0h1m0 0h1m0 0h1m0 0h1m1 0h1m0 0h1m0 0h1m0 0h1m0 0h1m0 0h1m0 0h1m0 0h1m0 0h1m0 0h1m1 0h1m0 0h1m0 0h1m-39 1h1m0 0h1m0 0h1m0 0h1m0 0h1m1 0h1m0 0h1m3 0h1m0 0h1m0 0h1m0 0h1m0 0h1m0 0h1m0 0h1m2 0h1m0 0h1m0 0h1m0 0h1m0 0h1m0 0h1m0 0h1m0 0h1m0 0h1m0 0h1m0 0h1m0 0h1m0 0h1m0 0h1m0 0h1m0 0h1m2 0h1m-38 1h1m0 0h1m0 0h1m0 0h1m0 0h1m0 0h1m0 0h1m0 0h1m0 0h1m0 0h1m1 0h1m2 0h1m0 0h1m0 0h1m0 0h1m1 0h1m0 0h1m0 0h1m0 0h1m0 0h1m0 0h1m0 0h1m0 0h1m0 0h1m0 0h1m2 0h1m0 0h1m0 0h1m1 0h1m0 0h1m-38 1h1m1 0h1m0 0h1m2 0h1m0 0h1m1 0h1m0 0h1m0 0h1m0 0h1m0 0h1m0 0h1m0 0h1m2 0h1m0 0h1m0 0h1m0 0h1m3 0h1m0 0h1m0 0h1m0 0h1m1 0h1m1 0h1m0 0h1m0 0h1m0 0h1m0 0h1m0 0h1m0 0h1m-39 1h1m0 0h1m0 0h1m0 0h1m0 0h1m0 0h1m0 0h1m1 0h1m0 0h1m2 0h1m1 0h1m1 0h1m0 0h1m1 0h1m0 0h1m0 0h1m0 0h1m0 0h1m0 0h1m1 0h1m0 0h1m0 0h1m1 0h1m0 0h1m0 0h1m1 0h1m0 0h1m-34 1h1m0 0h1m0 0h1m1 0h1m0 0h1m0 0h1m0 0h1m0 0h1m0 0h1m0 0h1m0 0h1m0 0h1m0 0h1m0 0h1m0 0h1m0 0h1m0 0h1m0 0h1m0 0h1m0 0h1m0 0h1m0 0h1m0 0h1m1 0h1m0 0h1m2 0h1m0 0h1m0 0h1m0 0h1m0 0h1m-34 1h1m1 0h1m1 0h1m1 0h1m0 0h1m0 0h1m0 0h1m0 0h1m0 0h1m0 0h1m0 0h1m1 0h1m2 0h1m0 0h1m0 0h1m0 0h1m0 0h1m0 0h1m0 0h1m0 0h1m0 0h1m0 0h1m0 0h1m0 0h1m0 0h1m0 0h1m0 0h1m0 0h1m0 0h1m0 0h1m-41 1h1m3 0h1m3 0h1m0 0h1m1 0h1m0 0h1m0 0h1m0 0h1m0 0h1m1 0h1m0 0h1m2 0h1m0 0h1m0 0h1m1 0h1m0 0h1m0 0h1m1 0h1m0 0h1m0 0h1m1 0h1m2 0h1m0 0h1m1 0h1m-36 1h1m0 0h1m1 0h1m0 0h1m0 0h1m0 0h1m0 0h1m0 0h1m1 0h1m0 0h1m0 0h1m0 0h1m0 0h1m0 0h1m1 0h1m0 0h1m0 0h1m0 0h1m0 0h1m0 0h1m0 0h1m0 0h1m0 0h1m0 0h1m0 0h1m0 0h1m0 0h1m0 0h1m0 0h1m0 0h1m1 0h1m-35 1h1m0 0h1m2 0h1m2 0h1m1 0h1m0 0h1m0 0h1m0 0h1m0 0h1m1 0h1m0 0h1m0 0h1m0 0h1m0 0h1m0 0h1m0 0h1m0 0h1m1 0h1m0 0h1m0 0h1m0 0h1m0 0h1m0 0h1m4 0h1m0 0h1m-37 1h1m1 0h1m3 0h1m0 0h1m0 0h1m0 0h1m0 0h1m1 0h1m0 0h1m0 0h1m0 0h1m2 0h1m0 0h1m0 0h1m0 0h1m0 0h1m0 0h1m0 0h1m0 0h1m0 0h1m0 0h1m0 0h1m0 0h1m2 0h1m1 0h1m0 0h1m1 0h1m-38 1h1m0 0h1m0 0h1m0 0h1m0 0h1m0 0h1m0 0h1m0 0h1m2 0h1m1 0h1m0 0h1m1 0h1m0 0h1m2 0h1m1 0h1m0 0h1m0 0h1m0 0h1m0 0h1m0 0h1m0 0h1m0 0h1m0 0h1m1 0h1m0 0h1m0 0h1m-35 1h1m1 0h1m1 0h1m1 0h1m0 0h1m0 0h1m1 0h1m0 0h1m0 0h1m0 0h1m0 0h1m0 0h1m0 0h1m0 0h1m0 0h1m0 0h1m1 0h1m0 0h1m0 0h1m0 0h1m0 0h1m0 0h1m0 0h1m0 0h1m0 0h1m0 0h1m0 0h1m0 0h1m0 0h1m2 0h1m-35 1h1m0 0h1m1 0h1m0 0h1m3 0h1m1 0h1m2 0h1m0 0h1m0 0h1m0 0h1m0 0h1m0 0h1m1 0h1m1 0h1m0 0h1m0 0h1m0 0h1m0 0h1m0 0h1m0 0h1m0 0h1m0 0h1m0 0h1m2 0h1m-39 1h1m2 0h1m0 0h1m0 0h1m1 0h1m0 0h1m0 0h1m1 0h1m0 0h1m1 0h1m0 0h1m0 0h1m0 0h1m0 0h1m0 0h1m1 0h1m0 0h1m0 0h1m0 0h1m0 0h1m0 0h1m0 0h1m0 0h1m0 0h1m0 0h1m0 0h1m0 0h1m0 0h1m0 0h1m0 0h1m0 0h1m-34 1h1m0 0h1m1 0h1m0 0h1m0 0h1m0 0h1m0 0h1m0 0h1m0 0h1m0 0h1m0 0h1m0 0h1m0 0h1m0 0h1m0 0h1m0 0h1m0 0h1m2 0h1m0 0h1m0 0h1m0 0h1m0 0h1m0 0h1m0 0h1m0 0h1m0 0h1m0 0h1m1 0h1m0 0h1m0 0h1m0 0h1m-33 1h1m0 0h1m0 0h1m0 0h1m0 0h1m0 0h1m0 0h1m0 0h1m0 0h1m0 0h1m2 0h1m0 0h1m0 0h1m0 0h1m0 0h1m0 0h1m1 0h1m0 0h1m0 0h1m1 0h1m0 0h1m0 0h1m0 0h1m0 0h1m0 0h1m0 0h1m0 0h1m1 0h1m1 0h1m-40 1h1m3 0h1m0 0h1m1 0h1m0 0h1m0 0h1m0 0h1m1 0h1m0 0h1m0 0h1m0 0h1m0 0h1m0 0h1m0 0h1m0 0h1m1 0h1m0 0h1m0 0h1m0 0h1m0 0h1m0 0h1m1 0h1m0 0h1m0 0h1m0 0h1m1 0h1m0 0h1m0 0h1m-33 1h1m0 0h1m0 0h1m0 0h1m0 0h1m0 0h1m0 0h1m0 0h1m0 0h1m1 0h1m0 0h1m1 0h1m0 0h1m0 0h1m0 0h1m0 0h1m0 0h1m1 0h1m0 0h1m0 0h1m0 0h1m0 0h1m0 0h1m0 0h1m0 0h1m0 0h1m1 0h1m0 0h1m0 0h1m5 0h1m-38 1h1m0 0h1m0 0h1m0 0h1m0 0h1m0 0h1m0 0h1m1 0h1m0 0h1m2 0h1m0 0h1m0 0h1m1 0h1m1 0h1m0 0h1m1 0h1m0 0h1m0 0h1m0 0h1m0 0h1m0 0h1m0 0h1m1 0h1m0 0h1m1 0h1m-33 1h1m0 0h1m1 0h1m0 0h1m0 0h1m0 0h1m0 0h1m0 0h1m0 0h1m0 0h1m0 0h1m0 0h1m0 0h1m2 0h1m1 0h1m0 0h1m0 0h1m0 0h1m0 0h1m1 0h1m0 0h1m0 0h1m0 0h1m2 0h1m0 0h1m0 0h1m-30 1h1m0 0h1m2 0h1m0 0h1m0 0h1m1 0h1m0 0h1m0 0h1m0 0h1m0 0h1m0 0h1m0 0h1m1 0h1m0 0h1m0 0h1m1 0h1m0 0h1m0 0h1m0 0h1m0 0h1m0 0h1m0 0h1m0 0h1m4 0h1m-37 1h1m0 0h1m0 0h1m0 0h1m0 0h1m1 0h1m0 0h1m0 0h1m1 0h1m0 0h1m0 0h1m0 0h1m0 0h1m0 0h1m0 0h1m0 0h1m0 0h1m0 0h1m0 0h1m0 0h1m0 0h1m0 0h1m1 0h1m0 0h1m0 0h1m0 0h1m0 0h1m0 0h1m1 0h1m2 0h1m-36 1h1m2 0h1m0 0h1m0 0h1m0 0h1m0 0h1m0 0h1m0 0h1m0 0h1m0 0h1m0 0h1m0 0h1m0 0h1m0 0h1m2 0h1m0 0h1m0 0h1m0 0h1m1 0h1m1 0h1m0 0h1m0 0h1m2 0h1m0 0h1m0 0h1m1 0h1m0 0h1m-34 1h1m0 0h1m0 0h1m0 0h1m1 0h1m0 0h1m0 0h1m0 0h1m0 0h1m0 0h1m0 0h1m0 0h1m2 0h1m0 0h1m0 0h1m0 0h1m0 0h1m0 0h1m0 0h1m0 0h1m0 0h1m0 0h1m0 0h1m0 0h1m0 0h1m0 0h1m1 0h1m0 0h1m-35 1h1m0 0h1m1 0h1m0 0h1m0 0h1m0 0h1m0 0h1m0 0h1m0 0h1m0 0h1m0 0h1m1 0h1m0 0h1m0 0h1m2 0h1m0 0h1m0 0h1m0 0h1m0 0h1m1 0h1m0 0h1m1 0h1m0 0h1m1 0h1m0 0h1m0 0h1m0 0h1m-32 1h1m0 0h1m1 0h1m0 0h1m0 0h1m0 0h1m1 0h1m0 0h1m0 0h1m1 0h1m0 0h1m0 0h1m0 0h1m0 0h1m0 0h1m2 0h1m0 0h1m0 0h1m0 0h1m0 0h1m0 0h1m0 0h1m0 0h1m0 0h1m0 0h1m0 0h1m0 0h1m0 0h1m-33 1h1m2 0h1m0 0h1m0 0h1m0 0h1m0 0h1m0 0h1m0 0h1m0 0h1m0 0h1m1 0h1m1 0h1m1 0h1m0 0h1m1 0h1m0 0h1m0 0h1m1 0h1m0 0h1m0 0h1m2 0h1m0 0h1m0 0h1m0 0h1m-33 1h1m1 0h1m0 0h1m0 0h1m0 0h1m1 0h1m0 0h1m0 0h1m1 0h1m0 0h1m0 0h1m0 0h1m0 0h1m0 0h1m0 0h1m0 0h1m0 0h1m0 0h1m2 0h1m0 0h1m0 0h1m0 0h1m0 0h1m0 0h1m0 0h1m0 0h1m0 0h1m1 0h1m-34 1h1m1 0h1m0 0h1m0 0h1m0 0h1m0 0h1m0 0h1m1 0h1m0 0h1m0 0h1m0 0h1m0 0h1m1 0h1m1 0h1m0 0h1m0 0h1m0 0h1m1 0h1m0 0h1m0 0h1m2 0h1m1 0h1m0 0h1m1 0h1m-32 1h1m0 0h1m0 0h1m2 0h1m0 0h1m0 0h1m0 0h1m0 0h1m0 0h1m2 0h1m0 0h1m0 0h1m0 0h1m0 0h1m1 0h1m0 0h1m0 0h1m0 0h1m0 0h1m0 0h1m0 0h1m0 0h1m3 0h1m-32 1h1m3 0h1m0 0h1m0 0h1m0 0h1m0 0h1m0 0h1m0 0h1m0 0h1m1 0h1m0 0h1m0 0h1m0 0h1m0 0h1m0 0h1m0 0h1m0 0h1m1 0h1m0 0h1m1 0h1m0 0h1m3 0h1m1 0h1m-33 1h1m1 0h1m0 0h1m0 0h1m4 0h1m1 0h1m0 0h1m1 0h1m0 0h1m0 0h1m0 0h1m0 0h1m1 0h1m0 0h1m1 0h1m0 0h1m0 0h1m1 0h1m0 0h1m-28 1h1m1 0h1m1 0h1m0 0h1m0 0h1m0 0h1m0 0h1m0 0h1m1 0h1m0 0h1m0 0h1m0 0h1m0 0h1m0 0h1m1 0h1m1 0h1m1 0h1m0 0h1m1 0h1m0 0h1m0 0h1m0 0h1m-28 1h1m0 0h1m0 0h1m1 0h1m0 0h1m1 0h1m0 0h1m0 0h1m0 0h1m0 0h1m0 0h1m1 0h1m0 0h1m0 0h1m0 0h1m0 0h1m1 0h1m3 0h1m0 0h1m0 0h1m0 0h1m-27 1h1m1 0h1m0 0h1m0 0h1m0 0h1m0 0h1m0 0h1m0 0h1m0 0h1m0 0h1m0 0h1m1 0h1m2 0h1m0 0h1m0 0h1m1 0h1m2 0h1m0 0h1m-24 1h1m1 0h1m0 0h1m0 0h1m0 0h1m1 0h1m0 0h1m1 0h1m1 0h1m0 0h1m0 0h1m1 0h1m0 0h1m5 0h1m0 0h1m-29 1h1m5 0h1m0 0h1m0 0h1m0 0h1m0 0h1m1 0h1m5 0h1m0 0h1m0 0h1m0 0h1m0 0h1m1 0h1m0 0h1m0 0h1m-24 1h1m0 0h1m0 0h1m1 0h1m0 0h1m2 0h1m0 0h1m0 0h1m0 0h1m0 0h1m0 0h1m0 0h1m0 0h1m0 0h1m0 0h1m1 0h1m4 0h1m0 0h1m-25 1h1m1 0h1m0 0h1m0 0h1m0 0h1m0 0h1m0 0h1m2 0h1m0 0h1m0 0h1m1 0h1m1 0h1m0 0h1m0 0h1m0 0h1m3 0h1m-25 1h1m0 0h1m0 0h1m0 0h1m0 0h1m1 0h1m0 0h1m1 0h1m0 0h1m0 0h1m0 0h1m0 0h1m0 0h1m0 0h1m0 0h1m1 0h1m2 0h1m-20 1h1m2 0h1m2 0h1m0 0h1m1 0h1m1 0h1m1 0h1m0 0h1m0 0h1m-16 1h1m1 0h1m1 0h1m2 0h1m2 0h1m1 0h1m0 0h1m-12 1h1m3 0h1m1 0h1m2 0h1m1 0h1m-12 1h1m4 0h1m1 0h1m-6 2h1" stroke="#c49c1e" stroke-width="1" transform="translate(0,0.5)" fill="none"/>
<path d="M602 458h1m-4 8h1m-2 2h1m-9 4h1m6 1h1m-7 3h1m7 0h1m-11 2h1m12 1h1m-16 1h1m6 1h1m-11 2h1m4 0h1m0 0h1m6 0h1m-6 1h1m10 0h1m0 0h1m-13 1h1m11 0h1m-21 1h1m9 0h1m3 0h1m4 0h1m-13 1h1m4 0h1m-1 1h1m-10 1h1m10 0h1m-9 1h1m1 1h1m-8 1h1m11 0h1m0 1h1m2 0h1m-19 1h1m15 0h1m-9 1h1m5 0h1m-6 1h1m2 0h1m1 0h1m-11 2h1m2 1h1m1 0h1m3 0h1m2 0h1m-4 1h1m1 0h1m-20 1h1m8 0h1m7 1h1m-8 1h1m4 0h1m-3 1h1m9 0h1m-15 1h1m1 0h1m0 0h1m6 0h1m5 0h1m-11 1h1m-3 1h1m0 1h1m-1 2h1m3 0h1m3 0h1m-5 1h1m2 0h1m-14 1h1m2 0h1m3 0h1m6 1h1m1 0h1m-17 1h1m6 1h1m-3 1h1m-14 1h1m16 1h1m-8 1h1m12 0h1m-12 3h1m-2 2h1" stroke="#8888e8" stroke-width="1" transform="translate(0,0.5)" fill="none"/>
<path d="M346.6 72.5 L354.8 71.4 L358.3 73.7 L358.9 78.4 L356.0 90.0 L352.4 101.8 L348.9 111.0 L345.4 115.8 L340.7 116.4 L339.8 101.8 L341.9 90.0 L343.7 78.4 L344.8 74.3Z" fill="#0000f0"/>
<path d="M589.0 78.1 L600.1 72.5 L612.1 67.2 L614.5 69.6 L611.6 79.8 L607.2 90.3 L598.7 101.3 L587.7 104.9 L579.2 98.8 L579.2 92.8 L586.6 81.8Z" fill="#0000f0"/></g>
<text x="20" y="17.8" font-size="21" font-weight="bold" stroke="#111" stroke-width="0.35" fill="#111" text-anchor="start">a</text>
<rect x="35" y="41" width="180" height="167" fill="none" stroke="#505050" stroke-width="1.5"/>
<line x1="63" y1="56" x2="210" y2="56" stroke="#6a6a6a" stroke-width="1.3"/>
<line x1="210" y1="56" x2="210" y2="181" stroke="#6a6a6a" stroke-width="1.3"/>
<line x1="63" y1="56" x2="63" y2="181.5" stroke="#3a3a3a" stroke-width="1.2"/>
<line x1="60" y1="176.2" x2="63" y2="176.2" stroke="#3a3a3a" stroke-width="1"/>
<line x1="60" y1="171.4" x2="63" y2="171.4" stroke="#3a3a3a" stroke-width="1"/>
<line x1="60" y1="166.6" x2="63" y2="166.6" stroke="#3a3a3a" stroke-width="1"/>
<line x1="60" y1="161.8" x2="63" y2="161.8" stroke="#3a3a3a" stroke-width="1"/>
<line x1="58.5" y1="157.0" x2="63" y2="157.0" stroke="#3a3a3a" stroke-width="1"/>
<text transform="translate(57,157.0) rotate(-90)" font-size="6.5" fill="#3e3e3e" text-anchor="middle">50</text>
<line x1="60" y1="152.2" x2="63" y2="152.2" stroke="#3a3a3a" stroke-width="1"/>
<line x1="60" y1="147.4" x2="63" y2="147.4" stroke="#3a3a3a" stroke-width="1"/>
<line x1="60" y1="142.6" x2="63" y2="142.6" stroke="#3a3a3a" stroke-width="1"/>
<line x1="60" y1="137.8" x2="63" y2="137.8" stroke="#3a3a3a" stroke-width="1"/>
<line x1="58.5" y1="133.0" x2="63" y2="133.0" stroke="#3a3a3a" stroke-width="1"/>
<text transform="translate(57,133.0) rotate(-90)" font-size="6.5" fill="#3e3e3e" text-anchor="middle">100</text>
<line x1="60" y1="128.2" x2="63" y2="128.2" stroke="#3a3a3a" stroke-width="1"/>
<line x1="60" y1="123.4" x2="63" y2="123.4" stroke="#3a3a3a" stroke-width="1"/>
<line x1="60" y1="118.6" x2="63" y2="118.6" stroke="#3a3a3a" stroke-width="1"/>
<line x1="60" y1="113.8" x2="63" y2="113.8" stroke="#3a3a3a" stroke-width="1"/>
<line x1="58.5" y1="109.0" x2="63" y2="109.0" stroke="#3a3a3a" stroke-width="1"/>
<text transform="translate(57,109.0) rotate(-90)" font-size="6.5" fill="#3e3e3e" text-anchor="middle">150</text>
<line x1="60" y1="104.2" x2="63" y2="104.2" stroke="#3a3a3a" stroke-width="1"/>
<line x1="60" y1="99.4" x2="63" y2="99.4" stroke="#3a3a3a" stroke-width="1"/>
<line x1="60" y1="94.60000000000001" x2="63" y2="94.60000000000001" stroke="#3a3a3a" stroke-width="1"/>
<line x1="60" y1="89.8" x2="63" y2="89.8" stroke="#3a3a3a" stroke-width="1"/>
<line x1="58.5" y1="85.0" x2="63" y2="85.0" stroke="#3a3a3a" stroke-width="1"/>
<text transform="translate(57,85.0) rotate(-90)" font-size="6.5" fill="#3e3e3e" text-anchor="middle">200</text>
<line x1="60" y1="80.2" x2="63" y2="80.2" stroke="#3a3a3a" stroke-width="1"/>
<line x1="60" y1="75.4" x2="63" y2="75.4" stroke="#3a3a3a" stroke-width="1"/>
<line x1="60" y1="70.60000000000001" x2="63" y2="70.60000000000001" stroke="#3a3a3a" stroke-width="1"/>
<line x1="60" y1="65.80000000000001" x2="63" y2="65.80000000000001" stroke="#3a3a3a" stroke-width="1"/>
<line x1="58.5" y1="61.0" x2="63" y2="61.0" stroke="#3a3a3a" stroke-width="1"/>
<text transform="translate(57,61.0) rotate(-90)" font-size="6.5" fill="#3e3e3e" text-anchor="middle">250</text>
<line x1="60" y1="56.2" x2="63" y2="56.2" stroke="#3a3a3a" stroke-width="1"/>
<line x1="62.5" y1="181" x2="210" y2="181" stroke="#3a3a3a" stroke-width="1.2"/>
<line x1="65.65348642462752" y1="181" x2="65.65348642462752" y2="184" stroke="#3a3a3a" stroke-width="1"/>
<line x1="70.27621967913461" y1="181" x2="70.27621967913461" y2="184" stroke="#3a3a3a" stroke-width="1"/>
<line x1="73.8618901604327" y1="181" x2="73.8618901604327" y2="184" stroke="#3a3a3a" stroke-width="1"/>
<line x1="76.79159626419481" y1="181" x2="76.79159626419481" y2="184" stroke="#3a3a3a" stroke-width="1"/>
<line x1="79.2686274805275" y1="181" x2="79.2686274805275" y2="184" stroke="#3a3a3a" stroke-width="1"/>
<line x1="81.4143295187019" y1="181" x2="81.4143295187019" y2="184" stroke="#3a3a3a" stroke-width="1"/>
<line x1="83.30697284925502" y1="181" x2="83.30697284925502" y2="184" stroke="#3a3a3a" stroke-width="1"/>
<line x1="85.0" y1="181" x2="85.0" y2="185.5" stroke="#3a3a3a" stroke-width="1"/>
<line x1="96.1381098395673" y1="181" x2="96.1381098395673" y2="184" stroke="#3a3a3a" stroke-width="1"/>
<line x1="102.65348642462752" y1="181" x2="102.65348642462752" y2="184" stroke="#3a3a3a" stroke-width="1"/>
<line x1="107.27621967913461" y1="181" x2="107.27621967913461" y2="184" stroke="#3a3a3a" stroke-width="1"/>
<line x1="110.8618901604327" y1="181" x2="110.8618901604327" y2="184" stroke="#3a3a3a" stroke-width="1"/>
<line x1="113.79159626419482" y1="181" x2="113.79159626419482" y2="184" stroke="#3a3a3a" stroke-width="1"/>
<line x1="116.2686274805275" y1="181" x2="116.2686274805275" y2="184" stroke="#3a3a3a" stroke-width="1"/>
<line x1="118.41432951870192" y1="181" x2="118.41432951870192" y2="184" stroke="#3a3a3a" stroke-width="1"/>
<line x1="120.30697284925502" y1="181" x2="120.30697284925502" y2="184" stroke="#3a3a3a" stroke-width="1"/>
<line x1="122.0" y1="181" x2="122.0" y2="185.5" stroke="#3a3a3a" stroke-width="1"/>
<line x1="133.1381098395673" y1="181" x2="133.1381098395673" y2="184" stroke="#3a3a3a" stroke-width="1"/>
<line x1="139.65348642462752" y1="181" x2="139.65348642462752" y2="184" stroke="#3a3a3a" stroke-width="1"/>
<line x1="144.2762196791346" y1="181" x2="144.2762196791346" y2="184" stroke="#3a3a3a" stroke-width="1"/>
<line x1="147.8618901604327" y1="181" x2="147.8618901604327" y2="184" stroke="#3a3a3a" stroke-width="1"/>
<line x1="150.79159626419482" y1="181" x2="150.79159626419482" y2="184" stroke="#3a3a3a" stroke-width="1"/>
<line x1="153.2686274805275" y1="181" x2="153.2686274805275" y2="184" stroke="#3a3a3a" stroke-width="1"/>
<line x1="155.4143295187019" y1="181" x2="155.4143295187019" y2="184" stroke="#3a3a3a" stroke-width="1"/>
<line x1="157.30697284925503" y1="181" x2="157.30697284925503" y2="184" stroke="#3a3a3a" stroke-width="1"/>
<line x1="159.0" y1="181" x2="159.0" y2="185.5" stroke="#3a3a3a" stroke-width="1"/>
<line x1="170.1381098395673" y1="181" x2="170.1381098395673" y2="184" stroke="#3a3a3a" stroke-width="1"/>
<line x1="176.65348642462752" y1="181" x2="176.65348642462752" y2="184" stroke="#3a3a3a" stroke-width="1"/>
<line x1="181.2762196791346" y1="181" x2="181.2762196791346" y2="184" stroke="#3a3a3a" stroke-width="1"/>
<line x1="184.8618901604327" y1="181" x2="184.8618901604327" y2="184" stroke="#3a3a3a" stroke-width="1"/>
<line x1="187.79159626419482" y1="181" x2="187.79159626419482" y2="184" stroke="#3a3a3a" stroke-width="1"/>
<line x1="190.2686274805275" y1="181" x2="190.2686274805275" y2="184" stroke="#3a3a3a" stroke-width="1"/>
<line x1="192.41432951870192" y1="181" x2="192.41432951870192" y2="184" stroke="#3a3a3a" stroke-width="1"/>
<line x1="194.30697284925503" y1="181" x2="194.30697284925503" y2="184" stroke="#3a3a3a" stroke-width="1"/>
<line x1="196.0" y1="181" x2="196.0" y2="185.5" stroke="#3a3a3a" stroke-width="1"/>
<line x1="207.1381098395673" y1="181" x2="207.1381098395673" y2="184" stroke="#3a3a3a" stroke-width="1"/>
<text x="83" y="192" font-size="7" fill="#3e3e3e" text-anchor="middle">10<tspan font-size="4.9" dy="-3.1">2</tspan></text>
<text x="120" y="192" font-size="7" fill="#3e3e3e" text-anchor="middle">10<tspan font-size="4.9" dy="-3.1">3</tspan></text>
<text x="157" y="192" font-size="7" fill="#3e3e3e" text-anchor="middle">10<tspan font-size="4.9" dy="-3.1">4</tspan></text>
<text x="194" y="192" font-size="7" fill="#3e3e3e" text-anchor="middle">10<tspan font-size="4.9" dy="-3.1">5</tspan></text>
<text x="136" y="203.5" font-size="8" fill="#3e3e3e" text-anchor="middle">PE-A</text>
<text transform="translate(48,67.5) rotate(-90)" font-size="6.8" fill="#3e3e3e" text-anchor="middle">(x 1,000)</text>
<text transform="translate(48.5,118) rotate(-90)" font-size="8.6" fill="#3e3e3e" text-anchor="middle">SSC-A</text>
<rect x="70.5" y="79" width="48.0" height="98.5" fill="none" stroke="#454545" stroke-width="1.5"/>
<rect x="128.5" y="66" width="79.0" height="114" fill="none" stroke="#454545" stroke-width="1.5"/>
<rect x="35" y="218" width="180" height="167" fill="none" stroke="#505050" stroke-width="1.5"/>
<line x1="63" y1="233" x2="210" y2="233" stroke="#6a6a6a" stroke-width="1.3"/>
<line x1="210" y1="233" x2="210" y2="358" stroke="#6a6a6a" stroke-width="1.3"/>
<line x1="63" y1="233" x2="63" y2="358.5" stroke="#3a3a3a" stroke-width="1.2"/>
<line x1="60" y1="353.2" x2="63" y2="353.2" stroke="#3a3a3a" stroke-width="1"/>
<line x1="60" y1="348.4" x2="63" y2="348.4" stroke="#3a3a3a" stroke-width="1"/>
<line x1="60" y1="343.6" x2="63" y2="343.6" stroke="#3a3a3a" stroke-width="1"/>
<line x1="60" y1="338.8" x2="63" y2="338.8" stroke="#3a3a3a" stroke-width="1"/>
<line x1="58.5" y1="334.0" x2="63" y2="334.0" stroke="#3a3a3a" stroke-width="1"/>
<text transform="translate(57,334.0) rotate(-90)" font-size="6.5" fill="#3e3e3e" text-anchor="middle">50</text>
<line x1="60" y1="329.2" x2="63" y2="329.2" stroke="#3a3a3a" stroke-width="1"/>
<line x1="60" y1="324.4" x2="63" y2="324.4" stroke="#3a3a3a" stroke-width="1"/>
<line x1="60" y1="319.6" x2="63" y2="319.6" stroke="#3a3a3a" stroke-width="1"/>
<line x1="60" y1="314.8" x2="63" y2="314.8" stroke="#3a3a3a" stroke-width="1"/>
<line x1="58.5" y1="310.0" x2="63" y2="310.0" stroke="#3a3a3a" stroke-width="1"/>
<text transform="translate(57,310.0) rotate(-90)" font-size="6.5" fill="#3e3e3e" text-anchor="middle">100</text>
<line x1="60" y1="305.2" x2="63" y2="305.2" stroke="#3a3a3a" stroke-width="1"/>
<line x1="60" y1="300.4" x2="63" y2="300.4" stroke="#3a3a3a" stroke-width="1"/>
<line x1="60" y1="295.6" x2="63" y2="295.6" stroke="#3a3a3a" stroke-width="1"/>
<line x1="60" y1="290.8" x2="63" y2="290.8" stroke="#3a3a3a" stroke-width="1"/>
<line x1="58.5" y1="286.0" x2="63" y2="286.0" stroke="#3a3a3a" stroke-width="1"/>
<text transform="translate(57,286.0) rotate(-90)" font-size="6.5" fill="#3e3e3e" text-anchor="middle">150</text>
<line x1="60" y1="281.2" x2="63" y2="281.2" stroke="#3a3a3a" stroke-width="1"/>
<line x1="60" y1="276.4" x2="63" y2="276.4" stroke="#3a3a3a" stroke-width="1"/>
<line x1="60" y1="271.6" x2="63" y2="271.6" stroke="#3a3a3a" stroke-width="1"/>
<line x1="60" y1="266.8" x2="63" y2="266.8" stroke="#3a3a3a" stroke-width="1"/>
<line x1="58.5" y1="262.0" x2="63" y2="262.0" stroke="#3a3a3a" stroke-width="1"/>
<text transform="translate(57,262.0) rotate(-90)" font-size="6.5" fill="#3e3e3e" text-anchor="middle">200</text>
<line x1="60" y1="257.2" x2="63" y2="257.2" stroke="#3a3a3a" stroke-width="1"/>
<line x1="60" y1="252.4" x2="63" y2="252.4" stroke="#3a3a3a" stroke-width="1"/>
<line x1="60" y1="247.60000000000002" x2="63" y2="247.60000000000002" stroke="#3a3a3a" stroke-width="1"/>
<line x1="60" y1="242.8" x2="63" y2="242.8" stroke="#3a3a3a" stroke-width="1"/>
<line x1="58.5" y1="238.0" x2="63" y2="238.0" stroke="#3a3a3a" stroke-width="1"/>
<text transform="translate(57,238.0) rotate(-90)" font-size="6.5" fill="#3e3e3e" text-anchor="middle">250</text>
<line x1="60" y1="233.2" x2="63" y2="233.2" stroke="#3a3a3a" stroke-width="1"/>
<line x1="62.5" y1="358" x2="210" y2="358" stroke="#3a3a3a" stroke-width="1.2"/>
<line x1="65.65348642462752" y1="358" x2="65.65348642462752" y2="361" stroke="#3a3a3a" stroke-width="1"/>
<line x1="70.27621967913461" y1="358" x2="70.27621967913461" y2="361" stroke="#3a3a3a" stroke-width="1"/>
<line x1="73.8618901604327" y1="358" x2="73.8618901604327" y2="361" stroke="#3a3a3a" stroke-width="1"/>
<line x1="76.79159626419481" y1="358" x2="76.79159626419481" y2="361" stroke="#3a3a3a" stroke-width="1"/>
<line x1="79.2686274805275" y1="358" x2="79.2686274805275" y2="361" stroke="#3a3a3a" stroke-width="1"/>
<line x1="81.4143295187019" y1="358" x2="81.4143295187019" y2="361" stroke="#3a3a3a" stroke-width="1"/>
<line x1="83.30697284925502" y1="358" x2="83.30697284925502" y2="361" stroke="#3a3a3a" stroke-width="1"/>
<line x1="85.0" y1="358" x2="85.0" y2="362.5" stroke="#3a3a3a" stroke-width="1"/>
<line x1="96.1381098395673" y1="358" x2="96.1381098395673" y2="361" stroke="#3a3a3a" stroke-width="1"/>
<line x1="102.65348642462752" y1="358" x2="102.65348642462752" y2="361" stroke="#3a3a3a" stroke-width="1"/>
<line x1="107.27621967913461" y1="358" x2="107.27621967913461" y2="361" stroke="#3a3a3a" stroke-width="1"/>
<line x1="110.8618901604327" y1="358" x2="110.8618901604327" y2="361" stroke="#3a3a3a" stroke-width="1"/>
<line x1="113.79159626419482" y1="358" x2="113.79159626419482" y2="361" stroke="#3a3a3a" stroke-width="1"/>
<line x1="116.2686274805275" y1="358" x2="116.2686274805275" y2="361" stroke="#3a3a3a" stroke-width="1"/>
<line x1="118.41432951870192" y1="358" x2="118.41432951870192" y2="361" stroke="#3a3a3a" stroke-width="1"/>
<line x1="120.30697284925502" y1="358" x2="120.30697284925502" y2="361" stroke="#3a3a3a" stroke-width="1"/>
<line x1="122.0" y1="358" x2="122.0" y2="362.5" stroke="#3a3a3a" stroke-width="1"/>
<line x1="133.1381098395673" y1="358" x2="133.1381098395673" y2="361" stroke="#3a3a3a" stroke-width="1"/>
<line x1="139.65348642462752" y1="358" x2="139.65348642462752" y2="361" stroke="#3a3a3a" stroke-width="1"/>
<line x1="144.2762196791346" y1="358" x2="144.2762196791346" y2="361" stroke="#3a3a3a" stroke-width="1"/>
<line x1="147.8618901604327" y1="358" x2="147.8618901604327" y2="361" stroke="#3a3a3a" stroke-width="1"/>
<line x1="150.79159626419482" y1="358" x2="150.79159626419482" y2="361" stroke="#3a3a3a" stroke-width="1"/>
<line x1="153.2686274805275" y1="358" x2="153.2686274805275" y2="361" stroke="#3a3a3a" stroke-width="1"/>
<line x1="155.4143295187019" y1="358" x2="155.4143295187019" y2="361" stroke="#3a3a3a" stroke-width="1"/>
<line x1="157.30697284925503" y1="358" x2="157.30697284925503" y2="361" stroke="#3a3a3a" stroke-width="1"/>
<line x1="159.0" y1="358" x2="159.0" y2="362.5" stroke="#3a3a3a" stroke-width="1"/>
<line x1="170.1381098395673" y1="358" x2="170.1381098395673" y2="361" stroke="#3a3a3a" stroke-width="1"/>
<line x1="176.65348642462752" y1="358" x2="176.65348642462752" y2="361" stroke="#3a3a3a" stroke-width="1"/>
<line x1="181.2762196791346" y1="358" x2="181.2762196791346" y2="361" stroke="#3a3a3a" stroke-width="1"/>
<line x1="184.8618901604327" y1="358" x2="184.8618901604327" y2="361" stroke="#3a3a3a" stroke-width="1"/>
<line x1="187.79159626419482" y1="358" x2="187.79159626419482" y2="361" stroke="#3a3a3a" stroke-width="1"/>
<line x1="190.2686274805275" y1="358" x2="190.2686274805275" y2="361" stroke="#3a3a3a" stroke-width="1"/>
<line x1="192.41432951870192" y1="358" x2="192.41432951870192" y2="361" stroke="#3a3a3a" stroke-width="1"/>
<line x1="194.30697284925503" y1="358" x2="194.30697284925503" y2="361" stroke="#3a3a3a" stroke-width="1"/>
<line x1="196.0" y1="358" x2="196.0" y2="362.5" stroke="#3a3a3a" stroke-width="1"/>
<line x1="207.1381098395673" y1="358" x2="207.1381098395673" y2="361" stroke="#3a3a3a" stroke-width="1"/>
<text x="83" y="369" font-size="7" fill="#3e3e3e" text-anchor="middle">10<tspan font-size="4.9" dy="-3.1">2</tspan></text>
<text x="120" y="369" font-size="7" fill="#3e3e3e" text-anchor="middle">10<tspan font-size="4.9" dy="-3.1">3</tspan></text>
<text x="157" y="369" font-size="7" fill="#3e3e3e" text-anchor="middle">10<tspan font-size="4.9" dy="-3.1">4</tspan></text>
<text x="194" y="369" font-size="7" fill="#3e3e3e" text-anchor="middle">10<tspan font-size="4.9" dy="-3.1">5</tspan></text>
<text x="136" y="380.5" font-size="8" fill="#3e3e3e" text-anchor="middle">PE-A</text>
<text transform="translate(48,244.5) rotate(-90)" font-size="6.8" fill="#3e3e3e" text-anchor="middle">(x 1,000)</text>
<text transform="translate(48.5,295) rotate(-90)" font-size="8.6" fill="#3e3e3e" text-anchor="middle">SSC-A</text>
<rect x="70.5" y="256" width="48.0" height="98.5" fill="none" stroke="#454545" stroke-width="1.5"/>
<rect x="128.5" y="243" width="79.0" height="114" fill="none" stroke="#454545" stroke-width="1.5"/>
<rect x="35" y="395" width="180" height="167" fill="none" stroke="#505050" stroke-width="1.5"/>
<line x1="63" y1="410" x2="210" y2="410" stroke="#6a6a6a" stroke-width="1.3"/>
<line x1="210" y1="410" x2="210" y2="535" stroke="#6a6a6a" stroke-width="1.3"/>
<line x1="63" y1="410" x2="63" y2="535.5" stroke="#3a3a3a" stroke-width="1.2"/>
<line x1="60" y1="530.2" x2="63" y2="530.2" stroke="#3a3a3a" stroke-width="1"/>
<line x1="60" y1="525.4" x2="63" y2="525.4" stroke="#3a3a3a" stroke-width="1"/>
<line x1="60" y1="520.6" x2="63" y2="520.6" stroke="#3a3a3a" stroke-width="1"/>
<line x1="60" y1="515.8" x2="63" y2="515.8" stroke="#3a3a3a" stroke-width="1"/>
<line x1="58.5" y1="511.0" x2="63" y2="511.0" stroke="#3a3a3a" stroke-width="1"/>
<text transform="translate(57,511.0) rotate(-90)" font-size="6.5" fill="#3e3e3e" text-anchor="middle">50</text>
<line x1="60" y1="506.2" x2="63" y2="506.2" stroke="#3a3a3a" stroke-width="1"/>
<line x1="60" y1="501.4" x2="63" y2="501.4" stroke="#3a3a3a" stroke-width="1"/>
<line x1="60" y1="496.6" x2="63" y2="496.6" stroke="#3a3a3a" stroke-width="1"/>
<line x1="60" y1="491.8" x2="63" y2="491.8" stroke="#3a3a3a" stroke-width="1"/>
<line x1="58.5" y1="487.0" x2="63" y2="487.0" stroke="#3a3a3a" stroke-width="1"/>
<text transform="translate(57,487.0) rotate(-90)" font-size="6.5" fill="#3e3e3e" text-anchor="middle">100</text>
<line x1="60" y1="482.2" x2="63" y2="482.2" stroke="#3a3a3a" stroke-width="1"/>
<line x1="60" y1="477.4" x2="63" y2="477.4" stroke="#3a3a3a" stroke-width="1"/>
<line x1="60" y1="472.6" x2="63" y2="472.6" stroke="#3a3a3a" stroke-width="1"/>
<line x1="60" y1="467.8" x2="63" y2="467.8" stroke="#3a3a3a" stroke-width="1"/>
<line x1="58.5" y1="463.0" x2="63" y2="463.0" stroke="#3a3a3a" stroke-width="1"/>
<text transform="translate(57,463.0) rotate(-90)" font-size="6.5" fill="#3e3e3e" text-anchor="middle">150</text>
<line x1="60" y1="458.2" x2="63" y2="458.2" stroke="#3a3a3a" stroke-width="1"/>
<line x1="60" y1="453.4" x2="63" y2="453.4" stroke="#3a3a3a" stroke-width="1"/>
<line x1="60" y1="448.6" x2="63" y2="448.6" stroke="#3a3a3a" stroke-width="1"/>
<line x1="60" y1="443.8" x2="63" y2="443.8" stroke="#3a3a3a" stroke-width="1"/>
<line x1="58.5" y1="439.0" x2="63" y2="439.0" stroke="#3a3a3a" stroke-width="1"/>
<text transform="translate(57,439.0) rotate(-90)" font-size="6.5" fill="#3e3e3e" text-anchor="middle">200</text>
<line x1="60" y1="434.2" x2="63" y2="434.2" stroke="#3a3a3a" stroke-width="1"/>
<line x1="60" y1="429.4" x2="63" y2="429.4" stroke="#3a3a3a" stroke-width="1"/>
<line x1="60" y1="424.6" x2="63" y2="424.6" stroke="#3a3a3a" stroke-width="1"/>
<line x1="60" y1="419.8" x2="63" y2="419.8" stroke="#3a3a3a" stroke-width="1"/>
<line x1="58.5" y1="415.0" x2="63" y2="415.0" stroke="#3a3a3a" stroke-width="1"/>
<text transform="translate(57,415.0) rotate(-90)" font-size="6.5" fill="#3e3e3e" text-anchor="middle">250</text>
<line x1="60" y1="410.2" x2="63" y2="410.2" stroke="#3a3a3a" stroke-width="1"/>
<line x1="62.5" y1="535" x2="210" y2="535" stroke="#3a3a3a" stroke-width="1.2"/>
<line x1="65.65348642462752" y1="535" x2="65.65348642462752" y2="538" stroke="#3a3a3a" stroke-width="1"/>
<line x1="70.27621967913461" y1="535" x2="70.27621967913461" y2="538" stroke="#3a3a3a" stroke-width="1"/>
<line x1="73.8618901604327" y1="535" x2="73.8618901604327" y2="538" stroke="#3a3a3a" stroke-width="1"/>
<line x1="76.79159626419481" y1="535" x2="76.79159626419481" y2="538" stroke="#3a3a3a" stroke-width="1"/>
<line x1="79.2686274805275" y1="535" x2="79.2686274805275" y2="538" stroke="#3a3a3a" stroke-width="1"/>
<line x1="81.4143295187019" y1="535" x2="81.4143295187019" y2="538" stroke="#3a3a3a" stroke-width="1"/>
<line x1="83.30697284925502" y1="535" x2="83.30697284925502" y2="538" stroke="#3a3a3a" stroke-width="1"/>
<line x1="85.0" y1="535" x2="85.0" y2="539.5" stroke="#3a3a3a" stroke-width="1"/>
<line x1="96.1381098395673" y1="535" x2="96.1381098395673" y2="538" stroke="#3a3a3a" stroke-width="1"/>
<line x1="102.65348642462752" y1="535" x2="102.65348642462752" y2="538" stroke="#3a3a3a" stroke-width="1"/>
<line x1="107.27621967913461" y1="535" x2="107.27621967913461" y2="538" stroke="#3a3a3a" stroke-width="1"/>
<line x1="110.8618901604327" y1="535" x2="110.8618901604327" y2="538" stroke="#3a3a3a" stroke-width="1"/>
<line x1="113.79159626419482" y1="535" x2="113.79159626419482" y2="538" stroke="#3a3a3a" stroke-width="1"/>
<line x1="116.2686274805275" y1="535" x2="116.2686274805275" y2="538" stroke="#3a3a3a" stroke-width="1"/>
<line x1="118.41432951870192" y1="535" x2="118.41432951870192" y2="538" stroke="#3a3a3a" stroke-width="1"/>
<line x1="120.30697284925502" y1="535" x2="120.30697284925502" y2="538" stroke="#3a3a3a" stroke-width="1"/>
<line x1="122.0" y1="535" x2="122.0" y2="539.5" stroke="#3a3a3a" stroke-width="1"/>
<line x1="133.1381098395673" y1="535" x2="133.1381098395673" y2="538" stroke="#3a3a3a" stroke-width="1"/>
<line x1="139.65348642462752" y1="535" x2="139.65348642462752" y2="538" stroke="#3a3a3a" stroke-width="1"/>
<line x1="144.2762196791346" y1="535" x2="144.2762196791346" y2="538" stroke="#3a3a3a" stroke-width="1"/>
<line x1="147.8618901604327" y1="535" x2="147.8618901604327" y2="538" stroke="#3a3a3a" stroke-width="1"/>
<line x1="150.79159626419482" y1="535" x2="150.79159626419482" y2="538" stroke="#3a3a3a" stroke-width="1"/>
<line x1="153.2686274805275" y1="535" x2="153.2686274805275" y2="538" stroke="#3a3a3a" stroke-width="1"/>
<line x1="155.4143295187019" y1="535" x2="155.4143295187019" y2="538" stroke="#3a3a3a" stroke-width="1"/>
<line x1="157.30697284925503" y1="535" x2="157.30697284925503" y2="538" stroke="#3a3a3a" stroke-width="1"/>
<line x1="159.0" y1="535" x2="159.0" y2="539.5" stroke="#3a3a3a" stroke-width="1"/>
<line x1="170.1381098395673" y1="535" x2="170.1381098395673" y2="538" stroke="#3a3a3a" stroke-width="1"/>
<line x1="176.65348642462752" y1="535" x2="176.65348642462752" y2="538" stroke="#3a3a3a" stroke-width="1"/>
<line x1="181.2762196791346" y1="535" x2="181.2762196791346" y2="538" stroke="#3a3a3a" stroke-width="1"/>
<line x1="184.8618901604327" y1="535" x2="184.8618901604327" y2="538" stroke="#3a3a3a" stroke-width="1"/>
<line x1="187.79159626419482" y1="535" x2="187.79159626419482" y2="538" stroke="#3a3a3a" stroke-width="1"/>
<line x1="190.2686274805275" y1="535" x2="190.2686274805275" y2="538" stroke="#3a3a3a" stroke-width="1"/>
<line x1="192.41432951870192" y1="535" x2="192.41432951870192" y2="538" stroke="#3a3a3a" stroke-width="1"/>
<line x1="194.30697284925503" y1="535" x2="194.30697284925503" y2="538" stroke="#3a3a3a" stroke-width="1"/>
<line x1="196.0" y1="535" x2="196.0" y2="539.5" stroke="#3a3a3a" stroke-width="1"/>
<line x1="207.1381098395673" y1="535" x2="207.1381098395673" y2="538" stroke="#3a3a3a" stroke-width="1"/>
<text x="83" y="546" font-size="7" fill="#3e3e3e" text-anchor="middle">10<tspan font-size="4.9" dy="-3.1">2</tspan></text>
<text x="120" y="546" font-size="7" fill="#3e3e3e" text-anchor="middle">10<tspan font-size="4.9" dy="-3.1">3</tspan></text>
<text x="157" y="546" font-size="7" fill="#3e3e3e" text-anchor="middle">10<tspan font-size="4.9" dy="-3.1">4</tspan></text>
<text x="194" y="546" font-size="7" fill="#3e3e3e" text-anchor="middle">10<tspan font-size="4.9" dy="-3.1">5</tspan></text>
<text x="136" y="557.5" font-size="8" fill="#3e3e3e" text-anchor="middle">PE-A</text>
<text transform="translate(48,421.5) rotate(-90)" font-size="6.8" fill="#3e3e3e" text-anchor="middle">(x 1,000)</text>
<text transform="translate(48.5,472) rotate(-90)" font-size="8.6" fill="#3e3e3e" text-anchor="middle">SSC-A</text>
<rect x="70.5" y="433" width="48.0" height="98.5" fill="none" stroke="#454545" stroke-width="1.5"/>
<rect x="128.5" y="420" width="79.0" height="114" fill="none" stroke="#454545" stroke-width="1.5"/>
<text x="78.8" y="54.8" font-size="8.4" fill="#3e3e3e" text-anchor="start" textLength="90.8" lengthAdjust="spacingAndGlyphs">Specimen_001-H •NULL</text>
<text x="82.8" y="231.5" font-size="8.4" fill="#3e3e3e" text-anchor="start" textLength="82.8" lengthAdjust="spacingAndGlyphs">Specimen_001-NULL+</text>
<text x="89.3" y="408.2" font-size="8.4" fill="#3e3e3e" text-anchor="start" textLength="69.8" lengthAdjust="spacingAndGlyphs">Specimen_001-H •</text>
<text x="155" y="81.5" font-size="14.5" font-weight="bold" stroke="#111" stroke-width="0.35" fill="#111" text-anchor="start">P2</text>
<text x="87.5" y="98" font-size="15" font-weight="bold" stroke="#111" stroke-width="0.35" fill="#111" text-anchor="start">P4</text>
<text x="70.2" y="120.6" font-size="13.8" font-weight="bold" stroke="#111" stroke-width="0.35" fill="#111" text-anchor="start" textLength="32.5" lengthAdjust="spacingAndGlyphs">9.2%</text>
<text x="146" y="171.3" font-size="14" font-weight="bold" stroke="#111" stroke-width="0.35" fill="#111" text-anchor="start">90%</text>
<text x="94" y="132" font-size="7" fill="#3e3e3e" text-anchor="middle">P4</text>
<text x="168.5" y="124.5" font-size="7.5" fill="#101010" text-anchor="middle">P2</text>
<text x="155" y="258.5" font-size="14.5" font-weight="bold" stroke="#111" stroke-width="0.35" fill="#111" text-anchor="start">P2</text>
<text x="138" y="281.2" font-size="13.5" font-weight="bold" stroke="#111" stroke-width="0.35" fill="#111" text-anchor="start">1%</text>
<text x="87.5" y="275.3" font-size="15" font-weight="bold" stroke="#111" stroke-width="0.35" fill="#111" text-anchor="start">P4</text>
<text x="78.7" y="297.6" font-size="13.8" font-weight="bold" stroke="#111" stroke-width="0.35" fill="#111" text-anchor="start" textLength="40.8" lengthAdjust="spacingAndGlyphs">92.3%</text>
<text x="94" y="308.8" font-size="7" fill="#3e3e3e" text-anchor="middle">P4</text>
<text x="168.5" y="303.4" font-size="7" fill="#3e3e3e" text-anchor="middle">P2</text>
<text x="155" y="441" font-size="14.5" font-weight="bold" stroke="#111" stroke-width="0.35" fill="#111" text-anchor="start">P2</text>
<text x="87.5" y="458" font-size="15" font-weight="bold" stroke="#111" stroke-width="0.35" fill="#111" text-anchor="start">P4</text>
<text x="137.3" y="525.7" font-size="13.8" font-weight="bold" stroke="#111" stroke-width="0.35" fill="#111" text-anchor="start" textLength="41.5" lengthAdjust="spacingAndGlyphs">99.7%</text>
<text x="94.5" y="486.2" font-size="7" fill="#3e3e3e" text-anchor="middle">P4</text>
<text x="169" y="481.5" font-size="7.5" fill="#101010" text-anchor="middle">P2</text>
<text transform="translate(23.8,205.5) rotate(-90)" font-size="17" font-weight="bold" fill="#111" stroke="#111" stroke-width="0.35"><tspan textLength="160" lengthAdjust="spacingAndGlyphs">HSC-4+ES cells HirA</tspan><tspan font-size="12.5" dx="2.5" dy="-5.5">-/-</tspan></text>
<text transform="translate(23.8,371.6) rotate(-90)" font-size="17" font-weight="bold" fill="#111" stroke="#111" stroke-width="0.35"><tspan textLength="105" lengthAdjust="spacingAndGlyphs">ES cells HirA</tspan><tspan font-size="12.5" dx="2.5" dy="-5.5">-/-</tspan></text>
<text transform="translate(16,510.5) rotate(-90)" font-size="17" font-weight="bold" stroke="#111" stroke-width="0.35" fill="#111" text-anchor="start" textLength="47" lengthAdjust="spacingAndGlyphs">HSC-4</text>
<path d="M35 588.6H75" stroke="#000" stroke-width="2.6"/>
<path d="M68 583.0L76 588.6L68 594.2" stroke="#000" stroke-width="2.6" fill="none"/>
<text x="88" y="594.5" font-size="17" font-weight="bold" stroke="#111" stroke-width="0.35" fill="#111" text-anchor="start" textLength="65.5" lengthAdjust="spacingAndGlyphs">CD44 PE</text>
<text x="264" y="17.8" font-size="21" font-weight="bold" stroke="#111" stroke-width="0.35" fill="#111" text-anchor="start">b</text>
<rect x="270.5" y="40.5" width="130.5" height="112.0" fill="none" stroke="#505050" stroke-width="1.5"/>
<line x1="290.5" y1="50.5" x2="398.5" y2="50.5" stroke="#6a6a6a" stroke-width="1.2"/>
<line x1="398.5" y1="50.5" x2="398.5" y2="132.5" stroke="#6a6a6a" stroke-width="1.2"/>
<line x1="290.5" y1="50.5" x2="290.5" y2="133.0" stroke="#3a3a3a" stroke-width="1.2"/>
<line x1="288.0" y1="129.36" x2="290.5" y2="129.36" stroke="#3a3a3a" stroke-width="1"/>
<line x1="288.0" y1="126.22" x2="290.5" y2="126.22" stroke="#3a3a3a" stroke-width="1"/>
<line x1="288.0" y1="123.08" x2="290.5" y2="123.08" stroke="#3a3a3a" stroke-width="1"/>
<line x1="288.0" y1="119.94" x2="290.5" y2="119.94" stroke="#3a3a3a" stroke-width="1"/>
<line x1="286.5" y1="116.8" x2="290.5" y2="116.8" stroke="#3a3a3a" stroke-width="1"/>
<text transform="translate(285.5,116.8) rotate(-90)" font-size="4.5" fill="#3e3e3e" text-anchor="middle">50</text>
<line x1="288.0" y1="113.66" x2="290.5" y2="113.66" stroke="#3a3a3a" stroke-width="1"/>
<line x1="288.0" y1="110.52" x2="290.5" y2="110.52" stroke="#3a3a3a" stroke-width="1"/>
<line x1="288.0" y1="107.38" x2="290.5" y2="107.38" stroke="#3a3a3a" stroke-width="1"/>
<line x1="288.0" y1="104.24" x2="290.5" y2="104.24" stroke="#3a3a3a" stroke-width="1"/>
<line x1="286.5" y1="101.1" x2="290.5" y2="101.1" stroke="#3a3a3a" stroke-width="1"/>
<text transform="translate(285.5,101.1) rotate(-90)" font-size="4.5" fill="#3e3e3e" text-anchor="middle">100</text>
<line x1="288.0" y1="97.96000000000001" x2="290.5" y2="97.96000000000001" stroke="#3a3a3a" stroke-width="1"/>
<line x1="288.0" y1="94.82" x2="290.5" y2="94.82" stroke="#3a3a3a" stroke-width="1"/>
<line x1="288.0" y1="91.68" x2="290.5" y2="91.68" stroke="#3a3a3a" stroke-width="1"/>
<line x1="288.0" y1="88.53999999999999" x2="290.5" y2="88.53999999999999" stroke="#3a3a3a" stroke-width="1"/>
<line x1="286.5" y1="85.4" x2="290.5" y2="85.4" stroke="#3a3a3a" stroke-width="1"/>
<text transform="translate(285.5,85.4) rotate(-90)" font-size="4.5" fill="#3e3e3e" text-anchor="middle">150</text>
<line x1="288.0" y1="82.25999999999999" x2="290.5" y2="82.25999999999999" stroke="#3a3a3a" stroke-width="1"/>
<line x1="288.0" y1="79.12" x2="290.5" y2="79.12" stroke="#3a3a3a" stroke-width="1"/>
<line x1="288.0" y1="75.97999999999999" x2="290.5" y2="75.97999999999999" stroke="#3a3a3a" stroke-width="1"/>
<line x1="288.0" y1="72.84" x2="290.5" y2="72.84" stroke="#3a3a3a" stroke-width="1"/>
<line x1="286.5" y1="69.7" x2="290.5" y2="69.7" stroke="#3a3a3a" stroke-width="1"/>
<text transform="translate(285.5,69.7) rotate(-90)" font-size="4.5" fill="#3e3e3e" text-anchor="middle">200</text>
<line x1="288.0" y1="66.56" x2="290.5" y2="66.56" stroke="#3a3a3a" stroke-width="1"/>
<line x1="288.0" y1="63.42" x2="290.5" y2="63.42" stroke="#3a3a3a" stroke-width="1"/>
<line x1="288.0" y1="60.28" x2="290.5" y2="60.28" stroke="#3a3a3a" stroke-width="1"/>
<line x1="288.0" y1="57.14" x2="290.5" y2="57.14" stroke="#3a3a3a" stroke-width="1"/>
<line x1="286.5" y1="54.0" x2="290.5" y2="54.0" stroke="#3a3a3a" stroke-width="1"/>
<text transform="translate(285.5,54.0) rotate(-90)" font-size="4.5" fill="#3e3e3e" text-anchor="middle">250</text>
<line x1="288.0" y1="50.86" x2="290.5" y2="50.86" stroke="#3a3a3a" stroke-width="1"/>
<line x1="290.0" y1="132.5" x2="398.5" y2="132.5" stroke="#3a3a3a" stroke-width="1.2"/>
<line x1="291.88227387743086" y1="132.5" x2="291.88227387743086" y2="135.0" stroke="#3a3a3a" stroke-width="1"/>
<line x1="295.255619765855" y1="132.5" x2="295.255619765855" y2="135.0" stroke="#3a3a3a" stroke-width="1"/>
<line x1="297.87219011707253" y1="132.5" x2="297.87219011707253" y2="135.0" stroke="#3a3a3a" stroke-width="1"/>
<line x1="300.0100837603584" y1="132.5" x2="300.0100837603584" y2="135.0" stroke="#3a3a3a" stroke-width="1"/>
<line x1="301.8176470803849" y1="132.5" x2="301.8176470803849" y2="135.0" stroke="#3a3a3a" stroke-width="1"/>
<line x1="303.38342964878245" y1="132.5" x2="303.38342964878245" y2="135.0" stroke="#3a3a3a" stroke-width="1"/>
<line x1="304.7645477548618" y1="132.5" x2="304.7645477548618" y2="135.0" stroke="#3a3a3a" stroke-width="1"/>
<line x1="306.0" y1="132.5" x2="306.0" y2="136.5" stroke="#3a3a3a" stroke-width="1"/>
<line x1="314.12780988292747" y1="132.5" x2="314.12780988292747" y2="135.0" stroke="#3a3a3a" stroke-width="1"/>
<line x1="318.88227387743086" y1="132.5" x2="318.88227387743086" y2="135.0" stroke="#3a3a3a" stroke-width="1"/>
<line x1="322.255619765855" y1="132.5" x2="322.255619765855" y2="135.0" stroke="#3a3a3a" stroke-width="1"/>
<line x1="324.87219011707253" y1="132.5" x2="324.87219011707253" y2="135.0" stroke="#3a3a3a" stroke-width="1"/>
<line x1="327.0100837603584" y1="132.5" x2="327.0100837603584" y2="135.0" stroke="#3a3a3a" stroke-width="1"/>
<line x1="328.8176470803849" y1="132.5" x2="328.8176470803849" y2="135.0" stroke="#3a3a3a" stroke-width="1"/>
<line x1="330.38342964878245" y1="132.5" x2="330.38342964878245" y2="135.0" stroke="#3a3a3a" stroke-width="1"/>
<line x1="331.7645477548618" y1="132.5" x2="331.7645477548618" y2="135.0" stroke="#3a3a3a" stroke-width="1"/>
<line x1="333.0" y1="132.5" x2="333.0" y2="136.5" stroke="#3a3a3a" stroke-width="1"/>
<line x1="341.1278098829275" y1="132.5" x2="341.1278098829275" y2="135.0" stroke="#3a3a3a" stroke-width="1"/>
<line x1="345.88227387743086" y1="132.5" x2="345.88227387743086" y2="135.0" stroke="#3a3a3a" stroke-width="1"/>
<line x1="349.255619765855" y1="132.5" x2="349.255619765855" y2="135.0" stroke="#3a3a3a" stroke-width="1"/>
<line x1="351.8721901170725" y1="132.5" x2="351.8721901170725" y2="135.0" stroke="#3a3a3a" stroke-width="1"/>
<line x1="354.0100837603584" y1="132.5" x2="354.0100837603584" y2="135.0" stroke="#3a3a3a" stroke-width="1"/>
<line x1="355.8176470803849" y1="132.5" x2="355.8176470803849" y2="135.0" stroke="#3a3a3a" stroke-width="1"/>
<line x1="357.38342964878245" y1="132.5" x2="357.38342964878245" y2="135.0" stroke="#3a3a3a" stroke-width="1"/>
<line x1="358.7645477548618" y1="132.5" x2="358.7645477548618" y2="135.0" stroke="#3a3a3a" stroke-width="1"/>
<line x1="360.0" y1="132.5" x2="360.0" y2="136.5" stroke="#3a3a3a" stroke-width="1"/>
<line x1="368.1278098829275" y1="132.5" x2="368.1278098829275" y2="135.0" stroke="#3a3a3a" stroke-width="1"/>
<line x1="372.88227387743086" y1="132.5" x2="372.88227387743086" y2="135.0" stroke="#3a3a3a" stroke-width="1"/>
<line x1="376.255619765855" y1="132.5" x2="376.255619765855" y2="135.0" stroke="#3a3a3a" stroke-width="1"/>
<line x1="378.8721901170725" y1="132.5" x2="378.8721901170725" y2="135.0" stroke="#3a3a3a" stroke-width="1"/>
<line x1="381.0100837603584" y1="132.5" x2="381.0100837603584" y2="135.0" stroke="#3a3a3a" stroke-width="1"/>
<line x1="382.817647080385" y1="132.5" x2="382.817647080385" y2="135.0" stroke="#3a3a3a" stroke-width="1"/>
<line x1="384.38342964878245" y1="132.5" x2="384.38342964878245" y2="135.0" stroke="#3a3a3a" stroke-width="1"/>
<line x1="385.7645477548618" y1="132.5" x2="385.7645477548618" y2="135.0" stroke="#3a3a3a" stroke-width="1"/>
<line x1="387.0" y1="132.5" x2="387.0" y2="136.5" stroke="#3a3a3a" stroke-width="1"/>
<line x1="395.1278098829275" y1="132.5" x2="395.1278098829275" y2="135.0" stroke="#3a3a3a" stroke-width="1"/>
<text x="306" y="142" font-size="5" fill="#3e3e3e" text-anchor="middle">10<tspan font-size="3.5" dy="-2.2">2</tspan></text>
<text x="333" y="142" font-size="5" fill="#3e3e3e" text-anchor="middle">10<tspan font-size="3.5" dy="-2.2">3</tspan></text>
<text x="360" y="142" font-size="5" fill="#3e3e3e" text-anchor="middle">10<tspan font-size="3.5" dy="-2.2">4</tspan></text>
<text x="387" y="142" font-size="5" fill="#3e3e3e" text-anchor="middle">10<tspan font-size="3.5" dy="-2.2">5</tspan></text>
<text x="344" y="149.5" font-size="6" fill="#3e3e3e" text-anchor="middle">FITC-A</text>
<text transform="translate(280,57) rotate(-90)" font-size="4.5" fill="#3e3e3e" text-anchor="middle">(x 1,000)</text>
<text transform="translate(280,90.5) rotate(-90)" font-size="6" fill="#3e3e3e" text-anchor="middle">SSC-A</text>
<text x="336.5" y="49.5" font-size="6" fill="#3e3e3e" text-anchor="middle">Specimen_001-H •NULL</text>
<rect x="340.5" y="55.5" width="51.5" height="77.0" fill="none" stroke="#454545" stroke-width="1.3"/>
<text x="348.7" y="70.5" font-size="14" font-weight="bold" stroke="#111" stroke-width="0.35" fill="#111" text-anchor="start">82%</text>
<text x="365" y="96" font-size="5.5" fill="#3e3e3e" text-anchor="middle">P3</text>
<rect x="271" y="159" width="131.3" height="121.69999999999999" fill="none" stroke="#505050" stroke-width="1.5"/>
<line x1="291.9" y1="169.8" x2="399" y2="169.8" stroke="#6a6a6a" stroke-width="1.2"/>
<line x1="399" y1="169.8" x2="399" y2="258.5" stroke="#6a6a6a" stroke-width="1.2"/>
<line x1="291.9" y1="169.8" x2="291.9" y2="259.0" stroke="#3a3a3a" stroke-width="1.2"/>
<line x1="289.4" y1="255.04" x2="291.9" y2="255.04" stroke="#3a3a3a" stroke-width="1"/>
<line x1="289.4" y1="251.58" x2="291.9" y2="251.58" stroke="#3a3a3a" stroke-width="1"/>
<line x1="289.4" y1="248.12" x2="291.9" y2="248.12" stroke="#3a3a3a" stroke-width="1"/>
<line x1="289.4" y1="244.66" x2="291.9" y2="244.66" stroke="#3a3a3a" stroke-width="1"/>
<line x1="287.9" y1="241.2" x2="291.9" y2="241.2" stroke="#3a3a3a" stroke-width="1"/>
<text transform="translate(286.5,241.2) rotate(-90)" font-size="4.5" fill="#3e3e3e" text-anchor="middle">50</text>
<line x1="289.4" y1="237.74" x2="291.9" y2="237.74" stroke="#3a3a3a" stroke-width="1"/>
<line x1="289.4" y1="234.28" x2="291.9" y2="234.28" stroke="#3a3a3a" stroke-width="1"/>
<line x1="289.4" y1="230.82" x2="291.9" y2="230.82" stroke="#3a3a3a" stroke-width="1"/>
<line x1="289.4" y1="227.36" x2="291.9" y2="227.36" stroke="#3a3a3a" stroke-width="1"/>
<line x1="287.9" y1="223.9" x2="291.9" y2="223.9" stroke="#3a3a3a" stroke-width="1"/>
<text transform="translate(286.5,223.9) rotate(-90)" font-size="4.5" fill="#3e3e3e" text-anchor="middle">100</text>
<line x1="289.4" y1="220.44" x2="291.9" y2="220.44" stroke="#3a3a3a" stroke-width="1"/>
<line x1="289.4" y1="216.98000000000002" x2="291.9" y2="216.98000000000002" stroke="#3a3a3a" stroke-width="1"/>
<line x1="289.4" y1="213.52" x2="291.9" y2="213.52" stroke="#3a3a3a" stroke-width="1"/>
<line x1="289.4" y1="210.06" x2="291.9" y2="210.06" stroke="#3a3a3a" stroke-width="1"/>
<line x1="287.9" y1="206.6" x2="291.9" y2="206.6" stroke="#3a3a3a" stroke-width="1"/>
<text transform="translate(286.5,206.6) rotate(-90)" font-size="4.5" fill="#3e3e3e" text-anchor="middle">150</text>
<line x1="289.4" y1="203.14" x2="291.9" y2="203.14" stroke="#3a3a3a" stroke-width="1"/>
<line x1="289.4" y1="199.68" x2="291.9" y2="199.68" stroke="#3a3a3a" stroke-width="1"/>
<line x1="289.4" y1="196.22" x2="291.9" y2="196.22" stroke="#3a3a3a" stroke-width="1"/>
<line x1="289.4" y1="192.76" x2="291.9" y2="192.76" stroke="#3a3a3a" stroke-width="1"/>
<line x1="287.9" y1="189.3" x2="291.9" y2="189.3" stroke="#3a3a3a" stroke-width="1"/>
<text transform="translate(286.5,189.3) rotate(-90)" font-size="4.5" fill="#3e3e3e" text-anchor="middle">200</text>
<line x1="289.4" y1="185.84" x2="291.9" y2="185.84" stroke="#3a3a3a" stroke-width="1"/>
<line x1="289.4" y1="182.38" x2="291.9" y2="182.38" stroke="#3a3a3a" stroke-width="1"/>
<line x1="289.4" y1="178.92000000000002" x2="291.9" y2="178.92000000000002" stroke="#3a3a3a" stroke-width="1"/>
<line x1="289.4" y1="175.46" x2="291.9" y2="175.46" stroke="#3a3a3a" stroke-width="1"/>
<line x1="287.9" y1="172.0" x2="291.9" y2="172.0" stroke="#3a3a3a" stroke-width="1"/>
<text transform="translate(286.5,172.0) rotate(-90)" font-size="4.5" fill="#3e3e3e" text-anchor="middle">250</text>
<line x1="291.4" y1="258.5" x2="399" y2="258.5" stroke="#3a3a3a" stroke-width="1.2"/>
<line x1="292.38227387743086" y1="258.5" x2="292.38227387743086" y2="261.0" stroke="#3a3a3a" stroke-width="1"/>
<line x1="295.755619765855" y1="258.5" x2="295.755619765855" y2="261.0" stroke="#3a3a3a" stroke-width="1"/>
<line x1="298.37219011707253" y1="258.5" x2="298.37219011707253" y2="261.0" stroke="#3a3a3a" stroke-width="1"/>
<line x1="300.5100837603584" y1="258.5" x2="300.5100837603584" y2="261.0" stroke="#3a3a3a" stroke-width="1"/>
<line x1="302.3176470803849" y1="258.5" x2="302.3176470803849" y2="261.0" stroke="#3a3a3a" stroke-width="1"/>
<line x1="303.88342964878245" y1="258.5" x2="303.88342964878245" y2="261.0" stroke="#3a3a3a" stroke-width="1"/>
<line x1="305.2645477548618" y1="258.5" x2="305.2645477548618" y2="261.0" stroke="#3a3a3a" stroke-width="1"/>
<line x1="306.5" y1="258.5" x2="306.5" y2="262.5" stroke="#3a3a3a" stroke-width="1"/>
<line x1="314.62780988292747" y1="258.5" x2="314.62780988292747" y2="261.0" stroke="#3a3a3a" stroke-width="1"/>
<line x1="319.38227387743086" y1="258.5" x2="319.38227387743086" y2="261.0" stroke="#3a3a3a" stroke-width="1"/>
<line x1="322.755619765855" y1="258.5" x2="322.755619765855" y2="261.0" stroke="#3a3a3a" stroke-width="1"/>
<line x1="325.37219011707253" y1="258.5" x2="325.37219011707253" y2="261.0" stroke="#3a3a3a" stroke-width="1"/>
<line x1="327.5100837603584" y1="258.5" x2="327.5100837603584" y2="261.0" stroke="#3a3a3a" stroke-width="1"/>
<line x1="329.3176470803849" y1="258.5" x2="329.3176470803849" y2="261.0" stroke="#3a3a3a" stroke-width="1"/>
<line x1="330.88342964878245" y1="258.5" x2="330.88342964878245" y2="261.0" stroke="#3a3a3a" stroke-width="1"/>
<line x1="332.2645477548618" y1="258.5" x2="332.2645477548618" y2="261.0" stroke="#3a3a3a" stroke-width="1"/>
<line x1="333.5" y1="258.5" x2="333.5" y2="262.5" stroke="#3a3a3a" stroke-width="1"/>
<line x1="341.6278098829275" y1="258.5" x2="341.6278098829275" y2="261.0" stroke="#3a3a3a" stroke-width="1"/>
<line x1="346.38227387743086" y1="258.5" x2="346.38227387743086" y2="261.0" stroke="#3a3a3a" stroke-width="1"/>
<line x1="349.755619765855" y1="258.5" x2="349.755619765855" y2="261.0" stroke="#3a3a3a" stroke-width="1"/>
<line x1="352.3721901170725" y1="258.5" x2="352.3721901170725" y2="261.0" stroke="#3a3a3a" stroke-width="1"/>
<line x1="354.5100837603584" y1="258.5" x2="354.5100837603584" y2="261.0" stroke="#3a3a3a" stroke-width="1"/>
<line x1="356.3176470803849" y1="258.5" x2="356.3176470803849" y2="261.0" stroke="#3a3a3a" stroke-width="1"/>
<line x1="357.88342964878245" y1="258.5" x2="357.88342964878245" y2="261.0" stroke="#3a3a3a" stroke-width="1"/>
<line x1="359.2645477548618" y1="258.5" x2="359.2645477548618" y2="261.0" stroke="#3a3a3a" stroke-width="1"/>
<line x1="360.5" y1="258.5" x2="360.5" y2="262.5" stroke="#3a3a3a" stroke-width="1"/>
<line x1="368.6278098829275" y1="258.5" x2="368.6278098829275" y2="261.0" stroke="#3a3a3a" stroke-width="1"/>
<line x1="373.38227387743086" y1="258.5" x2="373.38227387743086" y2="261.0" stroke="#3a3a3a" stroke-width="1"/>
<line x1="376.755619765855" y1="258.5" x2="376.755619765855" y2="261.0" stroke="#3a3a3a" stroke-width="1"/>
<line x1="379.3721901170725" y1="258.5" x2="379.3721901170725" y2="261.0" stroke="#3a3a3a" stroke-width="1"/>
<line x1="381.5100837603584" y1="258.5" x2="381.5100837603584" y2="261.0" stroke="#3a3a3a" stroke-width="1"/>
<line x1="383.317647080385" y1="258.5" x2="383.317647080385" y2="261.0" stroke="#3a3a3a" stroke-width="1"/>
<line x1="384.88342964878245" y1="258.5" x2="384.88342964878245" y2="261.0" stroke="#3a3a3a" stroke-width="1"/>
<line x1="386.2645477548618" y1="258.5" x2="386.2645477548618" y2="261.0" stroke="#3a3a3a" stroke-width="1"/>
<line x1="387.5" y1="258.5" x2="387.5" y2="262.5" stroke="#3a3a3a" stroke-width="1"/>
<line x1="395.6278098829275" y1="258.5" x2="395.6278098829275" y2="261.0" stroke="#3a3a3a" stroke-width="1"/>
<text x="306.5" y="268.5" font-size="5" fill="#3e3e3e" text-anchor="middle">10<tspan font-size="3.5" dy="-2.2">2</tspan></text>
<text x="333.5" y="268.5" font-size="5" fill="#3e3e3e" text-anchor="middle">10<tspan font-size="3.5" dy="-2.2">3</tspan></text>
<text x="360.5" y="268.5" font-size="5" fill="#3e3e3e" text-anchor="middle">10<tspan font-size="3.5" dy="-2.2">4</tspan></text>
<text x="387.5" y="268.5" font-size="5" fill="#3e3e3e" text-anchor="middle">10<tspan font-size="3.5" dy="-2.2">5</tspan></text>
<text x="345" y="276.5" font-size="6" fill="#3e3e3e" text-anchor="middle">FITC-A</text>
<text transform="translate(281,177) rotate(-90)" font-size="4.5" fill="#3e3e3e" text-anchor="middle">(x 1,000)</text>
<text transform="translate(281,213) rotate(-90)" font-size="6" fill="#3e3e3e" text-anchor="middle">SSC-A</text>
<text x="337" y="168" font-size="6" fill="#3e3e3e" text-anchor="middle">Specimen_001-H •NULL</text>
<rect x="342.8" y="172" width="54.0" height="86.5" fill="none" stroke="#454545" stroke-width="1.3"/>
<text x="348.7" y="188.2" font-size="14" font-weight="bold" stroke="#111" stroke-width="0.35" fill="#111" text-anchor="start">2.7%</text>
<text x="369.5" y="218" font-size="5.5" fill="#3e3e3e" text-anchor="middle">P5</text>
<path d="M219.7 166L270.0 133.3" stroke="#000" stroke-width="2.4" stroke-linecap="round"/>
<path d="M267.4 141.9L270.0 133.3" stroke="#000" stroke-width="2.4" stroke-linecap="round"/>
<path d="M261.1 132.2L270.0 133.3" stroke="#000" stroke-width="2.4" stroke-linecap="round"/>
<path d="M219.7 166L270.0 207.0" stroke="#000" stroke-width="2.4" stroke-linecap="round"/>
<path d="M261.0 207.1L270.0 207.0" stroke="#000" stroke-width="2.4" stroke-linecap="round"/>
<path d="M268.3 198.2L270.0 207.0" stroke="#000" stroke-width="2.4" stroke-linecap="round"/>
<text x="231" y="120.4" font-size="14.5" font-weight="bold" stroke="#111" stroke-width="0.35" fill="#111" text-anchor="start">P2</text>
<text x="231" y="213" font-size="14.5" font-weight="bold" stroke="#111" stroke-width="0.35" fill="#111" text-anchor="start">P4</text>
<path d="M271 294H311.5" stroke="#000" stroke-width="2.6"/>
<path d="M304.5 288.4L312.5 294L304.5 299.6" stroke="#000" stroke-width="2.6" fill="none"/>
<text x="323.5" y="299.6" font-size="17.5" font-weight="bold" stroke="#111" stroke-width="0.35" fill="#111" text-anchor="start" textLength="79" lengthAdjust="spacingAndGlyphs">TM2-FITC</text>
<text x="474" y="18.8" font-size="21" font-weight="bold" stroke="#111" stroke-width="0.35" fill="#111" text-anchor="start">c</text>
<rect x="481.7" y="41" width="201.3" height="190.5" fill="none" stroke="#505050" stroke-width="1.5"/>
<line x1="513.3" y1="57.5" x2="677" y2="57.5" stroke="#6a6a6a" stroke-width="1.3"/>
<line x1="677" y1="57.5" x2="677" y2="199.5" stroke="#6a6a6a" stroke-width="1.3"/>
<line x1="513.3" y1="57.5" x2="513.3" y2="200" stroke="#3a3a3a" stroke-width="1.2"/>
<line x1="510.29999999999995" y1="195.60533183386787" x2="513.3" y2="195.60533183386787" stroke="#3a3a3a" stroke-width="1"/>
<line x1="510.29999999999995" y1="191.2074883052557" x2="513.3" y2="191.2074883052557" stroke="#3a3a3a" stroke-width="1"/>
<line x1="510.29999999999995" y1="187.79625584737215" x2="513.3" y2="187.79625584737215" stroke="#3a3a3a" stroke-width="1"/>
<line x1="510.29999999999995" y1="185.00907598649576" x2="513.3" y2="185.00907598649576" stroke="#3a3a3a" stroke-width="1"/>
<line x1="510.29999999999995" y1="182.65254899149818" x2="513.3" y2="182.65254899149818" stroke="#3a3a3a" stroke-width="1"/>
<line x1="510.29999999999995" y1="180.6112324578836" x2="513.3" y2="180.6112324578836" stroke="#3a3a3a" stroke-width="1"/>
<line x1="510.29999999999995" y1="178.81066366773575" x2="513.3" y2="178.81066366773575" stroke="#3a3a3a" stroke-width="1"/>
<line x1="508.79999999999995" y1="177.2" x2="513.3" y2="177.2" stroke="#3a3a3a" stroke-width="1"/>
<line x1="510.29999999999995" y1="166.60374415262788" x2="513.3" y2="166.60374415262788" stroke="#3a3a3a" stroke-width="1"/>
<line x1="510.29999999999995" y1="160.40533183386788" x2="513.3" y2="160.40533183386788" stroke="#3a3a3a" stroke-width="1"/>
<line x1="510.29999999999995" y1="156.00748830525572" x2="513.3" y2="156.00748830525572" stroke="#3a3a3a" stroke-width="1"/>
<line x1="510.29999999999995" y1="152.59625584737213" x2="513.3" y2="152.59625584737213" stroke="#3a3a3a" stroke-width="1"/>
<line x1="510.29999999999995" y1="149.80907598649574" x2="513.3" y2="149.80907598649574" stroke="#3a3a3a" stroke-width="1"/>
<line x1="510.29999999999995" y1="147.45254899149816" x2="513.3" y2="147.45254899149816" stroke="#3a3a3a" stroke-width="1"/>
<line x1="510.29999999999995" y1="145.41123245788359" x2="513.3" y2="145.41123245788359" stroke="#3a3a3a" stroke-width="1"/>
<line x1="510.29999999999995" y1="143.61066366773576" x2="513.3" y2="143.61066366773576" stroke="#3a3a3a" stroke-width="1"/>
<line x1="508.79999999999995" y1="142.0" x2="513.3" y2="142.0" stroke="#3a3a3a" stroke-width="1"/>
<line x1="510.29999999999995" y1="131.40374415262787" x2="513.3" y2="131.40374415262787" stroke="#3a3a3a" stroke-width="1"/>
<line x1="510.29999999999995" y1="125.20533183386789" x2="513.3" y2="125.20533183386789" stroke="#3a3a3a" stroke-width="1"/>
<line x1="510.29999999999995" y1="120.80748830525572" x2="513.3" y2="120.80748830525572" stroke="#3a3a3a" stroke-width="1"/>
<line x1="510.29999999999995" y1="117.39625584737215" x2="513.3" y2="117.39625584737215" stroke="#3a3a3a" stroke-width="1"/>
<line x1="510.29999999999995" y1="114.60907598649574" x2="513.3" y2="114.60907598649574" stroke="#3a3a3a" stroke-width="1"/>
<line x1="510.29999999999995" y1="112.25254899149814" x2="513.3" y2="112.25254899149814" stroke="#3a3a3a" stroke-width="1"/>
<line x1="510.29999999999995" y1="110.21123245788358" x2="513.3" y2="110.21123245788358" stroke="#3a3a3a" stroke-width="1"/>
<line x1="510.29999999999995" y1="108.41066366773578" x2="513.3" y2="108.41066366773578" stroke="#3a3a3a" stroke-width="1"/>
<line x1="508.79999999999995" y1="106.8" x2="513.3" y2="106.8" stroke="#3a3a3a" stroke-width="1"/>
<line x1="510.29999999999995" y1="96.20374415262785" x2="513.3" y2="96.20374415262785" stroke="#3a3a3a" stroke-width="1"/>
<line x1="510.29999999999995" y1="90.00533183386788" x2="513.3" y2="90.00533183386788" stroke="#3a3a3a" stroke-width="1"/>
<line x1="510.29999999999995" y1="85.60748830525571" x2="513.3" y2="85.60748830525571" stroke="#3a3a3a" stroke-width="1"/>
<line x1="510.29999999999995" y1="82.19625584737213" x2="513.3" y2="82.19625584737213" stroke="#3a3a3a" stroke-width="1"/>
<line x1="510.29999999999995" y1="79.40907598649574" x2="513.3" y2="79.40907598649574" stroke="#3a3a3a" stroke-width="1"/>
<line x1="510.29999999999995" y1="77.05254899149816" x2="513.3" y2="77.05254899149816" stroke="#3a3a3a" stroke-width="1"/>
<line x1="510.29999999999995" y1="75.01123245788358" x2="513.3" y2="75.01123245788358" stroke="#3a3a3a" stroke-width="1"/>
<line x1="510.29999999999995" y1="73.21066366773576" x2="513.3" y2="73.21066366773576" stroke="#3a3a3a" stroke-width="1"/>
<line x1="508.79999999999995" y1="71.6" x2="513.3" y2="71.6" stroke="#3a3a3a" stroke-width="1"/>
<line x1="510.29999999999995" y1="61.00374415262785" x2="513.3" y2="61.00374415262785" stroke="#3a3a3a" stroke-width="1"/>
<text transform="translate(505,71.6) rotate(-90)" font-size="7" fill="#3e3e3e" text-anchor="middle">10<tspan font-size="5" dy="-3">5</tspan></text>
<text transform="translate(505,106.8) rotate(-90)" font-size="7" fill="#3e3e3e" text-anchor="middle">10<tspan font-size="5" dy="-3">4</tspan></text>
<text transform="translate(505,142) rotate(-90)" font-size="7" fill="#3e3e3e" text-anchor="middle">10<tspan font-size="5" dy="-3">3</tspan></text>
<text transform="translate(505,177.2) rotate(-90)" font-size="7" fill="#3e3e3e" text-anchor="middle">10<tspan font-size="5" dy="-3">2</tspan></text>
<text transform="translate(495.2,127.5) rotate(-90)" font-size="8.8" fill="#3e3e3e" text-anchor="middle">PE-A</text>
<line x1="512.8" y1="199.5" x2="677" y2="199.5" stroke="#3a3a3a" stroke-width="1.2"/>
<line x1="515.0619714435062" y1="199.5" x2="515.0619714435062" y2="203.0" stroke="#3a3a3a" stroke-width="1"/>
<line x1="520.1844596444464" y1="199.5" x2="520.1844596444464" y2="203.0" stroke="#3a3a3a" stroke-width="1"/>
<line x1="524.1577701777768" y1="199.5" x2="524.1577701777768" y2="203.0" stroke="#3a3a3a" stroke-width="1"/>
<line x1="527.4042012657294" y1="199.5" x2="527.4042012657294" y2="203.0" stroke="#3a3a3a" stroke-width="1"/>
<line x1="530.1490196405846" y1="199.5" x2="530.1490196405846" y2="203.0" stroke="#3a3a3a" stroke-width="1"/>
<line x1="532.5266894666697" y1="199.5" x2="532.5266894666697" y2="203.0" stroke="#3a3a3a" stroke-width="1"/>
<line x1="534.6239428870123" y1="199.5" x2="534.6239428870123" y2="203.0" stroke="#3a3a3a" stroke-width="1"/>
<line x1="536.5" y1="199.5" x2="536.5" y2="204.5" stroke="#3a3a3a" stroke-width="1"/>
<line x1="548.8422298222232" y1="199.5" x2="548.8422298222232" y2="203.0" stroke="#3a3a3a" stroke-width="1"/>
<line x1="556.0619714435062" y1="199.5" x2="556.0619714435062" y2="203.0" stroke="#3a3a3a" stroke-width="1"/>
<line x1="561.1844596444464" y1="199.5" x2="561.1844596444464" y2="203.0" stroke="#3a3a3a" stroke-width="1"/>
<line x1="565.1577701777768" y1="199.5" x2="565.1577701777768" y2="203.0" stroke="#3a3a3a" stroke-width="1"/>
<line x1="568.4042012657294" y1="199.5" x2="568.4042012657294" y2="203.0" stroke="#3a3a3a" stroke-width="1"/>
<line x1="571.1490196405846" y1="199.5" x2="571.1490196405846" y2="203.0" stroke="#3a3a3a" stroke-width="1"/>
<line x1="573.5266894666697" y1="199.5" x2="573.5266894666697" y2="203.0" stroke="#3a3a3a" stroke-width="1"/>
<line x1="575.6239428870123" y1="199.5" x2="575.6239428870123" y2="203.0" stroke="#3a3a3a" stroke-width="1"/>
<line x1="577.5" y1="199.5" x2="577.5" y2="204.5" stroke="#3a3a3a" stroke-width="1"/>
<line x1="589.8422298222232" y1="199.5" x2="589.8422298222232" y2="203.0" stroke="#3a3a3a" stroke-width="1"/>
<line x1="597.0619714435062" y1="199.5" x2="597.0619714435062" y2="203.0" stroke="#3a3a3a" stroke-width="1"/>
<line x1="602.1844596444464" y1="199.5" x2="602.1844596444464" y2="203.0" stroke="#3a3a3a" stroke-width="1"/>
<line x1="606.1577701777768" y1="199.5" x2="606.1577701777768" y2="203.0" stroke="#3a3a3a" stroke-width="1"/>
<line x1="609.4042012657294" y1="199.5" x2="609.4042012657294" y2="203.0" stroke="#3a3a3a" stroke-width="1"/>
<line x1="612.1490196405846" y1="199.5" x2="612.1490196405846" y2="203.0" stroke="#3a3a3a" stroke-width="1"/>
<line x1="614.5266894666697" y1="199.5" x2="614.5266894666697" y2="203.0" stroke="#3a3a3a" stroke-width="1"/>
<line x1="616.6239428870123" y1="199.5" x2="616.6239428870123" y2="203.0" stroke="#3a3a3a" stroke-width="1"/>
<line x1="618.5" y1="199.5" x2="618.5" y2="204.5" stroke="#3a3a3a" stroke-width="1"/>
<line x1="630.8422298222232" y1="199.5" x2="630.8422298222232" y2="203.0" stroke="#3a3a3a" stroke-width="1"/>
<line x1="638.0619714435062" y1="199.5" x2="638.0619714435062" y2="203.0" stroke="#3a3a3a" stroke-width="1"/>
<line x1="643.1844596444464" y1="199.5" x2="643.1844596444464" y2="203.0" stroke="#3a3a3a" stroke-width="1"/>
<line x1="647.1577701777768" y1="199.5" x2="647.1577701777768" y2="203.0" stroke="#3a3a3a" stroke-width="1"/>
<line x1="650.4042012657294" y1="199.5" x2="650.4042012657294" y2="203.0" stroke="#3a3a3a" stroke-width="1"/>
<line x1="653.1490196405846" y1="199.5" x2="653.1490196405846" y2="203.0" stroke="#3a3a3a" stroke-width="1"/>
<line x1="655.5266894666697" y1="199.5" x2="655.5266894666697" y2="203.0" stroke="#3a3a3a" stroke-width="1"/>
<line x1="657.6239428870123" y1="199.5" x2="657.6239428870123" y2="203.0" stroke="#3a3a3a" stroke-width="1"/>
<line x1="659.5" y1="199.5" x2="659.5" y2="204.5" stroke="#3a3a3a" stroke-width="1"/>
<line x1="671.8422298222232" y1="199.5" x2="671.8422298222232" y2="203.0" stroke="#3a3a3a" stroke-width="1"/>
<text x="537.3" y="214" font-size="7.3" fill="#3e3e3e" text-anchor="middle">10<tspan font-size="5.1" dy="-3.3">2</tspan></text>
<text x="578.3" y="214" font-size="7.3" fill="#3e3e3e" text-anchor="middle">10<tspan font-size="5.1" dy="-3.3">3</tspan></text>
<text x="619.3" y="214" font-size="7.3" fill="#3e3e3e" text-anchor="middle">10<tspan font-size="5.1" dy="-3.3">4</tspan></text>
<text x="660.3" y="214" font-size="7.3" fill="#3e3e3e" text-anchor="middle">10<tspan font-size="5.1" dy="-3.3">5</tspan></text>
<text x="595" y="226.3" font-size="8.8" fill="#3e3e3e" text-anchor="middle">FITC-A</text>
<text x="581.5" y="55.3" font-size="8.2" fill="#3e3e3e" text-anchor="middle" textLength="145" lengthAdjust="spacingAndGlyphs">Specimen_001-H •NULL_REPEAT</text>
<text x="526" y="103.6" font-size="14" font-weight="bold" stroke="#111" stroke-width="0.35" fill="#111" text-anchor="start">10%</text>
<text x="601.8" y="103.3" font-size="14" font-weight="bold" stroke="#111" stroke-width="0.35" fill="#111" text-anchor="start">81.4%</text>
<text x="525.8" y="171" font-size="14" font-weight="bold" stroke="#111" stroke-width="0.35" fill="#111" text-anchor="start">8%</text>
<text x="593" y="171" font-size="14" font-weight="bold" stroke="#111" stroke-width="0.35" fill="#111" text-anchor="start">0.6%</text>
<text x="567.5" y="120" font-size="6.5" fill="#3e3e3e" text-anchor="middle">Q1</text>
<text x="608.5" y="120" font-size="6.5" fill="#3e3e3e" text-anchor="middle">Q2</text>
<text x="568" y="159.2" font-size="6.5" fill="#3e3e3e" text-anchor="middle">Q3</text>
<text x="608.5" y="159.2" font-size="6.5" fill="#3e3e3e" text-anchor="middle">Q4</text>
<text transform="translate(471.4,150.8) rotate(-90)" font-size="17" font-weight="bold" stroke="#111" stroke-width="0.35" fill="#111" text-anchor="start" textLength="65" lengthAdjust="spacingAndGlyphs">CD44 PE</text>
<path d="M464.6 209.3V169" stroke="#000" stroke-width="2.6"/>
<path d="M458 175.5L464.6 168L471.2 175.5" stroke="#000" stroke-width="2.6" fill="none"/>
<path d="M506.8 251.9H547.4" stroke="#000" stroke-width="2.6"/>
<path d="M540.4 246.3L548.4 251.9L540.4 257.5" stroke="#000" stroke-width="2.6" fill="none"/>
<text x="560" y="257.7" font-size="17.5" font-weight="bold" stroke="#111" stroke-width="0.35" fill="#111" text-anchor="start" textLength="78.3" lengthAdjust="spacingAndGlyphs">TM2-FITC</text>
<text x="255" y="381" font-size="21" font-weight="bold" stroke="#111" stroke-width="0.35" fill="#111" text-anchor="start">d</text>
<text transform="translate(268.8,576.2) rotate(-90)" font-size="17" font-weight="bold" fill="#111" stroke="#111" stroke-width="0.35"><tspan textLength="155" lengthAdjust="spacingAndGlyphs">HSC-4+ES cells HirA</tspan><tspan font-size="12.5" dx="2.5" dy="-5.5">-/-</tspan></text>
<rect x="279.3" y="411.7" width="181.3" height="150.3" fill="none" stroke="#505050" stroke-width="1.5"/>
<line x1="305.7" y1="426" x2="456.3" y2="426" stroke="#6a6a6a" stroke-width="1.3"/>
<line x1="456.3" y1="426" x2="456.3" y2="534.5" stroke="#6a6a6a" stroke-width="1.3"/>
<line x1="305.7" y1="426" x2="305.7" y2="535.0" stroke="#3a3a3a" stroke-width="1.2"/>
<line x1="302.7" y1="530.3" x2="305.7" y2="530.3" stroke="#3a3a3a" stroke-width="1"/>
<line x1="302.7" y1="526.1" x2="305.7" y2="526.1" stroke="#3a3a3a" stroke-width="1"/>
<line x1="302.7" y1="521.9" x2="305.7" y2="521.9" stroke="#3a3a3a" stroke-width="1"/>
<line x1="302.7" y1="517.7" x2="305.7" y2="517.7" stroke="#3a3a3a" stroke-width="1"/>
<line x1="301.2" y1="513.5" x2="305.7" y2="513.5" stroke="#3a3a3a" stroke-width="1"/>
<text transform="translate(299.7,513.5) rotate(-90)" font-size="6" fill="#3e3e3e" text-anchor="middle">50</text>
<line x1="302.7" y1="509.3" x2="305.7" y2="509.3" stroke="#3a3a3a" stroke-width="1"/>
<line x1="302.7" y1="505.1" x2="305.7" y2="505.1" stroke="#3a3a3a" stroke-width="1"/>
<line x1="302.7" y1="500.9" x2="305.7" y2="500.9" stroke="#3a3a3a" stroke-width="1"/>
<line x1="302.7" y1="496.7" x2="305.7" y2="496.7" stroke="#3a3a3a" stroke-width="1"/>
<line x1="301.2" y1="492.5" x2="305.7" y2="492.5" stroke="#3a3a3a" stroke-width="1"/>
<text transform="translate(299.7,492.5) rotate(-90)" font-size="6" fill="#3e3e3e" text-anchor="middle">100</text>
<line x1="302.7" y1="488.3" x2="305.7" y2="488.3" stroke="#3a3a3a" stroke-width="1"/>
<line x1="302.7" y1="484.1" x2="305.7" y2="484.1" stroke="#3a3a3a" stroke-width="1"/>
<line x1="302.7" y1="479.9" x2="305.7" y2="479.9" stroke="#3a3a3a" stroke-width="1"/>
<line x1="302.7" y1="475.7" x2="305.7" y2="475.7" stroke="#3a3a3a" stroke-width="1"/>
<line x1="301.2" y1="471.5" x2="305.7" y2="471.5" stroke="#3a3a3a" stroke-width="1"/>
<text transform="translate(299.7,471.5) rotate(-90)" font-size="6" fill="#3e3e3e" text-anchor="middle">150</text>
<line x1="302.7" y1="467.3" x2="305.7" y2="467.3" stroke="#3a3a3a" stroke-width="1"/>
<line x1="302.7" y1="463.1" x2="305.7" y2="463.1" stroke="#3a3a3a" stroke-width="1"/>
<line x1="302.7" y1="458.9" x2="305.7" y2="458.9" stroke="#3a3a3a" stroke-width="1"/>
<line x1="302.7" y1="454.7" x2="305.7" y2="454.7" stroke="#3a3a3a" stroke-width="1"/>
<line x1="301.2" y1="450.5" x2="305.7" y2="450.5" stroke="#3a3a3a" stroke-width="1"/>
<text transform="translate(299.7,450.5) rotate(-90)" font-size="6" fill="#3e3e3e" text-anchor="middle">200</text>
<line x1="302.7" y1="446.3" x2="305.7" y2="446.3" stroke="#3a3a3a" stroke-width="1"/>
<line x1="302.7" y1="442.1" x2="305.7" y2="442.1" stroke="#3a3a3a" stroke-width="1"/>
<line x1="302.7" y1="437.9" x2="305.7" y2="437.9" stroke="#3a3a3a" stroke-width="1"/>
<line x1="302.7" y1="433.7" x2="305.7" y2="433.7" stroke="#3a3a3a" stroke-width="1"/>
<line x1="301.2" y1="429.5" x2="305.7" y2="429.5" stroke="#3a3a3a" stroke-width="1"/>
<text transform="translate(299.7,429.5) rotate(-90)" font-size="6" fill="#3e3e3e" text-anchor="middle">250</text>
<line x1="305.2" y1="534.5" x2="456.3" y2="534.5" stroke="#3a3a3a" stroke-width="1.2"/>
<line x1="307.8397591774593" y1="534.5" x2="307.8397591774593" y2="537.5" stroke="#3a3a3a" stroke-width="1"/>
<line x1="312.5374556739314" y1="534.5" x2="312.5374556739314" y2="537.5" stroke="#3a3a3a" stroke-width="1"/>
<line x1="316.1812721630343" y1="534.5" x2="316.1812721630343" y2="537.5" stroke="#3a3a3a" stroke-width="1"/>
<line x1="319.158487014425" y1="534.5" x2="319.158487014425" y2="537.5" stroke="#3a3a3a" stroke-width="1"/>
<line x1="321.67568630453604" y1="534.5" x2="321.67568630453604" y2="537.5" stroke="#3a3a3a" stroke-width="1"/>
<line x1="323.8561835108971" y1="534.5" x2="323.8561835108971" y2="537.5" stroke="#3a3a3a" stroke-width="1"/>
<line x1="325.7795183549186" y1="534.5" x2="325.7795183549186" y2="537.5" stroke="#3a3a3a" stroke-width="1"/>
<line x1="327.5" y1="534.5" x2="327.5" y2="539.0" stroke="#3a3a3a" stroke-width="1"/>
<line x1="338.8187278369657" y1="534.5" x2="338.8187278369657" y2="537.5" stroke="#3a3a3a" stroke-width="1"/>
<line x1="345.43975917745934" y1="534.5" x2="345.43975917745934" y2="537.5" stroke="#3a3a3a" stroke-width="1"/>
<line x1="350.1374556739314" y1="534.5" x2="350.1374556739314" y2="537.5" stroke="#3a3a3a" stroke-width="1"/>
<line x1="353.7812721630343" y1="534.5" x2="353.7812721630343" y2="537.5" stroke="#3a3a3a" stroke-width="1"/>
<line x1="356.758487014425" y1="534.5" x2="356.758487014425" y2="537.5" stroke="#3a3a3a" stroke-width="1"/>
<line x1="359.27568630453607" y1="534.5" x2="359.27568630453607" y2="537.5" stroke="#3a3a3a" stroke-width="1"/>
<line x1="361.45618351089706" y1="534.5" x2="361.45618351089706" y2="537.5" stroke="#3a3a3a" stroke-width="1"/>
<line x1="363.3795183549186" y1="534.5" x2="363.3795183549186" y2="537.5" stroke="#3a3a3a" stroke-width="1"/>
<line x1="365.1" y1="534.5" x2="365.1" y2="539.0" stroke="#3a3a3a" stroke-width="1"/>
<line x1="376.4187278369657" y1="534.5" x2="376.4187278369657" y2="537.5" stroke="#3a3a3a" stroke-width="1"/>
<line x1="383.0397591774593" y1="534.5" x2="383.0397591774593" y2="537.5" stroke="#3a3a3a" stroke-width="1"/>
<line x1="387.7374556739314" y1="534.5" x2="387.7374556739314" y2="537.5" stroke="#3a3a3a" stroke-width="1"/>
<line x1="391.3812721630343" y1="534.5" x2="391.3812721630343" y2="537.5" stroke="#3a3a3a" stroke-width="1"/>
<line x1="394.358487014425" y1="534.5" x2="394.358487014425" y2="537.5" stroke="#3a3a3a" stroke-width="1"/>
<line x1="396.8756863045361" y1="534.5" x2="396.8756863045361" y2="537.5" stroke="#3a3a3a" stroke-width="1"/>
<line x1="399.0561835108971" y1="534.5" x2="399.0561835108971" y2="537.5" stroke="#3a3a3a" stroke-width="1"/>
<line x1="400.9795183549186" y1="534.5" x2="400.9795183549186" y2="537.5" stroke="#3a3a3a" stroke-width="1"/>
<line x1="402.7" y1="534.5" x2="402.7" y2="539.0" stroke="#3a3a3a" stroke-width="1"/>
<line x1="414.0187278369657" y1="534.5" x2="414.0187278369657" y2="537.5" stroke="#3a3a3a" stroke-width="1"/>
<line x1="420.6397591774593" y1="534.5" x2="420.6397591774593" y2="537.5" stroke="#3a3a3a" stroke-width="1"/>
<line x1="425.3374556739314" y1="534.5" x2="425.3374556739314" y2="537.5" stroke="#3a3a3a" stroke-width="1"/>
<line x1="428.9812721630343" y1="534.5" x2="428.9812721630343" y2="537.5" stroke="#3a3a3a" stroke-width="1"/>
<line x1="431.95848701442503" y1="534.5" x2="431.95848701442503" y2="537.5" stroke="#3a3a3a" stroke-width="1"/>
<line x1="434.47568630453605" y1="534.5" x2="434.47568630453605" y2="537.5" stroke="#3a3a3a" stroke-width="1"/>
<line x1="436.6561835108971" y1="534.5" x2="436.6561835108971" y2="537.5" stroke="#3a3a3a" stroke-width="1"/>
<line x1="438.5795183549186" y1="534.5" x2="438.5795183549186" y2="537.5" stroke="#3a3a3a" stroke-width="1"/>
<line x1="440.3" y1="534.5" x2="440.3" y2="539.0" stroke="#3a3a3a" stroke-width="1"/>
<line x1="451.6187278369657" y1="534.5" x2="451.6187278369657" y2="537.5" stroke="#3a3a3a" stroke-width="1"/>
<text x="327.5" y="547.8" font-size="6.6" fill="#3e3e3e" text-anchor="middle">10<tspan font-size="4.6" dy="-3.0">2</tspan></text>
<text x="365.1" y="547.8" font-size="6.6" fill="#3e3e3e" text-anchor="middle">10<tspan font-size="4.6" dy="-3.0">3</tspan></text>
<text x="402.7" y="547.8" font-size="6.6" fill="#3e3e3e" text-anchor="middle">10<tspan font-size="4.6" dy="-3.0">4</tspan></text>
<text x="440.3" y="547.8" font-size="6.6" fill="#3e3e3e" text-anchor="middle">10<tspan font-size="4.6" dy="-3.0">5</tspan></text>
<text x="381" y="558.5" font-size="7.5" fill="#3e3e3e" text-anchor="middle">FITC-A</text>
<text transform="translate(289,435.5) rotate(-90)" font-size="6.1" fill="#3e3e3e" text-anchor="middle">(x 1,000)</text>
<text transform="translate(290,480.5) rotate(-90)" font-size="7.8" fill="#3e3e3e" text-anchor="middle">SSC-A</text>
<text x="369" y="423.5" font-size="7.5" fill="#3e3e3e" text-anchor="middle" textLength="98" lengthAdjust="spacingAndGlyphs">Specimen_001-H •NULL_1</text>
<rect x="375" y="430.7" width="75.39999999999998" height="101.80000000000001" fill="none" stroke="#454545" stroke-width="1.5"/>
<text x="399.4" y="449" font-size="14" font-weight="bold" stroke="#111" stroke-width="0.35" fill="#111" text-anchor="start">81.7%</text>
<text x="408" y="484.8" font-size="7" fill="#3e3e3e" text-anchor="start">P2</text>
<text x="407.8" y="517" font-size="14.5" font-weight="bold" stroke="#111" stroke-width="0.35" fill="#111" text-anchor="start">P2</text>
<path d="M288.3 579.8H328" stroke="#000" stroke-width="2.6"/>
<path d="M321 574.1999999999999L329 579.8L321 585.4" stroke="#000" stroke-width="2.6" fill="none"/>
<text x="340.3" y="586.2" font-size="17.5" font-weight="bold" stroke="#111" stroke-width="0.35" fill="#111" text-anchor="start" textLength="78.7" lengthAdjust="spacingAndGlyphs">TM2-FITC</text>
<path d="M460.8 487.4H504.3" stroke="#000" stroke-width="2.4"/>
<path d="M497.3 481.79999999999995L505.3 487.4L497.3 493.0" stroke="#000" stroke-width="2.4" fill="none"/>
<text x="476" y="474" font-size="14.5" font-weight="bold" stroke="#111" stroke-width="0.35" fill="#111" text-anchor="start">P2</text>
<rect x="506.6" y="411.8" width="176.39999999999998" height="149.99999999999994" fill="none" stroke="#505050" stroke-width="1.5"/>
<line x1="536.8" y1="426" x2="678" y2="426" stroke="#6a6a6a" stroke-width="1.3"/>
<line x1="678" y1="426" x2="678" y2="535.5" stroke="#6a6a6a" stroke-width="1.3"/>
<line x1="536.8" y1="426" x2="536.8" y2="536.0" stroke="#3a3a3a" stroke-width="1.2"/>
<line x1="533.8" y1="531.292" x2="536.8" y2="531.292" stroke="#3a3a3a" stroke-width="1"/>
<line x1="533.8" y1="527.084" x2="536.8" y2="527.084" stroke="#3a3a3a" stroke-width="1"/>
<line x1="533.8" y1="522.876" x2="536.8" y2="522.876" stroke="#3a3a3a" stroke-width="1"/>
<line x1="533.8" y1="518.668" x2="536.8" y2="518.668" stroke="#3a3a3a" stroke-width="1"/>
<line x1="532.3" y1="514.46" x2="536.8" y2="514.46" stroke="#3a3a3a" stroke-width="1"/>
<text transform="translate(529.5,514.46) rotate(-90)" font-size="6" fill="#3e3e3e" text-anchor="middle">50</text>
<line x1="533.8" y1="510.252" x2="536.8" y2="510.252" stroke="#3a3a3a" stroke-width="1"/>
<line x1="533.8" y1="506.044" x2="536.8" y2="506.044" stroke="#3a3a3a" stroke-width="1"/>
<line x1="533.8" y1="501.836" x2="536.8" y2="501.836" stroke="#3a3a3a" stroke-width="1"/>
<line x1="533.8" y1="497.628" x2="536.8" y2="497.628" stroke="#3a3a3a" stroke-width="1"/>
<line x1="532.3" y1="493.42" x2="536.8" y2="493.42" stroke="#3a3a3a" stroke-width="1"/>
<text transform="translate(529.5,493.42) rotate(-90)" font-size="6" fill="#3e3e3e" text-anchor="middle">100</text>
<line x1="533.8" y1="489.212" x2="536.8" y2="489.212" stroke="#3a3a3a" stroke-width="1"/>
<line x1="533.8" y1="485.004" x2="536.8" y2="485.004" stroke="#3a3a3a" stroke-width="1"/>
<line x1="533.8" y1="480.796" x2="536.8" y2="480.796" stroke="#3a3a3a" stroke-width="1"/>
<line x1="533.8" y1="476.588" x2="536.8" y2="476.588" stroke="#3a3a3a" stroke-width="1"/>
<line x1="532.3" y1="472.38" x2="536.8" y2="472.38" stroke="#3a3a3a" stroke-width="1"/>
<text transform="translate(529.5,472.38) rotate(-90)" font-size="6" fill="#3e3e3e" text-anchor="middle">150</text>
<line x1="533.8" y1="468.172" x2="536.8" y2="468.172" stroke="#3a3a3a" stroke-width="1"/>
<line x1="533.8" y1="463.964" x2="536.8" y2="463.964" stroke="#3a3a3a" stroke-width="1"/>
<line x1="533.8" y1="459.75600000000003" x2="536.8" y2="459.75600000000003" stroke="#3a3a3a" stroke-width="1"/>
<line x1="533.8" y1="455.548" x2="536.8" y2="455.548" stroke="#3a3a3a" stroke-width="1"/>
<line x1="532.3" y1="451.34000000000003" x2="536.8" y2="451.34000000000003" stroke="#3a3a3a" stroke-width="1"/>
<text transform="translate(529.5,451.34000000000003) rotate(-90)" font-size="6" fill="#3e3e3e" text-anchor="middle">200</text>
<line x1="533.8" y1="447.132" x2="536.8" y2="447.132" stroke="#3a3a3a" stroke-width="1"/>
<line x1="533.8" y1="442.924" x2="536.8" y2="442.924" stroke="#3a3a3a" stroke-width="1"/>
<line x1="533.8" y1="438.716" x2="536.8" y2="438.716" stroke="#3a3a3a" stroke-width="1"/>
<line x1="533.8" y1="434.50800000000004" x2="536.8" y2="434.50800000000004" stroke="#3a3a3a" stroke-width="1"/>
<line x1="532.3" y1="430.3" x2="536.8" y2="430.3" stroke="#3a3a3a" stroke-width="1"/>
<text transform="translate(529.5,430.3) rotate(-90)" font-size="6" fill="#3e3e3e" text-anchor="middle">250</text>
<line x1="533.8" y1="426.092" x2="536.8" y2="426.092" stroke="#3a3a3a" stroke-width="1"/>
<line x1="536.3" y1="535.5" x2="678" y2="535.5" stroke="#3a3a3a" stroke-width="1.2"/>
<line x1="540.9606832878284" y1="535.5" x2="540.9606832878284" y2="538.5" stroke="#3a3a3a" stroke-width="1"/>
<line x1="545.2710697008147" y1="535.5" x2="545.2710697008147" y2="538.5" stroke="#3a3a3a" stroke-width="1"/>
<line x1="548.6144651495927" y1="535.5" x2="548.6144651495927" y2="538.5" stroke="#3a3a3a" stroke-width="1"/>
<line x1="551.3462181382357" y1="535.5" x2="551.3462181382357" y2="538.5" stroke="#3a3a3a" stroke-width="1"/>
<line x1="553.6558823804919" y1="535.5" x2="553.6558823804919" y2="538.5" stroke="#3a3a3a" stroke-width="1"/>
<line x1="555.656604551222" y1="535.5" x2="555.656604551222" y2="538.5" stroke="#3a3a3a" stroke-width="1"/>
<line x1="557.4213665756567" y1="535.5" x2="557.4213665756567" y2="538.5" stroke="#3a3a3a" stroke-width="1"/>
<line x1="559.0" y1="535.5" x2="559.0" y2="540.0" stroke="#3a3a3a" stroke-width="1"/>
<line x1="569.3855348504073" y1="535.5" x2="569.3855348504073" y2="538.5" stroke="#3a3a3a" stroke-width="1"/>
<line x1="575.4606832878284" y1="535.5" x2="575.4606832878284" y2="538.5" stroke="#3a3a3a" stroke-width="1"/>
<line x1="579.7710697008147" y1="535.5" x2="579.7710697008147" y2="538.5" stroke="#3a3a3a" stroke-width="1"/>
<line x1="583.1144651495927" y1="535.5" x2="583.1144651495927" y2="538.5" stroke="#3a3a3a" stroke-width="1"/>
<line x1="585.8462181382357" y1="535.5" x2="585.8462181382357" y2="538.5" stroke="#3a3a3a" stroke-width="1"/>
<line x1="588.1558823804919" y1="535.5" x2="588.1558823804919" y2="538.5" stroke="#3a3a3a" stroke-width="1"/>
<line x1="590.156604551222" y1="535.5" x2="590.156604551222" y2="538.5" stroke="#3a3a3a" stroke-width="1"/>
<line x1="591.9213665756567" y1="535.5" x2="591.9213665756567" y2="538.5" stroke="#3a3a3a" stroke-width="1"/>
<line x1="593.5" y1="535.5" x2="593.5" y2="540.0" stroke="#3a3a3a" stroke-width="1"/>
<line x1="603.8855348504073" y1="535.5" x2="603.8855348504073" y2="538.5" stroke="#3a3a3a" stroke-width="1"/>
<line x1="609.9606832878284" y1="535.5" x2="609.9606832878284" y2="538.5" stroke="#3a3a3a" stroke-width="1"/>
<line x1="614.2710697008147" y1="535.5" x2="614.2710697008147" y2="538.5" stroke="#3a3a3a" stroke-width="1"/>
<line x1="617.6144651495927" y1="535.5" x2="617.6144651495927" y2="538.5" stroke="#3a3a3a" stroke-width="1"/>
<line x1="620.3462181382357" y1="535.5" x2="620.3462181382357" y2="538.5" stroke="#3a3a3a" stroke-width="1"/>
<line x1="622.6558823804919" y1="535.5" x2="622.6558823804919" y2="538.5" stroke="#3a3a3a" stroke-width="1"/>
<line x1="624.656604551222" y1="535.5" x2="624.656604551222" y2="538.5" stroke="#3a3a3a" stroke-width="1"/>
<line x1="626.4213665756567" y1="535.5" x2="626.4213665756567" y2="538.5" stroke="#3a3a3a" stroke-width="1"/>
<line x1="628.0" y1="535.5" x2="628.0" y2="540.0" stroke="#3a3a3a" stroke-width="1"/>
<line x1="638.3855348504073" y1="535.5" x2="638.3855348504073" y2="538.5" stroke="#3a3a3a" stroke-width="1"/>
<line x1="644.4606832878284" y1="535.5" x2="644.4606832878284" y2="538.5" stroke="#3a3a3a" stroke-width="1"/>
<line x1="648.7710697008147" y1="535.5" x2="648.7710697008147" y2="538.5" stroke="#3a3a3a" stroke-width="1"/>
<line x1="652.1144651495927" y1="535.5" x2="652.1144651495927" y2="538.5" stroke="#3a3a3a" stroke-width="1"/>
<line x1="654.8462181382357" y1="535.5" x2="654.8462181382357" y2="538.5" stroke="#3a3a3a" stroke-width="1"/>
<line x1="657.1558823804919" y1="535.5" x2="657.1558823804919" y2="538.5" stroke="#3a3a3a" stroke-width="1"/>
<line x1="659.156604551222" y1="535.5" x2="659.156604551222" y2="538.5" stroke="#3a3a3a" stroke-width="1"/>
<line x1="660.9213665756567" y1="535.5" x2="660.9213665756567" y2="538.5" stroke="#3a3a3a" stroke-width="1"/>
<line x1="662.5" y1="535.5" x2="662.5" y2="540.0" stroke="#3a3a3a" stroke-width="1"/>
<line x1="672.8855348504073" y1="535.5" x2="672.8855348504073" y2="538.5" stroke="#3a3a3a" stroke-width="1"/>
<text x="557.0" y="547.5" font-size="6.6" fill="#3e3e3e" text-anchor="middle">10<tspan font-size="4.6" dy="-3.0">2</tspan></text>
<text x="591.5" y="547.5" font-size="6.6" fill="#3e3e3e" text-anchor="middle">10<tspan font-size="4.6" dy="-3.0">3</tspan></text>
<text x="626.0" y="547.5" font-size="6.6" fill="#3e3e3e" text-anchor="middle">10<tspan font-size="4.6" dy="-3.0">4</tspan></text>
<text x="660.5" y="547.5" font-size="6.6" fill="#3e3e3e" text-anchor="middle">10<tspan font-size="4.6" dy="-3.0">5</tspan></text>
<text x="607" y="557.8" font-size="8.3" fill="#3e3e3e" text-anchor="middle">PE-A</text>
<text transform="translate(519.5,437) rotate(-90)" font-size="6.6" fill="#3e3e3e" text-anchor="middle">(x 1,000)</text>
<text transform="translate(520,480) rotate(-90)" font-size="7.8" fill="#3e3e3e" text-anchor="middle">SSC-A</text>
<text x="594" y="423.3" font-size="7.5" fill="#3e3e3e" text-anchor="middle" textLength="108" lengthAdjust="spacingAndGlyphs">Specimen_001-H •NULL_1</text>
<rect x="605" y="427.7" width="65" height="107.80000000000001" fill="none" stroke="#454545" stroke-width="1.5"/>
<text x="610.2" y="440.6" font-size="14" font-weight="bold" stroke="#111" stroke-width="0.35" fill="#111" text-anchor="start">99.1%</text>
<text x="639" y="485.5" font-size="7.5" fill="#3a3010" text-anchor="middle">P3</text>
<path d="M524 580.5H563.6" stroke="#000" stroke-width="2.6"/>
<path d="M556.6 574.9L564.6 580.5L556.6 586.1" stroke="#000" stroke-width="2.6" fill="none"/>
<text x="576.3" y="586.8" font-size="17.5" font-weight="bold" stroke="#111" stroke-width="0.35" fill="#111" text-anchor="start" textLength="66" lengthAdjust="spacingAndGlyphs">CD44 PE</text>
</svg>
</body></html>
